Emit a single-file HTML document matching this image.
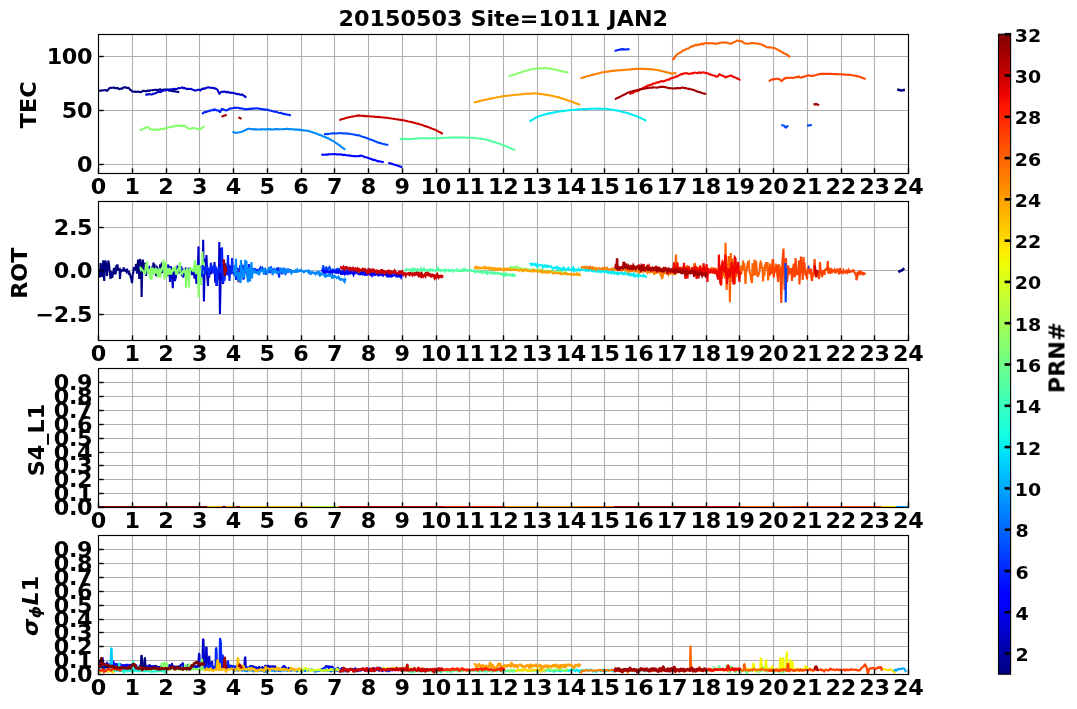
<!DOCTYPE html>
<html lang="en"><head><meta charset="utf-8"><title>20150503 Site=1011 JAN2</title>
<style>html,body{margin:0;padding:0;background:#fff}svg{display:block}</style></head>
<body>
<svg width="1077" height="709" viewBox="0 0 1077 709">
<rect width="1077" height="709" fill="#fff"/>
<defs>
<clipPath id="c0"><rect x="98.5" y="34.5" width="810.0" height="139.0"/></clipPath>
<clipPath id="c1"><rect x="98.5" y="201.5" width="810.0" height="139.0"/></clipPath>
<clipPath id="c2"><rect x="98.5" y="368.5" width="810.0" height="139.0"/></clipPath>
<clipPath id="c3"><rect x="98.5" y="535.5" width="810.0" height="139.0"/></clipPath>
<linearGradient id="jet" x1="0" y1="1" x2="0" y2="0">
<stop offset="0.0000" stop-color="#000080"/>
<stop offset="0.0156" stop-color="#000092"/>
<stop offset="0.0312" stop-color="#0000a4"/>
<stop offset="0.0469" stop-color="#0000b6"/>
<stop offset="0.0625" stop-color="#0000c8"/>
<stop offset="0.0781" stop-color="#0000da"/>
<stop offset="0.0938" stop-color="#0000ec"/>
<stop offset="0.1094" stop-color="#0000fe"/>
<stop offset="0.1250" stop-color="#0000ff"/>
<stop offset="0.1406" stop-color="#0010ff"/>
<stop offset="0.1562" stop-color="#0020ff"/>
<stop offset="0.1719" stop-color="#0030ff"/>
<stop offset="0.1875" stop-color="#0040ff"/>
<stop offset="0.2031" stop-color="#0050ff"/>
<stop offset="0.2188" stop-color="#0060ff"/>
<stop offset="0.2344" stop-color="#0070ff"/>
<stop offset="0.2500" stop-color="#0080ff"/>
<stop offset="0.2656" stop-color="#008fff"/>
<stop offset="0.2812" stop-color="#009fff"/>
<stop offset="0.2969" stop-color="#00afff"/>
<stop offset="0.3125" stop-color="#00bfff"/>
<stop offset="0.3281" stop-color="#00cfff"/>
<stop offset="0.3438" stop-color="#00dffc"/>
<stop offset="0.3594" stop-color="#08efef"/>
<stop offset="0.3750" stop-color="#15ffe2"/>
<stop offset="0.3906" stop-color="#21ffd5"/>
<stop offset="0.4062" stop-color="#2effc9"/>
<stop offset="0.4219" stop-color="#3bffbc"/>
<stop offset="0.4375" stop-color="#48ffaf"/>
<stop offset="0.4531" stop-color="#55ffa2"/>
<stop offset="0.4688" stop-color="#62ff95"/>
<stop offset="0.4844" stop-color="#6fff88"/>
<stop offset="0.5000" stop-color="#7bff7b"/>
<stop offset="0.5156" stop-color="#88ff6f"/>
<stop offset="0.5312" stop-color="#95ff62"/>
<stop offset="0.5469" stop-color="#a2ff55"/>
<stop offset="0.5625" stop-color="#afff48"/>
<stop offset="0.5781" stop-color="#bcff3b"/>
<stop offset="0.5938" stop-color="#c9ff2e"/>
<stop offset="0.6094" stop-color="#d5ff21"/>
<stop offset="0.6250" stop-color="#e2ff15"/>
<stop offset="0.6406" stop-color="#effe08"/>
<stop offset="0.6562" stop-color="#fcf000"/>
<stop offset="0.6719" stop-color="#ffe100"/>
<stop offset="0.6875" stop-color="#ffd200"/>
<stop offset="0.7031" stop-color="#ffc300"/>
<stop offset="0.7188" stop-color="#ffb500"/>
<stop offset="0.7344" stop-color="#ffa600"/>
<stop offset="0.7500" stop-color="#ff9700"/>
<stop offset="0.7656" stop-color="#ff8800"/>
<stop offset="0.7812" stop-color="#ff7a00"/>
<stop offset="0.7969" stop-color="#ff6b00"/>
<stop offset="0.8125" stop-color="#ff5c00"/>
<stop offset="0.8281" stop-color="#ff4d00"/>
<stop offset="0.8438" stop-color="#ff3f00"/>
<stop offset="0.8594" stop-color="#ff3000"/>
<stop offset="0.8750" stop-color="#ff2100"/>
<stop offset="0.8906" stop-color="#fe1200"/>
<stop offset="0.9062" stop-color="#ec0400"/>
<stop offset="0.9219" stop-color="#da0000"/>
<stop offset="0.9375" stop-color="#c80000"/>
<stop offset="0.9531" stop-color="#b60000"/>
<stop offset="0.9688" stop-color="#a40000"/>
<stop offset="0.9844" stop-color="#920000"/>
<stop offset="1.0000" stop-color="#800000"/>
</linearGradient>
</defs>
<g stroke="#b0b0b0" stroke-width="1.1" fill="none">
<line x1="132.5" y1="34.5" x2="132.5" y2="173.5"/>
<line x1="166.5" y1="34.5" x2="166.5" y2="173.5"/>
<line x1="199.5" y1="34.5" x2="199.5" y2="173.5"/>
<line x1="233.5" y1="34.5" x2="233.5" y2="173.5"/>
<line x1="267.5" y1="34.5" x2="267.5" y2="173.5"/>
<line x1="301.5" y1="34.5" x2="301.5" y2="173.5"/>
<line x1="334.5" y1="34.5" x2="334.5" y2="173.5"/>
<line x1="368.5" y1="34.5" x2="368.5" y2="173.5"/>
<line x1="402.5" y1="34.5" x2="402.5" y2="173.5"/>
<line x1="436.5" y1="34.5" x2="436.5" y2="173.5"/>
<line x1="469.5" y1="34.5" x2="469.5" y2="173.5"/>
<line x1="503.5" y1="34.5" x2="503.5" y2="173.5"/>
<line x1="537.5" y1="34.5" x2="537.5" y2="173.5"/>
<line x1="571.5" y1="34.5" x2="571.5" y2="173.5"/>
<line x1="604.5" y1="34.5" x2="604.5" y2="173.5"/>
<line x1="638.5" y1="34.5" x2="638.5" y2="173.5"/>
<line x1="672.5" y1="34.5" x2="672.5" y2="173.5"/>
<line x1="706.5" y1="34.5" x2="706.5" y2="173.5"/>
<line x1="739.5" y1="34.5" x2="739.5" y2="173.5"/>
<line x1="773.5" y1="34.5" x2="773.5" y2="173.5"/>
<line x1="807.5" y1="34.5" x2="807.5" y2="173.5"/>
<line x1="841.5" y1="34.5" x2="841.5" y2="173.5"/>
<line x1="874.5" y1="34.5" x2="874.5" y2="173.5"/>
<line x1="98.5" y1="56.5" x2="908.5" y2="56.5"/>
<line x1="98.5" y1="110.5" x2="908.5" y2="110.5"/>
<line x1="98.5" y1="164.5" x2="908.5" y2="164.5"/>
<line x1="132.5" y1="201.5" x2="132.5" y2="340.5"/>
<line x1="166.5" y1="201.5" x2="166.5" y2="340.5"/>
<line x1="199.5" y1="201.5" x2="199.5" y2="340.5"/>
<line x1="233.5" y1="201.5" x2="233.5" y2="340.5"/>
<line x1="267.5" y1="201.5" x2="267.5" y2="340.5"/>
<line x1="301.5" y1="201.5" x2="301.5" y2="340.5"/>
<line x1="334.5" y1="201.5" x2="334.5" y2="340.5"/>
<line x1="368.5" y1="201.5" x2="368.5" y2="340.5"/>
<line x1="402.5" y1="201.5" x2="402.5" y2="340.5"/>
<line x1="436.5" y1="201.5" x2="436.5" y2="340.5"/>
<line x1="469.5" y1="201.5" x2="469.5" y2="340.5"/>
<line x1="503.5" y1="201.5" x2="503.5" y2="340.5"/>
<line x1="537.5" y1="201.5" x2="537.5" y2="340.5"/>
<line x1="571.5" y1="201.5" x2="571.5" y2="340.5"/>
<line x1="604.5" y1="201.5" x2="604.5" y2="340.5"/>
<line x1="638.5" y1="201.5" x2="638.5" y2="340.5"/>
<line x1="672.5" y1="201.5" x2="672.5" y2="340.5"/>
<line x1="706.5" y1="201.5" x2="706.5" y2="340.5"/>
<line x1="739.5" y1="201.5" x2="739.5" y2="340.5"/>
<line x1="773.5" y1="201.5" x2="773.5" y2="340.5"/>
<line x1="807.5" y1="201.5" x2="807.5" y2="340.5"/>
<line x1="841.5" y1="201.5" x2="841.5" y2="340.5"/>
<line x1="874.5" y1="201.5" x2="874.5" y2="340.5"/>
<line x1="98.5" y1="227.5" x2="908.5" y2="227.5"/>
<line x1="98.5" y1="270.5" x2="908.5" y2="270.5"/>
<line x1="98.5" y1="314.5" x2="908.5" y2="314.5"/>
<line x1="132.5" y1="368.5" x2="132.5" y2="507.5"/>
<line x1="166.5" y1="368.5" x2="166.5" y2="507.5"/>
<line x1="199.5" y1="368.5" x2="199.5" y2="507.5"/>
<line x1="233.5" y1="368.5" x2="233.5" y2="507.5"/>
<line x1="267.5" y1="368.5" x2="267.5" y2="507.5"/>
<line x1="301.5" y1="368.5" x2="301.5" y2="507.5"/>
<line x1="334.5" y1="368.5" x2="334.5" y2="507.5"/>
<line x1="368.5" y1="368.5" x2="368.5" y2="507.5"/>
<line x1="402.5" y1="368.5" x2="402.5" y2="507.5"/>
<line x1="436.5" y1="368.5" x2="436.5" y2="507.5"/>
<line x1="469.5" y1="368.5" x2="469.5" y2="507.5"/>
<line x1="503.5" y1="368.5" x2="503.5" y2="507.5"/>
<line x1="537.5" y1="368.5" x2="537.5" y2="507.5"/>
<line x1="571.5" y1="368.5" x2="571.5" y2="507.5"/>
<line x1="604.5" y1="368.5" x2="604.5" y2="507.5"/>
<line x1="638.5" y1="368.5" x2="638.5" y2="507.5"/>
<line x1="672.5" y1="368.5" x2="672.5" y2="507.5"/>
<line x1="706.5" y1="368.5" x2="706.5" y2="507.5"/>
<line x1="739.5" y1="368.5" x2="739.5" y2="507.5"/>
<line x1="773.5" y1="368.5" x2="773.5" y2="507.5"/>
<line x1="807.5" y1="368.5" x2="807.5" y2="507.5"/>
<line x1="841.5" y1="368.5" x2="841.5" y2="507.5"/>
<line x1="874.5" y1="368.5" x2="874.5" y2="507.5"/>
<line x1="98.5" y1="493.5" x2="908.5" y2="493.5"/>
<line x1="98.5" y1="479.5" x2="908.5" y2="479.5"/>
<line x1="98.5" y1="465.5" x2="908.5" y2="465.5"/>
<line x1="98.5" y1="452.5" x2="908.5" y2="452.5"/>
<line x1="98.5" y1="438.5" x2="908.5" y2="438.5"/>
<line x1="98.5" y1="424.5" x2="908.5" y2="424.5"/>
<line x1="98.5" y1="410.5" x2="908.5" y2="410.5"/>
<line x1="98.5" y1="396.5" x2="908.5" y2="396.5"/>
<line x1="98.5" y1="382.5" x2="908.5" y2="382.5"/>
<line x1="132.5" y1="535.5" x2="132.5" y2="674.5"/>
<line x1="166.5" y1="535.5" x2="166.5" y2="674.5"/>
<line x1="199.5" y1="535.5" x2="199.5" y2="674.5"/>
<line x1="233.5" y1="535.5" x2="233.5" y2="674.5"/>
<line x1="267.5" y1="535.5" x2="267.5" y2="674.5"/>
<line x1="301.5" y1="535.5" x2="301.5" y2="674.5"/>
<line x1="334.5" y1="535.5" x2="334.5" y2="674.5"/>
<line x1="368.5" y1="535.5" x2="368.5" y2="674.5"/>
<line x1="402.5" y1="535.5" x2="402.5" y2="674.5"/>
<line x1="436.5" y1="535.5" x2="436.5" y2="674.5"/>
<line x1="469.5" y1="535.5" x2="469.5" y2="674.5"/>
<line x1="503.5" y1="535.5" x2="503.5" y2="674.5"/>
<line x1="537.5" y1="535.5" x2="537.5" y2="674.5"/>
<line x1="571.5" y1="535.5" x2="571.5" y2="674.5"/>
<line x1="604.5" y1="535.5" x2="604.5" y2="674.5"/>
<line x1="638.5" y1="535.5" x2="638.5" y2="674.5"/>
<line x1="672.5" y1="535.5" x2="672.5" y2="674.5"/>
<line x1="706.5" y1="535.5" x2="706.5" y2="674.5"/>
<line x1="739.5" y1="535.5" x2="739.5" y2="674.5"/>
<line x1="773.5" y1="535.5" x2="773.5" y2="674.5"/>
<line x1="807.5" y1="535.5" x2="807.5" y2="674.5"/>
<line x1="841.5" y1="535.5" x2="841.5" y2="674.5"/>
<line x1="874.5" y1="535.5" x2="874.5" y2="674.5"/>
<line x1="98.5" y1="660.5" x2="908.5" y2="660.5"/>
<line x1="98.5" y1="646.5" x2="908.5" y2="646.5"/>
<line x1="98.5" y1="632.5" x2="908.5" y2="632.5"/>
<line x1="98.5" y1="619.5" x2="908.5" y2="619.5"/>
<line x1="98.5" y1="605.5" x2="908.5" y2="605.5"/>
<line x1="98.5" y1="591.5" x2="908.5" y2="591.5"/>
<line x1="98.5" y1="577.5" x2="908.5" y2="577.5"/>
<line x1="98.5" y1="563.5" x2="908.5" y2="563.5"/>
<line x1="98.5" y1="549.5" x2="908.5" y2="549.5"/>
</g>
<g fill="none" stroke-linejoin="round" stroke-linecap="butt" clip-path="url(#c0)">
<polyline points="99.0,91.2 100.0,90.6 101.0,90.6 102.0,90.6 103.0,90.2 104.0,90.2 105.0,90.3 106.0,90.1 107.0,91.0 108.0,89.9 109.0,88.5 110.0,87.9 111.0,88.0 112.0,87.8 113.0,87.8 114.0,87.5 115.0,88.1 116.0,88.1 117.0,88.2 118.0,88.0 119.0,89.1 120.0,89.0 121.0,88.5 122.0,88.8 123.0,87.9 124.0,87.2 125.0,87.5 126.0,87.2 127.0,88.1 128.0,87.8 129.0,88.2 130.0,89.7 131.0,90.0 132.0,91.4 133.0,91.5 134.0,91.8 135.0,91.5 136.0,92.0 137.0,91.9 138.0,91.5 139.0,92.0 140.0,91.9 141.0,92.2 142.0,91.5 143.0,90.9 144.0,90.7 145.0,91.1 146.0,91.4 147.0,90.8 148.0,90.5 149.0,91.0 150.0,90.5 151.0,90.3 152.0,90.3 153.0,90.1 154.0,90.0 155.0,89.6 156.0,90.1 157.0,89.9 158.0,90.1 159.0,89.7 160.0,89.3 161.0,89.7 162.0,90.2 163.0,89.7 164.0,89.5 165.0,89.5 166.0,89.6 167.0,89.9 168.0,89.8 169.0,90.6 170.0,90.4 171.0,90.6 172.0,91.1 173.0,91.3 174.0,91.1 175.0,91.4 176.0,91.6 177.0,91.7 178.0,91.7 179.0,92.6" stroke="#000080" stroke-width="2.1" />
<polyline points="145.4,94.9 146.4,94.7 147.4,94.3 148.4,94.4 149.4,94.3 150.4,94.3 151.4,94.6 152.4,94.3 153.4,93.8 154.4,93.5 155.4,93.2 156.4,92.8 157.4,92.4 158.4,92.0 159.4,91.8 160.4,92.1 161.4,91.5 162.4,90.9 163.4,90.6 164.4,90.3 165.4,90.4 166.4,90.2 167.4,89.5 168.4,89.8 169.4,89.4 170.4,89.8 171.4,89.3 172.4,89.6 173.4,89.0 174.4,88.9 175.4,89.0 176.4,89.0 177.4,88.7 178.4,88.0 179.4,88.2 180.4,88.0 181.4,87.7 182.4,87.4 183.4,88.3 184.4,88.1 185.4,88.3 186.4,89.0 187.4,88.9 188.4,88.8 189.4,89.0 190.4,89.0 191.4,88.9 192.4,89.6 193.4,90.0 194.4,90.4 195.4,90.5 196.4,90.2 197.4,90.0 198.4,89.6 199.4,89.7 200.4,90.5 201.4,89.4 202.4,88.6 203.4,89.0 204.4,88.4 205.4,88.5 206.4,87.9 207.4,87.5 208.4,87.2 209.4,87.5 210.4,87.7 211.4,87.7 212.4,88.0 213.4,87.8 214.4,88.5 215.4,88.3 216.4,89.1 217.4,89.6 218.4,91.7 219.4,93.9 220.4,92.7 221.4,91.7 222.4,91.8 223.4,91.9 224.4,91.5 225.4,91.9 226.4,92.4 227.4,91.7 228.4,92.3 229.4,92.7 230.4,92.4 231.4,92.9 232.4,92.7 233.4,93.0 234.4,93.2 235.4,93.6 236.4,93.7 237.4,94.2 238.4,93.9 239.4,94.2 240.4,94.7 241.4,94.7 242.4,94.4 243.4,95.6 244.4,96.0 245.4,96.9 246.4,97.5" stroke="#0000ca" stroke-width="2.1" />
<polyline points="202.0,113.8 203.0,113.2 204.0,112.4 205.0,112.1 206.0,112.1 207.0,111.5 208.0,111.4 209.0,110.9 210.0,110.5 211.0,110.7 212.0,110.1 213.0,109.6 214.0,110.3 215.0,109.3 216.0,110.1 217.0,110.4 218.0,110.5 219.0,111.0 220.0,112.2 221.0,110.3 222.0,108.9 223.0,109.2 224.0,109.8 225.0,110.0 226.0,110.5 227.0,110.3 228.0,109.8 229.0,109.0 230.0,108.6 231.0,108.4 232.0,108.2 233.0,108.2 234.0,107.9 235.0,107.8 236.0,107.9 237.0,107.7 238.0,107.8 239.0,108.0 240.0,108.5 241.0,108.3 242.0,108.5 243.0,108.6 244.0,109.0 245.0,109.4 246.0,109.1 247.0,109.1 248.0,109.2 249.0,108.9 250.0,108.7 251.0,108.9 252.0,108.6 253.0,108.6 254.0,108.6 255.0,108.5 256.0,108.2 257.0,108.3 258.0,108.6 259.0,108.7 260.0,108.5 261.0,109.2 262.0,109.1 263.0,109.4 264.0,109.2 265.0,109.8 266.0,109.6 267.0,109.8 268.0,109.8 269.0,110.2 270.0,110.5 271.0,110.7 272.0,111.0 273.0,111.2 274.0,111.6 275.0,111.6 276.0,111.7 277.0,112.1 278.0,112.5 279.0,112.8 280.0,113.0 281.0,112.7 282.0,113.4 283.0,113.9 284.0,113.9 285.0,114.0 286.0,114.5 287.0,114.5 288.0,114.8 289.0,114.8 290.0,115.3 291.0,115.2" stroke="#0025ff" stroke-width="2.1" />
<polyline points="139.6,130.3 140.6,130.2 141.6,129.8 142.6,129.1 143.6,128.7 144.6,127.8 145.6,128.2 146.6,127.4 147.6,126.8 148.6,127.6 149.6,128.6 150.6,129.5 151.6,129.8 152.6,129.9 153.6,129.4 154.6,129.3 155.6,129.9 156.6,129.7 157.6,129.6 158.6,129.9 159.6,129.2 160.6,129.1 161.6,129.3 162.6,129.3 163.6,128.6 164.6,128.9 165.6,128.1 166.6,128.1 167.6,127.7 168.6,127.1 169.6,127.3 170.6,127.2 171.6,126.6 172.6,126.5 173.6,126.7 174.6,125.9 175.6,125.7 176.6,125.8 177.6,125.5 178.6,126.0 179.6,125.8 180.6,125.5 181.6,125.6 182.6,126.5 183.6,125.7 184.6,125.7 185.6,126.4 186.6,127.3 187.6,128.0 188.6,128.6 189.6,128.7 190.6,128.9 191.6,128.5 192.6,127.8 193.6,128.3 194.6,128.2 195.6,128.3 196.6,128.7 197.6,129.2 198.6,129.3 199.6,128.9 200.6,128.9 201.6,128.0 202.6,127.8 203.6,126.6 204.6,126.1" stroke="#89ff6e" stroke-width="2.1" />
<polyline points="221.5,116.8 226.7,114.8" stroke="#a50000" stroke-width="2.2" />
<polyline points="238.5,117.2 241.5,118.9" stroke="#a50000" stroke-width="2.2" />
<polyline points="232.5,131.7 233.7,132.4 234.9,132.6 236.1,132.8 237.3,132.8 238.5,132.5 239.7,132.2 240.9,131.9 242.1,131.6 243.3,131.3 244.5,130.4 245.7,130.1 246.9,129.3 248.1,128.8 249.3,128.7 250.5,129.1 251.7,129.3 252.9,129.1 254.1,129.4 255.3,129.4 256.5,129.3 257.7,129.5 258.9,129.5 260.1,129.3 261.3,129.4 262.5,129.3 263.7,129.3 264.9,129.4 266.1,129.5 267.3,129.3 268.5,129.1 269.7,129.4 270.9,129.2 272.1,129.4 273.3,129.5 274.5,129.3 275.7,129.1 276.9,129.1 278.1,129.4 279.3,129.2 280.5,129.3 281.7,129.3 282.9,129.2 284.1,129.1 285.3,129.0 286.5,128.8 287.7,128.9 288.9,129.1 290.1,129.1 291.3,129.3 292.5,129.3 293.7,129.4 294.9,129.6 296.1,129.5 297.3,129.6 298.5,129.5 299.7,129.9 300.9,129.9 302.1,130.1 303.3,130.4 304.5,130.5 305.7,130.5 306.9,130.8 308.1,130.7 309.3,131.2 310.5,131.6 311.7,131.8 312.9,132.5 314.1,132.7 315.3,133.3 316.5,133.5 317.7,134.1 318.9,134.7 320.1,134.9 321.3,135.3 322.5,136.0 323.7,136.6 324.9,137.0 326.1,137.4 327.3,138.2 328.5,138.4 329.7,139.2 330.9,139.8 332.1,140.6 333.3,141.1 334.5,141.8 335.7,142.8 336.9,143.5 338.1,144.5 339.3,145.2 340.5,146.1 341.7,146.9 342.9,148.0 344.1,148.8 345.3,149.7" stroke="#0088ff" stroke-width="2.1" />
<polyline points="323.9,134.3 325.4,134.1 326.9,134.1 328.4,133.9 329.9,133.8 331.4,133.5 332.9,133.4 334.4,133.4 335.9,133.5 337.4,133.2 338.9,133.2 340.4,133.1 341.9,133.3 343.4,133.4 344.9,133.5 346.4,133.3 347.9,133.6 349.4,133.7 350.9,134.0 352.4,134.2 353.9,134.5 355.4,134.9 356.9,135.3 358.4,135.1 359.9,135.8 361.4,136.4 362.9,136.8 364.4,137.3 365.9,137.7 367.4,138.2 368.9,139.0 370.4,139.6 371.9,140.1 373.4,140.6 374.9,141.3 376.4,141.8 377.9,142.5 379.4,142.9 380.9,143.2 382.4,143.7 383.9,144.0 385.4,144.5 386.9,144.8 388.4,144.8" stroke="#0046ff" stroke-width="2.1" />
<polyline points="321.4,154.9 322.6,154.6 323.8,154.8 325.0,154.7 326.2,154.5 327.4,154.6 328.6,154.4 329.8,154.3 331.0,154.2 332.2,154.2 333.4,154.1 334.6,154.1 335.8,154.1 337.0,154.4 338.2,154.5 339.4,154.4 340.6,154.3 341.8,154.8 343.0,154.9 344.2,154.8 345.4,154.9 346.6,155.3 347.8,155.6 349.0,155.3 350.2,155.8 351.4,155.9 352.6,156.0 353.8,156.3 355.0,156.1 356.2,156.2 357.4,156.3 358.6,156.1 359.8,155.9 361.0,155.6 362.2,156.0 363.4,156.3 364.6,157.2 365.8,157.3 367.0,157.6 368.2,158.0 369.4,158.4 370.6,158.9 371.8,159.1 373.0,159.9 374.2,159.8 375.4,160.2 376.6,160.7 377.8,161.2 379.0,161.4 380.2,161.4 381.4,161.7 382.6,162.0 383.8,162.3" stroke="#0004ff" stroke-width="2.1" />
<polyline points="388.3,162.7 395.6,165.1 402.2,167.2" stroke="#0004ff" stroke-width="2.1" />
<polyline points="339.3,120.2 340.8,119.6 342.3,119.1 343.8,118.7 345.3,118.1 346.8,117.8 348.3,117.4 349.8,117.0 351.3,116.8 352.8,116.5 354.3,116.2 355.8,116.0 357.3,115.6 358.8,115.4 360.3,115.7 361.8,115.8 363.3,115.9 364.8,116.1 366.3,116.1 367.8,116.3 369.3,116.3 370.8,116.5 372.3,116.5 373.8,116.6 375.3,116.9 376.8,117.0 378.3,116.9 379.8,117.1 381.3,117.3 382.8,117.5 384.3,117.5 385.8,117.7 387.3,117.8 388.8,118.2 390.3,118.2 391.8,118.5 393.3,118.7 394.8,119.0 396.3,119.2 397.8,119.4 399.3,119.7 400.8,119.9 402.3,120.2 403.8,120.3 405.3,120.7 406.8,121.1 408.3,121.5 409.8,121.7 411.3,122.0 412.8,122.4 414.3,122.7 415.8,123.3 417.3,123.6 418.8,124.1 420.3,124.5 421.8,124.8 423.3,125.4 424.8,125.9 426.3,126.4 427.8,126.9 429.3,127.6 430.8,128.1 432.3,128.8 433.8,129.3 435.3,129.9 436.8,130.6 438.3,131.4 439.8,132.3 441.3,133.0 442.8,133.8" stroke="#ca0000" stroke-width="2.1" />
<polyline points="399.7,138.9 401.2,138.9 402.7,138.9 404.2,139.0 405.7,138.9 407.2,139.1 408.7,139.1 410.2,139.0 411.7,139.0 413.2,138.8 414.7,138.8 416.2,138.6 417.7,138.5 419.2,138.3 420.7,138.3 422.2,138.2 423.7,138.2 425.2,138.2 426.7,138.2 428.2,138.2 429.7,138.2 431.2,138.2 432.7,138.1 434.2,138.2 435.7,138.2 437.2,138.1 438.7,138.1 440.2,138.0 441.7,138.0 443.2,137.9 444.7,137.8 446.2,137.8 447.7,137.7 449.2,137.6 450.7,137.5 452.2,137.5 453.7,137.4 455.2,137.5 456.7,137.6 458.2,137.5 459.7,137.5 461.2,137.4 462.7,137.5 464.2,137.5 465.7,137.6 467.2,137.7 468.7,137.7 470.2,137.7 471.7,137.7 473.2,137.8 474.7,138.0 476.2,138.1 477.7,138.3 479.2,138.6 480.7,138.7 482.2,138.9 483.7,139.0 485.2,139.5 486.7,139.7 488.2,140.2 489.7,140.7 491.2,141.2 492.7,141.6 494.2,142.0 495.7,142.5 497.2,143.1 498.7,143.6 500.2,144.1 501.7,144.6 503.2,145.2 504.7,145.8 506.2,146.4 507.7,147.0 509.2,147.6 510.7,148.2 512.2,148.9 513.7,149.4 515.2,150.1" stroke="#54ffa3" stroke-width="2.1" />
<polyline points="473.7,102.6 475.2,102.2 476.7,101.8 478.2,101.5 479.7,101.1 481.2,100.7 482.7,100.3 484.2,100.0 485.7,99.7 487.2,99.4 488.7,99.0 490.2,98.7 491.7,98.4 493.2,98.1 494.7,97.7 496.2,97.5 497.7,97.2 499.2,97.0 500.7,96.7 502.2,96.4 503.7,96.2 505.2,96.0 506.7,95.8 508.2,95.7 509.7,95.5 511.2,95.3 512.7,95.2 514.2,95.0 515.7,94.8 517.2,94.7 518.7,94.5 520.2,94.4 521.7,94.2 523.2,94.1 524.7,93.9 526.2,93.8 527.7,93.7 529.2,93.6 530.7,93.6 532.2,93.5 533.7,93.5 535.2,93.4 536.7,93.5 538.2,93.7 539.7,93.9 541.2,94.1 542.7,94.3 544.2,94.5 545.7,94.7 547.2,94.9 548.7,95.2 550.2,95.5 551.7,95.8 553.2,96.1 554.7,96.5 556.2,96.8 557.7,97.1 559.2,97.4 560.7,97.9 562.2,98.4 563.7,98.9 565.2,99.4 566.7,99.9 568.2,100.4 569.7,100.9 571.2,101.5 572.7,102.0 574.2,102.6 575.7,103.2 577.2,103.7 578.7,104.3 580.2,104.9" stroke="#ff9f00" stroke-width="2.1" />
<polyline points="508.6,76.2 510.1,75.8 511.6,75.3 513.1,74.9 514.6,74.4 516.1,74.0 517.6,73.5 519.1,73.0 520.6,72.5 522.1,72.1 523.6,71.6 525.1,71.1 526.6,70.6 528.1,70.2 529.6,69.8 531.1,69.4 532.6,68.9 534.1,68.8 535.6,68.7 537.1,68.6 538.6,68.5 540.1,68.4 541.6,68.3 543.1,68.2 544.6,68.1 546.1,68.0 547.6,68.3 549.1,68.5 550.6,68.8 552.1,69.1 553.6,69.3 555.1,69.6 556.6,70.0 558.1,70.3 559.6,70.7 561.1,71.1 562.6,71.4 564.1,71.7 565.6,72.0 567.1,72.2 568.6,72.5" stroke="#89ff6e" stroke-width="2.1" />
<polyline points="580.4,78.3 581.9,77.9 583.4,77.4 584.9,77.0 586.4,76.6 587.9,76.1 589.4,75.7 590.9,75.2 592.4,74.9 593.9,74.5 595.4,74.1 596.9,73.7 598.4,73.4 599.9,73.0 601.4,72.6 602.9,72.2 604.4,72.0 605.9,71.8 607.4,71.6 608.9,71.4 610.4,71.1 611.9,70.9 613.4,70.7 614.9,70.6 616.4,70.5 617.9,70.4 619.4,70.3 620.9,70.2 622.4,70.1 623.9,70.0 625.4,69.8 626.9,69.7 628.4,69.6 629.9,69.4 631.4,69.3 632.9,69.1 634.4,69.0 635.9,68.9 637.4,68.9 638.9,68.9 640.4,68.9 641.9,68.9 643.4,68.9 644.9,68.9 646.4,69.0 647.9,69.1 649.4,69.1 650.9,69.2 652.4,69.3 653.9,69.6 655.4,69.8 656.9,70.0 658.4,70.3 659.9,70.6 661.4,71.0 662.9,71.3 664.4,71.7 665.9,72.1 667.4,72.4 668.9,72.8 670.4,73.2 671.9,73.6 673.4,73.4 674.9,73.2 676.4,72.9" stroke="#ff8000" stroke-width="2.1" />
<polyline points="529.4,121.6 530.9,120.7 532.4,119.8 533.9,118.9 535.4,117.9 536.9,117.0 538.4,116.5 539.9,116.0 541.4,115.6 542.9,115.1 544.4,114.6 545.9,114.2 547.4,113.7 548.9,113.4 550.4,113.1 551.9,112.9 553.4,112.6 554.9,112.3 556.4,112.0 557.9,111.7 559.4,111.5 560.9,111.3 562.4,111.1 563.9,110.9 565.4,110.7 566.9,110.5 568.4,110.3 569.9,110.1 571.4,110.0 572.9,109.9 574.4,109.8 575.9,109.7 577.4,109.5 578.9,109.4 580.4,109.3 581.9,109.2 583.4,109.1 584.9,109.1 586.4,109.0 587.9,109.0 589.4,108.9 590.9,108.8 592.4,108.8 593.9,108.7 595.4,108.7 596.9,108.6 598.4,108.6 599.9,108.7 601.4,108.7 602.9,108.7 604.4,108.8 605.9,108.8 607.4,109.0 608.9,109.2 610.4,109.5 611.9,109.7 613.4,109.9 614.9,110.2 616.4,110.4 617.9,110.6 619.4,111.0 620.9,111.4 622.4,111.8 623.9,112.2 625.4,112.6 626.9,113.0 628.4,113.4 629.9,113.8 631.4,114.4 632.9,114.9 634.4,115.5 635.9,116.0 637.4,116.6 638.9,117.2 640.4,117.9 641.9,118.6 643.4,119.4 644.9,120.1 646.4,120.8" stroke="#04eaf3" stroke-width="2.1" />
<polyline points="614.6,50.9 618.0,50.0 622.2,49.1 626.0,49.5 629.5,49.1" stroke="#0025ff" stroke-width="2.1" />
<polyline points="629.5,94.3 630.5,93.6 631.5,93.1 632.5,93.2 633.5,92.6 634.5,91.9 635.5,90.9 636.5,91.2 637.5,91.0 638.5,90.7 639.5,89.7 640.5,89.2 641.5,88.8 642.5,88.6 643.5,87.6 644.5,87.4 645.5,86.7 646.5,86.5 647.5,85.6 648.5,85.7 649.5,85.1 650.5,84.8 651.5,84.6 652.5,84.4 653.5,83.3 654.5,83.6 655.5,83.2 656.5,82.6 657.5,82.6 658.5,82.0 659.5,82.1 660.5,81.4 661.5,81.1 662.5,81.4 663.5,81.5 664.5,80.9 665.5,80.7 666.5,80.1 667.5,79.6 668.5,79.5 669.5,79.6 670.5,78.4 671.5,78.3 672.5,77.6 673.5,77.7 674.5,77.5 675.5,76.6 676.5,76.4 677.5,76.4 678.5,75.7 679.5,75.0 680.5,74.6 681.5,74.0 682.5,74.2 683.5,73.4 684.5,73.5 685.5,73.2 686.5,73.1 687.5,73.4 688.5,74.0 689.5,73.8 690.5,73.7 691.5,73.1 692.5,73.6 693.5,73.0 694.5,72.6 695.5,72.8 696.5,73.0 697.5,73.3 698.5,72.6 699.5,72.3 700.5,73.1 701.5,72.6 702.5,72.5 703.5,72.4 704.5,72.5 705.5,73.2 706.5,72.9 707.5,73.2 708.5,73.6 709.5,74.4 710.5,74.3 711.5,75.0 712.5,75.2 713.5,75.5 714.5,75.5 715.5,76.2 716.5,76.7 717.5,76.5 718.5,75.3 719.5,74.2 720.5,74.9 721.5,75.3 722.5,75.8 723.5,76.3 724.5,76.4 725.5,77.5 726.5,77.0 727.5,76.5 728.5,76.2 729.5,76.0 730.5,75.5 731.5,75.6 732.5,76.6 733.5,76.7 734.5,77.2 735.5,77.5 736.5,78.3 737.5,78.5 738.5,79.0 739.5,79.7 740.5,80.0" stroke="#f00600" stroke-width="2.1" />
<polyline points="614.9,99.5 616.1,98.7 617.3,98.0 618.5,97.5 619.7,96.8 620.9,96.4 622.1,95.7 623.3,95.0 624.5,94.6 625.7,93.9 626.9,93.2 628.1,92.5 629.3,92.2 630.5,91.8 631.7,91.5 632.9,91.1 634.1,90.7 635.3,90.5 636.5,90.3 637.7,89.9 638.9,89.7 640.1,89.4 641.3,89.2 642.5,89.0 643.7,88.6 644.9,88.6 646.1,88.3 647.3,88.1 648.5,87.9 649.7,87.8 650.9,87.6 652.1,87.8 653.3,87.3 654.5,87.5 655.7,87.5 656.9,87.6 658.1,87.4 659.3,87.1 660.5,86.9 661.7,86.9 662.9,86.9 664.1,86.9 665.3,87.1 666.5,87.4 667.7,87.8 668.9,88.2 670.1,88.1 671.3,88.3 672.5,88.5 673.7,88.4 674.9,88.2 676.1,88.4 677.3,88.0 678.5,88.1 679.7,88.2 680.9,88.1 682.1,87.5 683.3,87.7 684.5,88.1 685.7,88.0 686.9,88.4 688.1,88.9 689.3,88.8 690.5,89.3 691.7,89.5 692.9,89.6 694.1,90.3 695.3,90.6 696.5,91.2 697.7,91.8 698.9,91.9 700.1,92.2 701.3,92.7 702.5,93.1 703.7,93.6 704.9,93.6 706.1,94.1" stroke="#a50000" stroke-width="2.1" />
<polyline points="672.2,59.9 673.2,59.3 674.2,58.0 675.2,56.6 676.2,55.4 677.2,54.3 678.2,53.6 679.2,53.1 680.2,52.4 681.2,52.2 682.2,51.3 683.2,50.4 684.2,49.8 685.2,49.8 686.2,49.1 687.2,48.7 688.2,48.4 689.2,48.1 690.2,47.0 691.2,46.7 692.2,46.0 693.2,46.2 694.2,45.5 695.2,45.1 696.2,44.9 697.2,45.1 698.2,44.7 699.2,44.4 700.2,44.6 701.2,43.9 702.2,43.6 703.2,44.4 704.2,43.4 705.2,43.2 706.2,43.0 707.2,43.1 708.2,43.4 709.2,43.4 710.2,43.4 711.2,43.2 712.2,43.0 713.2,43.4 714.2,43.8 715.2,43.7 716.2,43.4 717.2,43.6 718.2,43.2 719.2,43.1 720.2,42.6 721.2,42.7 722.2,42.7 723.2,42.4 724.2,42.5 725.2,42.6 726.2,42.7 727.2,42.8 728.2,43.1 729.2,43.5 730.2,43.6 731.2,43.4 732.2,43.1 733.2,42.5 734.2,42.1 735.2,41.6 736.2,41.1 737.2,40.5 738.2,40.8 739.2,41.0 740.2,40.9 741.2,41.3 742.2,41.8 743.2,42.4 744.2,43.1 745.2,43.4 746.2,43.8 747.2,43.7 748.2,43.7 749.2,43.5 750.2,43.4 751.2,43.2 752.2,42.7 753.2,43.1 754.2,43.6 755.2,43.2 756.2,43.3 757.2,43.8 758.2,43.7 759.2,43.7 760.2,44.3 761.2,44.4 762.2,44.9 763.2,45.1 764.2,45.8 765.2,46.3 766.2,46.9 767.2,47.3 768.2,47.4 769.2,47.3 770.2,47.6 771.2,47.2 772.2,47.8 773.2,48.0 774.2,48.0 775.2,48.4 776.2,49.0 777.2,49.2 778.2,50.1 779.2,50.6 780.2,50.8 781.2,51.6 782.2,52.3 783.2,52.8 784.2,53.4 785.2,53.7 786.2,54.2 787.2,54.7 788.2,55.6 789.2,56.6 790.2,56.9" stroke="#ff6200" stroke-width="2.1" />
<polyline points="768.8,81.3 769.8,80.9 770.8,79.8 771.8,79.7 772.8,79.2 773.8,79.1 774.8,79.2 775.8,78.7 776.8,78.8 777.8,78.9 778.8,79.0 779.8,79.6 780.8,80.3 781.8,81.1 782.8,79.8 783.8,79.3 784.8,78.2 785.8,77.9 786.8,78.1 787.8,77.7 788.8,77.7 789.8,78.0 790.8,77.7 791.8,77.8 792.8,78.0 793.8,77.8 794.8,77.2 795.8,77.2 796.8,77.1 797.8,77.1 798.8,76.3 799.8,77.4 800.8,77.6 801.8,77.3 802.8,76.9 803.8,76.9 804.8,76.3 805.8,76.1 806.8,75.8 807.8,75.3 808.8,75.5 809.8,75.6 810.8,75.7 811.8,75.9 812.8,76.0 814.7,75.2 816.2,75.0 817.7,74.6 819.2,74.2 820.7,73.9 822.2,73.9 823.7,73.9 825.2,73.9 826.7,73.8 828.2,73.9 829.7,73.9 831.2,73.9 832.7,74.0 834.2,74.1 835.7,74.1 837.2,74.1 838.7,74.2 840.2,74.2 841.7,74.4 843.2,74.4 844.7,74.6 846.2,74.7 847.7,74.8 849.2,74.9 850.7,75.0 852.2,75.2 853.7,75.5 855.2,75.8 856.7,76.1 858.2,76.4 859.7,76.8 861.2,77.4 862.7,78.0 864.2,78.6 865.7,79.1" stroke="#ff4300" stroke-width="2.1" />
<polyline points="781.3,125.0 784.2,125.7 785.7,127.6 788.3,125.7" stroke="#0046ff" stroke-width="2.2" />
<polyline points="807.1,125.7 811.8,125.0" stroke="#0046ff" stroke-width="2.2" />
<polyline points="813.5,104.4 816.5,104.1 819.1,105.2" stroke="#a50000" stroke-width="2.2" />
<polyline points="897.2,89.5 901.3,90.5 904.9,89.8" stroke="#000080" stroke-width="2.4" />
</g>
<g fill="none" stroke-linejoin="miter" stroke-miterlimit="3" clip-path="url(#c1)">
<polyline points="99.0,276.3 99.5,270.0 100.1,277.4 100.5,263.0 101.1,267.1 101.6,270.9 102.3,277.0 102.7,270.8 103.2,260.4 103.8,273.7 104.2,281.0 104.8,266.4 105.3,260.5 105.9,262.6 106.4,265.2 107.0,276.0 107.4,268.0 108.0,270.5 108.3,260.5 109.0,264.2 109.6,269.9 110.1,275.0 110.5,279.0 111.1,271.3 111.7,273.4 112.2,277.9 112.7,274.9 113.3,273.8 113.8,268.9 114.3,268.7 114.8,271.8 115.4,274.2 115.9,272.0 116.4,265.1 117.0,268.9 117.5,264.3 118.0,270.6 118.5,269.4 119.1,269.4 119.6,269.1 120.0,279.0 120.6,268.9 121.2,271.2 121.7,270.4 122.2,270.7 122.8,270.2 123.3,269.8 123.8,267.5 124.3,270.7 124.9,270.7 125.4,269.2 125.9,270.8 126.5,271.8 127.0,268.7 127.5,271.5 128.0,271.8 128.6,271.8 129.1,274.7 129.6,273.6 130.2,275.2 130.7,277.3 131.2,278.3 132.0,283.0 132.3,280.5 132.8,273.3 133.3,272.8 133.8,267.1 134.4,269.3 134.9,269.7 135.4,269.7 136.0,264.0 136.5,265.2 137.0,273.6 137.5,265.7 138.2,259.5 138.6,263.1 139.3,279.0 139.7,269.1 140.0,259.0 140.7,263.6 141.2,265.5 141.6,297.0 142.3,266.8 142.8,259.5 143.4,265.4 143.9,267.3 144.4,271.8 144.9,262.7 145.5,265.6 146.0,276.0 146.5,268.7 147.0,265.6 147.6,272.3 148.1,271.0 148.6,270.0 149.2,268.7 149.7,271.2 150.2,271.2 150.7,271.7 151.3,268.6 151.8,272.6 152.3,266.4 152.9,274.3 153.4,262.5 153.9,269.0 154.4,263.7 155.0,273.0 155.5,266.4 156.0,276.0 156.6,266.2 157.1,276.6 157.6,272.0 158.1,270.9 158.7,272.0 159.2,277.0 159.7,273.3 160.2,264.3 160.8,274.1 161.3,271.4 161.8,262.6 162.4,272.9 162.9,267.2 163.4,271.2 163.9,271.4 164.5,267.0 165.0,274.4 165.5,267.8 166.1,271.2 166.6,269.2 167.1,270.2 167.6,276.1 168.2,271.0 168.7,267.6 169.2,270.4 169.8,268.5 170.3,270.8 170.8,271.2 171.3,270.9 171.9,270.9 172.4,269.2 172.9,272.0 173.4,273.7 174.0,269.0 174.5,270.5 175.0,270.9 175.6,277.7 176.1,273.7 176.6,268.7 177.1,270.9 177.7,266.6 178.2,268.0 178.7,270.7 179.3,272.4 179.8,273.3" stroke="#000080" stroke-width="2.1" />
<polyline points="145.0,272.7 145.6,273.6 146.3,270.7 146.9,269.4 147.5,268.7 148.1,272.8 148.8,268.7 149.4,267.7 150.0,270.2 150.6,270.7 151.3,272.4 151.9,272.7 152.5,267.8 153.2,269.1 153.8,270.0 154.4,268.2 155.0,270.5 155.7,271.6 156.3,270.9 156.9,267.4 157.5,268.2 158.2,273.4 158.8,268.6 159.4,272.3 160.0,273.4 160.7,270.0 161.3,268.6 161.9,271.6 162.6,268.8 163.2,269.9 163.8,270.9 164.4,267.6 165.1,270.2 165.7,270.0 166.3,268.0 166.9,270.3 167.6,269.3 168.2,264.5 168.8,270.0 169.5,270.1 170.0,282.0 170.7,266.1 171.3,272.4 172.0,272.2 172.8,288.2 173.2,271.4 173.8,267.8 174.5,271.0 175.0,281.0 175.7,277.2 176.4,269.5 177.0,272.2 177.6,267.1 178.2,268.0 178.9,269.4 179.5,272.3 180.1,272.0 180.7,271.4 181.4,266.3 182.0,276.1 182.6,268.5 183.2,277.4 183.9,275.2 184.5,274.7 185.1,273.1 185.8,267.6 186.4,277.6 187.0,271.2 187.6,273.1 188.3,268.6 188.9,270.5 189.5,267.8 190.1,270.1 190.8,270.7 191.4,271.4 192.0,275.1 192.7,272.3 193.3,272.4 193.9,271.0 194.5,278.6 195.2,268.3 195.8,275.8 196.5,284.0 197.0,266.8 197.7,274.3 198.5,246.4 198.9,283.1 199.5,282.0 200.2,283.0 200.8,266.0 201.4,270.1 202.1,278.4 202.7,275.7 203.2,239.8 203.9,301.5 204.6,267.0 205.2,258.9 205.8,263.9 206.5,255.0 207.1,274.2 208.0,286.0 208.3,271.2 209.0,277.9 209.6,271.4 210.2,269.4 210.8,273.4 211.5,273.0 212.1,271.1 212.7,268.4 213.3,268.9 214.0,271.1 214.5,262.0 215.2,282.5 215.9,278.6 216.5,286.0 217.1,279.6 217.7,277.7 218.4,277.0 219.0,272.4 219.3,242.0 219.9,313.9 220.9,267.8 221.5,248.0 222.1,266.9 223.0,284.0 223.4,272.6 224.0,275.3 224.6,269.7 225.3,263.2 225.9,272.1 226.5,274.8 227.1,270.8 227.8,270.2 228.4,272.9 229.0,276.1 229.6,270.5 230.3,265.7 230.9,266.9 231.5,270.2 232.2,264.9 232.8,273.1 233.4,268.4 234.0,272.2 234.7,271.8 235.3,269.0 235.9,275.1 236.5,269.2 237.2,268.9 237.8,272.2 238.4,275.1 239.1,270.7 239.7,268.2 240.3,272.4 240.9,272.2 241.6,275.8 242.2,270.2 242.8,271.2 243.4,269.4 244.1,267.2 244.7,270.9 245.3,272.6 245.9,266.1 246.6,269.2" stroke="#0000ca" stroke-width="2.1" />
<polyline points="139.6,267.8 140.2,267.6 140.9,269.7 141.5,268.9 142.1,269.6 142.7,270.7 143.4,271.3 144.0,272.7 144.6,272.7 145.2,273.2 145.9,263.7 146.5,268.3 147.0,261.5 147.8,272.8 148.4,268.6 149.0,274.5 149.6,271.2 150.0,279.0 150.9,267.3 151.5,280.0 152.1,272.1 152.8,267.5 153.4,274.1 154.0,273.1 154.6,268.7 155.3,273.7 155.9,268.6 156.5,268.8 157.2,270.2 157.8,277.4 158.4,274.6 159.0,270.5 159.7,268.4 160.3,277.7 160.9,269.9 161.5,271.4 162.2,267.3 162.8,268.4 163.3,259.6 164.1,266.2 164.5,279.4 165.3,269.8 166.0,262.0 166.6,277.3 167.2,268.2 167.8,272.1 168.4,274.7 169.1,272.0 169.7,267.8 170.3,273.4 171.0,274.0 171.6,273.5 172.2,269.3 172.8,271.5 173.5,268.0 174.1,271.1 174.7,267.4 175.3,267.7 176.0,274.6 176.6,270.2 177.2,275.2 177.8,270.3 178.5,268.7 179.1,270.2 180.0,262.0 180.4,271.9 181.0,273.4 181.6,273.2 182.2,273.9 182.9,271.5 183.5,270.0 184.1,272.4 184.7,270.4 185.4,271.7 186.0,288.2 186.6,270.3 187.3,268.4 187.8,272.0 188.5,277.7 189.0,287.5 189.8,269.8 190.4,267.5 191.0,270.2 191.6,268.3 192.3,271.1 192.9,268.3 193.5,272.0 194.1,268.2 195.0,260.0 195.4,265.9 196.0,274.2 196.7,265.6 197.3,266.0 197.9,267.1 198.5,297.0 199.2,265.0 199.6,268.0 200.4,272.4 201.0,285.0 201.7,269.7 202.5,251.5 202.9,272.6 203.8,262.0 204.2,271.5 204.8,270.7" stroke="#89ff6e" stroke-width="2.1" />
<polyline points="202.0,276.8 202.6,266.2 203.3,266.4 203.9,268.2 204.5,267.3 205.1,274.4 205.8,267.4 206.4,270.8 207.0,265.4 207.6,269.2 208.3,271.2 208.9,276.2 209.5,267.9 210.2,271.9 210.8,262.7 211.4,266.0 212.0,267.4 212.7,268.6 213.3,272.1 213.9,272.8 214.5,264.5 215.2,272.4 215.8,266.4 216.4,277.2 216.9,286.0 217.7,271.0 218.3,268.9 218.9,270.3 219.6,270.5 220.2,268.0 220.8,273.2 221.4,271.4 222.0,247.2 222.7,270.2 223.3,283.0 223.9,264.8 224.6,280.8 225.2,267.9 225.8,268.9 226.5,273.9 227.1,274.9 228.0,255.0 228.3,264.6 229.0,265.5 229.5,281.0 230.2,267.7 230.8,269.9 231.5,274.1 232.0,258.0 232.7,268.3 233.4,272.4 234.0,273.5 234.6,275.4 235.2,269.9 236.0,280.0 236.5,273.1 237.1,275.7 237.7,268.7 238.4,277.2 239.0,276.4 239.6,269.6 240.2,265.1 240.9,268.4 241.5,267.9 242.1,272.3 242.8,264.8 243.4,278.7 244.0,278.4 244.6,268.0 245.3,264.2 245.9,269.1 246.5,271.9 247.1,275.0 247.8,272.8 248.4,269.8 249.0,264.0 249.7,272.2 250.3,273.2 250.9,269.6 251.5,271.3 252.2,271.0 252.8,270.0 253.4,268.0 254.0,271.2 254.7,268.1 255.3,272.9 255.9,269.1 256.5,271.4 257.2,269.4 257.8,271.2 258.4,270.2 259.1,271.4 259.7,269.3 260.3,268.0 260.9,270.1 261.6,270.0 262.2,268.2 262.8,269.5 263.4,267.9 264.1,270.8 264.7,270.0 265.3,270.6 266.0,274.7 266.6,271.0 267.2,271.2 267.8,271.6 268.5,270.4 269.1,269.7 269.7,271.9 270.3,272.2 271.0,266.4 271.6,270.3 272.2,270.1 272.9,269.7 273.5,272.5 274.1,269.8 274.7,271.9 275.4,269.8 276.0,269.3 276.6,271.7 277.2,269.5 277.9,270.3 278.5,267.2 279.0,277.5 279.7,272.6 280.4,271.4 281.0,268.9 281.6,268.9 282.3,274.3 282.9,269.7 283.5,269.3 284.1,271.3 284.8,269.5 285.4,269.4 286.0,273.0 286.6,272.0 287.3,270.3 287.9,272.5 288.5,270.4 289.2,270.3 289.8,270.6 290.4,270.2 291.0,271.3" stroke="#0025ff" stroke-width="2.1" />
<polyline points="223.3,262.0 223.8,259.6 224.4,268.0 224.8,275.8 225.6,266.0 226.3,272.0" stroke="#a50000" stroke-width="2.4" />
<polyline points="238.4,282.3 239.5,276.0 240.6,270.2 241.2,272.0" stroke="#a50000" stroke-width="2.4" />
<polyline points="233.5,272.5 234.1,271.2 234.7,265.2 235.3,276.9 236.0,258.9 236.5,273.4 237.1,273.9 237.7,273.5 238.5,281.0 238.8,278.8 239.4,272.2 240.0,276.2 240.6,283.1 241.0,260.0 241.8,269.5 242.4,277.2 243.0,274.2 243.6,270.1 244.0,278.0 244.8,266.7 245.4,259.7 246.0,271.5 246.5,261.0 247.2,276.2 248.0,282.4 248.3,273.2 248.9,267.3 249.5,276.0 250.0,281.5 250.7,273.9 251.5,262.0 251.9,278.3 252.5,273.4 253.1,268.9 253.7,271.3 254.3,270.6 254.9,273.3 255.5,271.7 256.1,272.3 256.7,272.9 257.3,272.1 257.9,271.9 258.4,273.2 259.0,271.7 259.6,273.2 260.2,271.5 260.8,270.8 261.4,269.3 262.0,270.9 262.6,270.7 263.2,270.1 263.8,274.6 264.4,268.0 265.0,271.0 265.6,269.6 266.2,271.1 266.8,274.0 267.4,272.1 268.0,272.5 268.5,270.6 269.1,267.1 269.7,268.9 270.3,268.9 270.9,267.5 271.5,271.4 272.1,271.2 272.7,275.1 273.3,271.6 273.9,270.5 274.5,269.5 275.1,271.1 275.7,269.7 276.3,272.0 276.9,273.8 277.5,272.1 278.0,272.3 278.6,272.5 279.2,271.7 279.8,271.9 280.4,271.4 281.0,269.0 281.6,269.3 282.2,271.0 282.8,273.2 283.4,270.5 284.0,267.8 284.6,269.4 285.2,274.9 285.8,269.6 286.4,271.9 287.0,271.6 287.6,269.5 288.1,268.4 288.7,272.2 289.3,270.4 289.9,270.6 290.5,272.1 291.1,271.3 291.7,272.8 292.3,271.2 292.9,271.7 293.5,271.2 294.1,271.7 294.7,271.8 295.3,270.8 295.9,272.7 296.5,270.6 297.1,269.6 297.7,271.3 298.2,271.7 298.8,271.1 299.4,270.3 300.0,270.9 300.6,271.1 301.2,270.1 301.8,270.9 302.4,270.9 303.0,271.2 303.6,272.3 304.2,272.1 304.8,271.4 305.4,271.3 306.0,270.6 306.6,270.9 307.2,271.2 307.7,271.7 308.3,271.0 308.9,272.4 309.5,271.4 310.1,272.5 310.7,274.6 311.3,272.7 311.9,272.1 312.5,272.1 313.1,273.2 313.7,273.2 314.3,272.9 314.9,272.9 315.5,274.1 316.1,272.7 316.7,272.9 317.3,273.0 317.8,271.3 318.4,273.4 319.0,272.6 319.6,274.7 320.2,273.5 320.8,274.8 321.4,273.9 322.0,273.5 322.6,274.4 323.2,274.5 323.8,273.9 324.4,275.4 325.0,276.8 325.6,276.8 326.2,274.6 326.8,276.0 327.4,276.0 327.9,275.2 328.5,274.5 329.1,275.4 329.7,274.0 330.3,274.7 330.9,275.7 331.5,276.1 332.1,278.4 332.7,276.3 333.3,277.2 333.9,276.3 334.5,276.7 335.1,276.3 335.7,277.0 336.3,277.1 336.9,278.0 337.4,277.6 338.0,278.0 338.6,276.9 339.2,278.3 339.8,279.3 340.4,278.9 341.0,279.8 341.6,279.5 342.2,279.2 342.8,279.7 343.4,279.6 344.0,281.3 344.6,282.0 345.2,279.5 345.8,280.5" stroke="#0088ff" stroke-width="2.1" />
<polyline points="322.4,270.5 323.2,265.5 323.6,268.2 324.2,273.0 324.8,270.3 325.4,273.2 326.0,266.5 326.6,271.0 327.2,271.4 327.7,269.5 328.3,268.2 328.9,268.4 329.5,267.2 330.1,268.5 330.7,269.9 331.3,270.5 331.9,271.0 332.5,271.5 333.1,268.7 333.7,271.5 334.3,271.0 334.9,270.4 335.5,272.7 336.1,272.6 336.7,271.0 337.2,268.1 337.8,270.5 338.4,269.5 339.0,269.3 339.6,272.9 340.2,271.7 340.8,272.0 341.4,271.8 342.0,271.5 342.6,274.0 343.2,272.7 343.8,272.0 344.4,270.6 345.0,271.9 345.6,270.8 346.2,271.6 346.8,271.9 347.3,270.8 347.9,269.8 348.5,269.9 349.1,271.8 349.7,272.0 350.3,272.8 350.9,270.3 351.5,272.2 352.1,271.5 352.7,270.4 353.3,272.5 353.9,271.7 354.5,272.2 355.1,271.0 355.7,269.7 356.3,272.1 356.9,270.3 357.4,270.5 358.0,272.1 358.6,270.2 359.2,271.3 359.8,271.9 360.4,272.1 361.0,273.8 361.6,273.4 362.2,270.3 362.8,273.6 363.4,272.8 364.0,271.6 364.6,272.8 365.2,270.3 365.8,271.9 366.4,272.1 366.9,272.5 367.5,272.4 368.1,270.6 368.7,271.4 369.3,270.4 369.9,273.6 370.5,271.9 371.1,271.1 371.7,273.0 372.3,272.1 372.9,272.4 373.5,272.5 374.1,273.3 374.7,272.4 375.3,273.5 375.9,272.2 376.5,272.9 377.0,272.1 377.6,270.8 378.2,275.2 378.8,274.9 379.4,272.7 380.0,272.6 380.6,273.7 381.2,271.9 381.8,271.9 382.4,273.0 383.0,272.6 383.6,273.4 384.2,271.7 384.8,273.4 385.4,273.5 386.0,272.6 386.6,274.5 387.1,274.0 387.7,274.8 388.3,275.9 388.9,274.7" stroke="#0046ff" stroke-width="2.1" />
<polyline points="321.4,271.4 322.0,270.9 322.6,271.2 323.2,271.8 323.8,270.7 324.4,272.9 325.0,270.8 325.6,272.3 326.2,271.2 326.7,270.8 327.3,272.1 327.9,271.9 328.5,271.7 329.1,271.8 329.7,271.4 330.3,272.3 330.9,271.6 331.5,272.0 332.1,272.9 332.7,271.0 333.3,271.6 333.9,271.6 334.5,271.5 335.1,271.1 335.7,272.0 336.2,272.3 336.8,272.2 337.4,270.1 338.0,272.8 338.6,272.9 339.2,272.4 339.8,270.9 340.4,271.8 341.0,274.0 341.6,273.8 342.2,272.9 342.8,271.9 343.4,274.5 344.0,272.8 344.6,273.9 345.2,272.3 345.8,273.1 346.3,272.4 346.9,273.4 347.5,272.3 348.1,273.6 348.7,272.3 349.3,272.2 349.9,273.4 350.5,273.2 351.1,271.4 351.7,273.0 352.3,273.2 352.9,273.3 353.5,274.7 354.1,272.7 354.7,273.2 355.3,271.9 355.9,272.2 356.4,272.4 357.0,273.2 357.6,273.2 358.2,273.9 358.8,274.0 359.4,274.2 360.0,273.4 360.6,273.9 361.2,273.0 361.8,273.9 362.4,274.0 363.0,273.3 363.6,271.5 364.2,273.2 364.8,275.7 365.4,273.7 365.9,273.3 366.5,273.9 367.1,274.7 367.7,274.2 368.3,273.8 368.9,272.0 369.5,273.8 370.1,273.1 370.7,274.4 371.3,275.3 371.9,275.8 372.5,273.7 373.1,272.7 373.7,273.2 374.3,275.0 374.9,274.7 375.5,274.9 376.0,274.6 376.6,273.5 377.2,272.3 377.8,275.3 378.4,273.2 379.0,276.0 379.6,272.9 380.2,273.7 380.8,273.9 381.4,274.9 382.0,275.2 382.6,274.3 383.2,275.2 383.8,273.8 384.4,274.4 385.0,273.9 385.6,274.5 386.1,274.4 386.7,275.2 387.3,277.2 387.9,274.0 388.5,274.9 389.1,275.6 389.7,275.2 390.3,277.3 390.9,274.4 391.5,275.8 392.1,274.6 392.7,275.9 393.3,275.4 393.9,275.5 394.5,274.9 395.1,274.0 395.6,274.6 396.2,276.0 396.8,275.3 397.4,276.1 398.0,274.5 398.6,276.1 399.2,276.4 399.8,274.0 400.4,275.9 401.0,277.2 401.6,275.2 402.2,276.6" stroke="#0004ff" stroke-width="2.1" />
<polyline points="340.0,267.7 340.6,267.4 341.2,267.8 341.8,269.3 342.4,266.5 343.0,268.0 343.6,266.9 344.2,267.8 344.8,269.3 345.3,268.7 345.9,268.5 346.5,266.3 347.1,268.2 347.7,268.3 348.3,268.4 348.9,268.9 349.5,269.6 350.1,268.0 350.7,268.3 351.3,269.5 351.9,268.9 352.5,269.4 353.1,268.3 353.7,269.5 354.3,267.8 354.8,271.0 355.4,267.7 356.0,269.3 356.6,269.6 357.2,270.5 357.8,269.0 358.4,269.8 359.0,271.1 359.6,269.4 360.2,269.8 360.8,270.1 361.4,270.5 362.0,270.4 362.6,269.2 363.2,269.9 363.8,271.1 364.4,268.3 364.9,269.4 365.5,269.8 366.1,270.6 366.7,272.4 367.3,271.9 367.9,272.6 368.5,270.1 369.1,270.9 369.7,273.1 370.3,270.0 370.9,270.3 371.5,269.1 372.1,272.5 372.7,270.1 373.3,268.7 373.9,271.1 374.5,270.6 375.0,270.8 375.6,271.6 376.2,271.1 376.8,273.8 377.4,271.7 378.0,270.1 378.6,272.2 379.2,271.5 379.8,271.5 380.4,272.1 381.0,272.6 381.6,269.2 382.2,271.9 382.8,270.9 383.4,271.6 384.0,271.4 384.5,273.3 385.1,272.6 385.7,272.5 386.3,272.0 386.9,271.3 387.5,271.4 388.1,271.1 388.7,274.1 389.3,271.7 389.9,272.5 390.5,271.7 391.1,272.9 391.7,271.8 392.3,272.0 392.9,272.5 393.5,272.8 394.1,272.0 394.6,270.7 395.2,271.4 395.8,272.8 396.4,273.5 397.0,273.6 397.6,273.6 398.2,273.2 398.8,272.4 399.4,273.5 400.0,273.0 400.6,270.7 401.2,272.4 401.8,271.8 402.4,274.6 403.0,273.2 403.6,274.5 404.2,273.6 404.7,273.3 405.3,273.5 405.9,275.3 406.5,273.9 407.1,274.0 407.7,273.6 408.3,273.3 408.9,274.2 409.5,272.5 410.1,274.3 410.7,273.5 411.3,275.0 411.9,272.8 412.5,274.5 413.1,273.3 413.7,273.8 414.2,274.6 414.8,273.3 415.4,273.1 416.0,274.5 416.6,274.3 417.2,272.0 417.8,273.3 418.4,275.1 419.0,273.9 419.6,275.3 420.2,276.0 420.8,273.6 421.4,272.9 422.0,276.0 422.6,275.3 423.2,276.4 423.8,275.5 424.3,275.6 424.9,274.6 425.5,275.8 426.1,273.6 426.7,272.7 427.3,274.6 427.9,274.9 428.5,273.8 429.1,274.8 429.7,274.3 430.3,275.6 430.9,277.0 431.5,274.0 432.1,275.7 432.7,274.9 433.3,275.1 433.9,276.2 434.4,277.5 435.0,275.9 435.6,275.5 436.2,277.5 436.8,276.4 437.4,274.8 438.0,276.2 438.6,277.4 439.2,276.3 439.8,276.6 440.4,276.8 441.0,275.0 441.6,277.9 442.2,276.3 442.8,275.1" stroke="#ca0000" stroke-width="2.4" />
<polyline points="529.7,264.4 530.3,263.9 530.9,264.0 531.5,264.9 532.1,263.8 532.7,264.5 533.3,264.5 533.9,264.8 534.5,264.1 535.0,263.9 535.6,264.8 536.2,265.7 536.8,264.8 537.4,266.4 538.0,264.8 538.6,265.5 539.2,265.5 539.8,265.1 540.4,265.2 541.0,265.3 541.6,265.4 542.2,265.2 542.8,267.3 543.4,266.1 544.0,266.4 544.6,265.5 545.1,266.5 545.7,266.0 546.3,265.8 546.9,267.0 547.5,266.8 548.1,265.9 548.7,266.6 549.3,266.5 549.9,266.4 550.5,266.2 551.1,266.6 551.7,267.2 552.3,268.1 552.9,268.8 553.5,268.2 554.1,267.6 554.6,267.5 555.2,267.6 555.8,268.2 556.4,267.4 557.0,266.9 557.6,269.0 558.2,268.7 558.8,268.2 559.4,269.8 560.0,268.3 560.6,268.7 561.2,269.7 561.8,268.1 562.4,270.1 563.0,269.7 563.6,267.9 564.2,269.1 564.7,268.8 565.3,270.0 565.9,269.3 566.5,269.8 567.1,269.9 567.7,269.7 568.3,268.2 568.9,269.2 569.5,269.5 570.1,269.7 570.7,269.5 571.3,270.0 571.9,268.7 572.5,269.4 573.1,268.1 573.7,270.3 574.3,269.4 574.8,270.7 575.4,269.9 576.0,269.7 576.6,270.4 577.2,270.6 577.8,269.9 578.4,268.7 579.0,269.7 579.6,270.4 580.2,269.8 580.8,269.6 581.4,269.1 582.0,270.0 582.6,269.8 583.2,269.7 583.8,269.9 584.3,269.5 584.9,269.9 585.5,270.5 586.1,268.6 586.7,270.3 587.3,270.2 587.9,270.7 588.5,270.9 589.1,269.3 589.7,269.9 590.3,269.9 590.9,270.3 591.5,270.9 592.1,270.0 592.7,271.1 593.3,271.4 593.9,270.3 594.4,270.4 595.0,270.8 595.6,271.5 596.2,270.2 596.8,271.2 597.4,271.0 598.0,270.8 598.6,271.7 599.2,270.7 599.8,272.5 600.4,270.8 601.0,271.9 601.6,271.2 602.2,271.1 602.8,271.4 603.4,270.7 604.0,271.8 604.5,272.2 605.1,271.8 605.7,271.7 606.3,271.7 606.9,270.8 607.5,272.1 608.1,273.1 608.7,272.4 609.3,272.0 609.9,272.1 610.5,272.3 611.1,273.1 611.7,271.2 612.3,271.8 612.9,270.9 613.5,272.9 614.0,272.3 614.6,273.2 615.2,272.7 615.8,272.8 616.4,273.6 617.0,273.9 617.6,272.7 618.2,273.9 618.8,273.3 619.4,273.5 620.0,273.1 620.6,272.5 621.2,272.9 621.8,272.5 622.4,273.7 623.0,274.3 623.6,273.7 624.1,273.9 624.7,272.7 625.3,273.6 625.9,274.1 626.5,273.6 627.1,273.4 627.7,274.5 628.3,274.6 628.9,272.9 629.5,274.8 630.1,274.0 630.7,274.9 631.3,274.2 631.9,275.2 632.5,275.1 633.1,274.2 633.7,275.5 634.2,274.0 634.8,274.8 635.4,276.4 636.0,276.1 636.6,275.3 637.2,275.7 637.8,274.9 638.4,276.4 639.0,275.1 639.6,275.9 640.2,276.1 640.8,275.7 641.4,275.6 642.0,275.8 642.6,276.3 643.2,276.3 643.7,275.3 644.3,276.3 644.9,276.1 645.5,276.4 646.1,276.9 646.7,276.3" stroke="#04eaf3" stroke-width="2.1" />
<polyline points="404.4,270.0 405.0,270.5 405.6,269.9 406.2,269.2 406.8,270.1 407.4,269.8 408.0,269.6 408.6,269.7 409.2,270.2 409.7,269.6 410.3,270.3 410.9,270.3 411.5,270.9 412.1,269.0 412.7,269.4 413.3,270.5 413.9,269.1 414.5,270.1 415.1,270.5 415.7,269.1 416.3,269.3 416.9,270.3 417.5,269.6 418.1,270.5 418.7,270.0 419.2,270.4 419.8,270.1 420.4,270.4 421.0,268.7 421.6,270.3 422.2,269.8 422.8,270.5 423.4,269.9 424.0,268.7 424.6,270.6 425.2,270.5 425.8,270.3 426.4,270.7 427.0,270.3 427.6,269.8 428.2,270.1 428.8,270.5 429.3,270.3 429.9,271.0 430.5,269.3 431.1,269.6 431.7,270.0 432.3,270.5 432.9,269.9 433.5,270.1 434.1,270.6 434.7,270.4 435.3,270.1 435.9,270.7 436.5,269.9 437.1,268.9 437.7,270.8 438.3,268.9 438.9,270.4 439.4,270.1 440.0,270.1 440.6,271.0 441.2,270.5 441.8,270.2 442.4,269.9 443.0,270.3 443.6,270.0 444.2,270.5 444.8,271.4 445.4,269.8 446.0,270.7 446.6,270.4 447.2,270.5 447.8,270.3 448.4,269.7 448.9,270.4 449.5,271.3 450.1,271.0 450.7,270.1 451.3,270.2 451.9,270.3 452.5,269.9 453.1,271.3 453.7,270.4 454.3,270.5 454.9,270.6 455.5,270.3 456.1,270.3 456.7,269.5 457.3,271.0 457.9,271.0 458.5,271.0 459.0,270.6 459.6,271.0 460.2,270.8 460.8,270.0 461.4,270.9 462.0,270.9 462.6,270.2 463.2,269.6 463.8,271.0 464.4,270.5 465.0,269.2 465.6,270.4 466.2,270.1 466.8,270.4 467.4,271.1 468.0,270.9 468.6,270.6 469.1,269.9 469.7,270.2 470.3,269.7 470.9,270.0 471.5,271.0 472.1,270.6 472.7,270.6 473.3,271.0 473.9,270.4 474.5,270.6 475.1,272.3 475.7,271.3 476.3,271.1 476.9,271.4 477.5,271.8 478.1,271.1 478.6,271.3 479.2,272.0 479.8,271.5 480.4,271.9 481.0,271.5 481.6,271.6 482.2,272.8 482.8,271.4 483.4,271.9 484.0,271.5 484.6,272.1 485.2,272.6 485.8,273.1 486.4,272.3 487.0,271.5 487.6,273.4 488.2,272.5 488.7,272.7 489.3,272.3 489.9,272.6 490.5,272.9 491.1,272.2 491.7,273.4 492.3,272.5 492.9,272.6 493.5,272.4 494.1,273.8 494.7,273.4 495.3,272.8 495.9,273.1 496.5,273.7 497.1,273.6 497.7,273.0 498.3,273.6 498.8,273.3 499.4,273.9 500.0,273.9 500.6,274.2 501.2,273.4 501.8,273.8 502.4,274.1 503.0,275.1 503.6,273.7 504.2,275.3 504.8,274.2 505.4,275.4 506.0,275.4 506.6,273.9 507.2,275.0 507.8,274.6 508.3,274.8 508.9,274.8 509.5,275.1 510.1,274.2 510.7,275.0 511.3,275.1 511.9,275.8 512.5,274.8 513.1,274.4 513.7,275.6 514.3,275.1 514.9,275.6 515.5,276.4" stroke="#54ffa3" stroke-width="2.1" />
<polyline points="509.3,266.8 509.9,267.4 510.5,267.8 511.1,267.1 511.7,267.7 512.3,267.3 512.9,268.0 513.5,267.9 514.1,267.5 514.6,267.3 515.2,268.0 515.8,267.3 516.4,268.1 517.0,268.3 517.6,266.9 518.2,268.2 518.8,268.5 519.4,268.6 520.0,268.0 520.6,268.6 521.2,268.7 521.8,268.8 522.4,268.6 523.0,269.1 523.6,269.2 524.1,270.1 524.7,269.1 525.3,269.1 525.9,269.0 526.5,269.7 527.1,269.0 527.7,269.3 528.3,270.2 528.9,269.6 529.5,269.5 530.1,269.6 530.7,269.7 531.3,269.8 531.9,270.2 532.5,270.1 533.1,269.3 533.7,269.5 534.2,270.8 534.8,271.2 535.4,270.1 536.0,269.9 536.6,270.8 537.2,270.6 537.8,270.5 538.4,269.4 539.0,270.1 539.6,269.9 540.2,270.4 540.8,270.9 541.4,270.4 542.0,270.1 542.6,270.7 543.2,270.5 543.8,270.6 544.3,271.2 544.9,271.6 545.5,271.4 546.1,271.5 546.7,270.9 547.3,271.6 547.9,271.4 548.5,271.4 549.1,271.0 549.7,271.7 550.3,271.3 550.9,272.2 551.5,271.6 552.1,271.2 552.7,271.7 553.3,271.7 553.8,271.8 554.4,272.1 555.0,272.2 555.6,272.2 556.2,272.5 556.8,272.3 557.4,271.8 558.0,272.8 558.6,272.6 559.2,272.5 559.8,271.4 560.4,272.4 561.0,272.2 561.6,272.8 562.2,272.4 562.8,273.5 563.4,273.1 563.9,273.3 564.5,272.9 565.1,272.1 565.7,274.1 566.3,273.9 566.9,273.3 567.5,273.7 568.1,274.2" stroke="#89ff6e" stroke-width="2.1" />
<polyline points="474.1,268.1 474.7,267.8 475.3,267.3 475.9,269.0 476.5,267.2 477.1,268.0 477.7,267.8 478.3,268.5 478.9,267.5 479.4,268.0 480.0,267.8 480.6,268.0 481.2,268.6 481.8,268.4 482.4,268.0 483.0,267.5 483.6,268.1 484.2,268.0 484.8,267.0 485.4,268.5 486.0,268.5 486.6,268.2 487.2,267.7 487.8,268.2 488.4,267.8 488.9,268.3 489.5,269.0 490.1,267.8 490.7,268.6 491.3,268.4 491.9,268.2 492.5,269.3 493.1,268.4 493.7,269.3 494.3,268.6 494.9,268.3 495.5,269.6 496.1,268.5 496.7,268.6 497.3,269.8 497.9,269.0 498.5,269.4 499.0,268.5 499.6,268.8 500.2,269.6 500.8,268.7 501.4,268.9 502.0,269.0 502.6,269.4 503.2,269.0 503.8,270.4 504.4,269.0 505.0,269.7 505.6,269.1 506.2,269.7 506.8,269.1 507.4,268.6 508.0,269.7 508.6,269.9 509.1,269.4 509.7,268.8 510.3,269.8 510.9,269.3 511.5,269.4 512.1,270.0 512.7,269.6 513.3,269.9 513.9,269.5 514.5,269.6 515.1,270.1 515.7,269.6 516.3,270.0 516.9,269.9 517.5,270.2 518.1,269.9 518.6,270.0 519.2,270.7 519.8,270.2 520.4,270.1 521.0,269.4 521.6,269.9 522.2,271.2 522.8,270.8 523.4,270.1 524.0,270.7 524.6,270.1 525.2,270.1 525.8,269.6 526.4,270.3 527.0,270.2 527.6,270.9 528.2,270.8 528.7,271.2 529.3,270.9 529.9,270.9 530.5,271.0 531.1,271.3 531.7,270.6 532.3,271.4 532.9,271.1 533.5,270.2 534.1,271.1 534.7,270.3 535.3,270.7 535.9,270.2 536.5,270.8 537.1,271.3 537.7,271.1 538.3,271.9 538.8,271.4 539.4,271.4 540.0,271.5 540.6,271.7 541.2,270.7 541.8,272.3 542.4,272.7 543.0,271.4 543.6,271.8 544.2,272.2 544.8,271.5 545.4,271.2 546.0,272.5 546.6,272.0 547.2,272.1 547.8,272.1 548.3,272.8 548.9,271.6 549.5,272.2 550.1,272.1 550.7,271.8 551.3,271.7 551.9,271.7 552.5,272.8 553.1,273.6 553.7,273.0 554.3,272.8 554.9,272.9 555.5,272.9 556.1,273.2 556.7,273.2 557.3,273.3 557.9,272.9 558.4,273.0 559.0,273.0 559.6,273.0 560.2,273.9 560.8,273.1 561.4,274.3 562.0,274.3 562.6,273.8 563.2,273.8 563.8,273.9 564.4,274.0 565.0,273.0 565.6,273.4 566.2,273.2 566.8,273.9 567.4,274.4 568.0,274.0 568.5,274.5 569.1,274.4 569.7,274.0 570.3,273.9 570.9,274.0 571.5,275.2 572.1,274.5 572.7,274.2 573.3,274.7 573.9,273.9 574.5,274.7 575.1,274.5 575.7,274.8 576.3,274.8 576.9,273.5 577.5,274.5 578.0,275.0 578.6,274.8 579.2,274.0 579.8,275.0 580.4,275.2 581.0,275.4" stroke="#ff9f00" stroke-width="2.1" />
<polyline points="580.8,267.1 581.4,267.1 582.0,267.3 582.6,267.2 583.2,267.6 583.8,267.2 584.4,267.5 585.0,266.8 585.6,266.8 586.1,267.9 586.7,268.1 587.3,267.2 587.9,268.0 588.5,267.9 589.1,267.3 589.7,268.3 590.3,267.0 590.9,267.8 591.5,268.2 592.1,267.5 592.7,268.7 593.3,267.8 593.9,268.6 594.5,268.0 595.1,268.4 595.7,268.1 596.2,269.5 596.8,268.4 597.4,268.7 598.0,268.6 598.6,268.5 599.2,268.3 599.8,268.8 600.4,268.9 601.0,268.9 601.6,269.0 602.2,268.5 602.8,269.2 603.4,268.2 604.0,268.7 604.6,267.8 605.2,268.4 605.7,268.7 606.3,268.2 606.9,267.8 607.5,269.3 608.1,269.1 608.7,269.4 609.3,269.5 609.9,269.3 610.5,269.4 611.1,269.2 611.7,269.7 612.3,268.5 612.9,269.1 613.5,269.7 614.1,269.7 614.7,269.4 615.3,269.2 615.8,269.8 616.4,269.4 617.0,269.0 617.6,270.0 618.2,269.2 618.8,269.8 619.4,268.9 620.0,268.4 620.6,269.9 621.2,270.5 621.8,268.8 622.4,269.4 623.0,270.1 623.6,270.0 624.2,270.0 624.8,270.0 625.4,269.6 625.9,270.6 626.5,270.6 627.1,270.3 627.7,269.2 628.3,271.5 628.9,270.3 629.5,270.6 630.1,271.2 630.7,271.0 631.3,270.4 631.9,271.0 632.5,270.8 633.1,270.1 633.7,270.7 634.3,269.9 634.9,270.0 635.4,270.8 636.0,271.4 636.6,270.4 637.2,271.4 637.8,271.1 638.4,271.8 639.0,270.9 639.6,272.3 640.2,271.5 640.8,271.0 641.4,271.3 642.0,270.4 642.6,271.6 643.2,271.2 643.8,271.6 644.4,271.2 645.0,270.2 645.5,270.3 646.1,271.2 646.7,271.0 647.3,272.4 647.9,271.1 648.5,271.9 649.1,271.6 649.7,272.4 650.3,271.9 650.9,271.9 651.5,271.4 652.1,272.1 652.7,272.2 653.3,271.9 653.9,272.3 654.2,274.8 655.1,272.0 655.6,272.3 656.2,272.1 656.8,272.8 657.4,272.6 658.0,272.0 658.6,271.9 659.2,272.4 659.8,272.1 660.4,272.3 660.9,276.5 661.6,272.9 661.9,279.2 662.9,276.0 663.4,273.0 664.0,271.5 664.6,272.8 665.1,272.7 665.7,273.2 666.3,273.1 666.9,273.2 667.5,273.5 668.3,274.6 668.7,272.1 669.3,273.6 669.9,273.8 670.5,272.8 671.1,273.7 671.7,273.6 672.3,272.7 672.9,272.8 673.5,273.5 674.1,273.4 674.7,274.3 675.2,273.8 675.8,273.9 676.4,273.3" stroke="#ff8000" stroke-width="2.1" />
<polyline points="672.2,269.2 672.8,268.7 673.5,269.2 674.1,269.6 674.5,262.0 675.3,269.2 675.9,254.5 676.6,268.4 677.3,262.0 677.8,267.8 678.5,271.1 679.1,270.5 679.7,271.5 680.4,268.1 681.0,268.7 681.6,273.8 682.2,271.1 682.9,266.3 683.5,270.5 684.1,269.7 684.7,268.4 685.4,267.9 686.0,267.5 686.6,267.0 687.2,266.1 687.9,266.9 688.5,268.4 689.1,267.5 689.8,270.5 690.4,273.1 691.0,268.9 691.6,268.5 692.3,270.4 692.9,269.0 693.5,273.1 694.1,264.2 694.8,263.9 695.4,267.1 696.0,270.2 696.7,270.8 697.3,268.4 697.9,269.3 698.5,268.7 699.2,270.2 699.8,273.2 700.4,265.0 701.0,273.6 701.7,271.4 702.3,268.8 702.9,270.3 703.5,269.3 704.2,270.3 704.8,270.3 705.4,270.9 706.1,267.5 706.7,270.6 707.3,268.2 707.9,268.9 708.6,271.0 709.2,268.6 709.8,270.1 710.4,270.1 711.1,269.7 711.7,267.2 712.3,270.5 713.0,270.2 713.6,273.8 714.2,267.6 714.8,271.6 715.5,268.8 716.1,269.0 716.7,274.1 717.3,269.2 718.0,272.7 718.6,270.2 719.2,265.1 719.9,268.5 720.5,267.5 721.1,268.5 721.7,278.9 722.4,274.3 723.0,261.1 723.5,262.0 724.2,271.6 724.9,278.6 725.5,242.7 726.1,265.7 726.6,290.0 727.4,269.1 728.0,268.1 728.6,256.0 729.3,270.3 729.9,302.2 730.8,253.0 731.1,271.3 732.0,282.0 732.4,258.4 733.0,270.1 733.6,271.7 734.5,262.0 734.9,283.9 735.5,270.8 736.2,276.8 736.8,269.1 737.4,273.4 738.0,271.1 738.7,268.8 739.3,272.6 739.9,272.9 740.5,265.6 741.2,274.6 741.8,268.9 742.4,270.5 743.1,260.5 743.7,270.0 744.3,263.2 744.9,273.2 745.5,284.0 746.2,268.5 746.8,269.5 747.4,265.4 748.0,262.0 748.7,261.4 749.3,269.4 749.9,273.2 750.6,274.8 751.2,280.2 752.0,283.0 752.5,263.4 753.1,271.9 753.7,275.8 754.5,259.5 755.0,275.1 755.6,269.8 756.2,260.8 756.8,270.5 757.5,277.0 758.1,272.9 758.7,274.1 759.4,271.7 760.0,264.3 760.6,261.9 761.2,262.7 761.9,269.0 762.5,266.7 763.0,281.5 763.7,273.1 764.4,275.6 765.0,264.3 765.6,266.6 766.0,262.0 766.9,269.7 767.5,262.0 768.1,280.5 768.8,272.9 769.4,273.0 770.0,263.5 770.6,271.5 771.3,266.2 771.9,272.3 772.6,259.5 773.1,270.6 773.8,271.9 774.4,268.6 775.0,271.0 775.7,263.6 776.3,272.5 776.9,269.5 777.5,277.5 778.2,271.1 778.8,264.1 779.4,274.8 780.0,268.5 780.7,267.5 781.3,270.5 781.9,274.1 782.6,276.0 783.2,269.5 783.8,271.2 784.4,271.3 785.1,268.8 785.7,267.9 786.3,270.3 786.9,270.5 787.6,273.6 788.2,265.3 788.8,272.0 789.4,271.7 790.1,274.5" stroke="#ff6200" stroke-width="2.1" />
<polyline points="768.8,269.4 769.4,267.2 770.1,275.4 770.7,270.9 771.3,269.1 771.9,273.3 772.6,272.0 773.0,259.0 773.8,277.7 774.4,270.2 775.1,267.7 775.7,270.9 776.3,272.2 777.0,265.1 777.6,267.6 778.0,282.0 778.8,268.6 779.5,269.1 780.1,272.3 780.7,280.1 781.3,302.9 782.0,274.8 782.4,262.0 783.5,248.6 783.8,262.9 784.6,290.0 785.1,280.1 786.0,258.0 786.4,276.3 787.0,282.0 787.6,277.3 788.2,266.1 788.9,273.1 789.5,270.6 790.1,273.1 790.7,268.2 791.4,272.2 792.0,281.0 792.6,268.9 793.3,266.8 793.9,263.6 794.5,277.2 795.1,275.1 795.5,258.0 796.4,271.2 797.0,275.0 797.6,271.7 798.3,273.6 798.9,260.6 799.5,284.5 800.1,269.0 801.0,256.5 801.4,273.4 802.0,263.0 802.7,280.0 803.5,257.0 803.9,265.0 804.5,262.5 805.2,273.4 806.0,276.0 806.4,271.3 807.0,279.4 807.7,268.6 808.3,267.5 808.9,269.6 809.6,272.1 810.2,270.9 810.8,268.6 811.4,277.4 812.0,281.0 812.7,274.5 813.3,275.1 813.9,269.3 814.6,259.0 815.2,274.5 815.8,273.2 816.5,272.6 817.1,273.3 817.7,271.4 818.3,274.4 819.0,279.0 819.6,273.3 820.0,262.0 820.8,272.0 821.5,272.5 822.1,277.1 822.7,271.9 823.3,270.1 824.0,273.9 824.6,274.0 825.2,269.1 825.9,270.9 826.5,267.7 827.1,270.9 827.8,261.0 828.4,273.8 829.0,269.7 829.6,267.8 830.2,273.4 830.9,271.0 831.5,269.9 832.1,271.8 832.8,270.5 833.4,271.1 834.0,271.7 834.6,269.9 835.3,271.3 835.9,272.2 836.5,270.5 837.1,268.9 837.8,271.1 838.4,271.5 839.0,274.3 839.7,269.0 840.3,268.9 840.9,272.1 841.5,271.5 842.2,271.6 842.8,272.6 843.4,270.5 844.0,271.9 844.7,271.6 845.3,272.8 845.9,272.4 846.5,271.1 847.2,272.6 847.8,271.3 848.4,270.2 849.1,273.1 849.7,270.8 850.3,271.1 850.9,271.6 851.6,271.5 852.2,270.8 852.8,271.3 853.4,270.4 854.1,271.4 854.7,272.6 855.3,273.9 856.0,272.8 856.5,280.2 857.5,276.0 857.8,271.7 858.5,273.5 859.1,272.7 859.7,270.8 860.3,273.8 861.0,273.1 861.6,272.3 862.2,273.0 862.8,275.1 863.5,273.1 864.1,273.3 864.7,273.8 865.4,272.9" stroke="#ff4300" stroke-width="2.1" />
<polyline points="784.9,265.0 785.4,263.3 785.7,302.2 786.2,268.0" stroke="#0046ff" stroke-width="2.2" />
<polyline points="807.8,267.0 809.6,267.3" stroke="#0046ff" stroke-width="2.2" />
<polyline points="629.5,267.6 630.1,268.4 630.8,265.0 631.4,267.4 632.0,268.6 632.6,266.9 633.3,266.4 633.9,269.4 634.5,267.3 635.1,267.3 635.8,266.7 636.4,267.1 637.0,267.2 637.7,267.5 638.3,265.6 638.9,265.4 639.5,266.9 640.2,267.4 640.8,267.1 641.4,269.0 642.0,267.9 642.7,269.1 643.3,268.4 643.9,264.0 644.5,269.6 645.2,270.4 645.8,268.5 646.4,268.3 647.1,266.7 647.7,268.8 648.3,267.0 648.9,265.9 649.6,268.9 650.2,269.9 650.8,268.3 651.4,268.5 652.1,267.8 652.7,271.3 653.3,269.5 654.0,268.4 654.6,268.1 655.2,269.3 655.8,270.8 656.5,267.5 657.1,267.9 657.7,269.8 658.3,269.1 659.0,267.1 659.6,269.2 660.2,269.0 660.8,268.8 661.5,269.7 662.1,269.9 662.7,272.1 663.4,270.5 664.0,270.8 664.6,268.8 665.2,269.5 665.9,268.5 666.5,268.4 667.1,270.9 667.7,274.2 668.4,270.7 669.0,270.2 669.6,270.5 670.3,272.1 670.9,269.5 671.5,269.5 672.1,270.7 672.8,272.8 673.4,269.8 674.0,262.7 674.6,271.6 675.3,270.1 675.9,267.7 676.5,267.6 677.2,262.8 677.8,267.8 678.4,269.2 679.0,271.0 679.7,269.6 680.3,267.3 680.9,268.7 681.5,269.9 682.2,271.2 682.8,270.5 683.4,271.9 684.0,262.9 684.7,270.3 685.5,279.0 685.9,267.5 686.6,270.3 687.2,268.6 687.5,278.5 688.4,266.7 689.1,272.5 689.7,271.3 690.3,272.6 690.9,271.7 691.6,271.1 692.2,267.3 692.8,268.9 693.5,269.3 694.1,277.0 694.7,267.8 695.3,266.8 696.0,267.5 696.5,279.0 697.2,268.5 697.8,271.8 698.5,278.5 699.1,272.6 699.7,266.3 700.4,269.0 701.0,271.5 701.6,269.5 702.2,267.9 702.9,273.6 703.5,263.2 704.1,268.0 704.7,272.9 705.4,274.3 706.0,270.1 706.6,264.0 707.5,282.0 707.9,268.4 708.5,270.0 709.1,272.4 709.8,271.7 710.4,273.4 711.0,269.4 711.6,271.5 712.3,271.6 712.9,273.0 713.5,270.3 714.1,269.6 714.8,272.1 715.4,274.0 716.0,269.6 716.7,273.6 717.3,276.0 717.9,278.3 718.5,279.5 718.9,254.5 719.8,277.0 720.3,283.0 721.2,285.3 721.7,266.0 722.5,262.0 722.9,262.7 723.5,269.7 724.2,271.4 724.8,270.4 725.3,254.5 726.1,276.3 726.7,267.8 727.0,284.0 727.9,273.3 728.6,276.0 729.2,268.3 729.8,277.6 730.4,274.4 731.1,266.7 731.5,262.0 732.3,266.5 733.0,277.7 733.6,284.6 734.2,280.9 734.8,257.3 735.5,258.1 736.0,266.0 736.7,273.3 737.3,268.8 738.2,262.0 738.6,272.6 739.5,282.0 739.9,271.6 740.5,273.5" stroke="#f00600" stroke-width="2.1" />
<polyline points="814.7,265.5 815.5,272.0 816.3,277.2 817.0,270.0 817.6,273.0" stroke="#ca0000" stroke-width="2.4" />
<polyline points="614.9,268.4 615.4,267.1 616.2,264.0 616.5,269.0 617.1,258.2 617.5,270.2 618.2,266.0 618.6,268.0 619.3,270.5 619.7,267.9 620.2,266.5 620.7,268.9 621.2,267.3 621.8,267.0 622.3,267.0 622.8,267.8 623.3,266.3 623.7,261.8 624.4,266.1 624.9,268.5 625.2,267.5 626.0,264.9 626.5,265.5 627.0,267.4 627.6,267.1 628.1,269.6 628.6,266.2 629.2,267.1 629.7,267.3 630.2,267.7 630.7,269.5 631.3,267.4 631.8,265.6 632.3,269.4 632.9,268.1 633.4,265.9 633.9,266.9 634.4,267.3 635.0,267.9 635.5,268.7 636.0,267.5 636.5,267.2 637.1,266.7 637.6,267.7 638.1,268.1 638.7,268.6 639.2,265.5 639.7,267.0 640.2,268.7 640.8,270.2 641.3,269.3 641.8,265.5 642.4,266.0 642.9,269.0 643.4,268.4 643.9,268.5 644.5,270.8 645.0,267.2 645.5,269.9 646.1,268.7 646.6,267.9 647.1,266.1 647.6,267.3 648.2,270.5 648.7,268.8 649.2,269.7 649.7,269.5 650.3,268.7 650.8,269.9 651.3,269.3 651.9,268.5 652.4,268.2 652.9,268.2 653.4,269.4 654.0,268.9 654.5,270.5 655.0,268.8 655.6,267.1 656.1,267.1 656.6,270.2 657.1,272.3 657.7,269.3 658.2,266.8 658.7,270.6 659.3,268.7 659.8,270.4 660.3,270.1 660.8,270.5 661.4,269.9 661.9,269.5 662.4,272.4 662.9,269.6 663.5,271.3 664.0,269.3 664.5,270.2 665.1,269.2 665.6,271.3 666.1,269.4 666.6,269.3 667.2,271.4 667.7,270.8 668.2,270.3 668.8,269.3 669.3,270.5 669.8,271.0 670.3,271.4 670.9,269.0 671.4,271.9 671.9,268.5 672.5,270.9 673.0,269.8 673.5,271.8 674.0,270.5 674.6,273.8 675.1,271.5 675.6,271.9 676.1,268.5 676.7,269.6 677.2,272.5 677.7,270.5 678.3,272.7 678.8,270.6 679.3,272.2 679.8,270.6 680.4,272.1 680.9,272.5 681.4,272.8 682.0,270.9 682.5,270.3 683.0,272.5 683.5,272.2 684.1,272.8 684.6,270.6 685.1,273.0 685.7,271.9 686.2,269.6 686.7,271.7 687.2,273.4 687.8,272.5 688.3,272.6 688.8,272.6 689.3,272.0 689.9,274.0 690.4,272.6 690.9,271.0 691.5,271.0 692.0,271.5 692.5,272.4 693.0,273.7 693.6,269.8 694.1,274.8 694.6,274.4 695.2,272.5 695.7,274.6 696.2,272.4 696.7,273.1 697.3,272.7 697.8,275.3 698.3,274.8 698.9,274.8 699.4,272.2 699.9,273.7 700.4,272.3 701.0,273.9 701.5,274.4 702.0,275.4 702.5,273.7 703.1,274.2 703.6,273.8 704.1,272.7 704.7,276.0 705.2,274.6 705.7,275.9 706.2,275.2 706.8,272.7" stroke="#a50000" stroke-width="2.5" />
<polyline points="898.3,272.1 899.5,271.3 901.0,270.8 902.5,270.0 904.2,268.1" stroke="#000080" stroke-width="2.6" />
</g>
<g fill="none" stroke-linejoin="round" clip-path="url(#c3)">
<polyline points="99.0,666.9 99.5,666.7 99.9,666.7 100.4,666.4 100.8,667.3 101.3,667.2 101.7,667.3 102.2,667.0 102.6,667.1 103.1,667.1 103.5,668.0 104.0,668.7 104.4,668.1 104.9,666.8 105.3,666.8 105.8,666.9 106.2,667.4 106.7,667.1 107.1,667.4 107.6,666.6 108.0,667.0 108.5,667.3 108.9,668.2 109.4,668.6 109.8,667.8 110.3,667.4 110.7,668.4 111.2,668.5 111.6,668.8 112.1,668.3 112.5,668.7 113.0,668.1 113.4,667.4 113.9,667.4 114.3,667.0 114.8,667.3 115.2,666.6 115.7,666.7 116.1,666.6 116.6,666.8 117.0,667.9 117.5,667.9 117.9,668.9 118.4,667.7 118.8,667.0 119.3,666.6 119.7,667.8 120.2,667.0 120.6,665.7 121.1,666.1 121.5,666.7 122.0,666.5 122.4,666.3 122.9,667.0 123.3,667.0 123.8,666.2 124.2,665.3 124.7,665.4 125.1,666.1 125.6,666.7 126.0,666.6 126.5,666.6 126.9,666.3 127.4,666.3 127.8,666.2 128.3,666.7 128.7,666.6 129.2,667.0 129.6,667.2 130.1,666.9 130.5,666.6 131.0,667.3 131.4,667.8 131.9,667.2 132.3,666.6 132.8,666.4 133.2,665.4 133.7,666.2 134.1,666.2 134.6,666.1 135.0,666.1 135.5,666.8 135.9,667.5 136.4,668.0 136.8,668.2 137.3,669.1 137.7,668.6 138.2,668.7 138.6,668.4 139.1,667.5 139.5,666.8 140.0,665.7 140.4,666.2 140.9,666.2 141.3,655.8 141.8,656.0 142.2,667.3 142.7,666.9 143.1,666.8 143.6,667.2 144.0,666.9 144.5,659.7 144.9,658.1 145.4,664.3 145.8,666.5 146.3,667.3 146.7,667.6 147.2,667.0 147.6,667.2 148.1,667.3 148.5,668.2 149.0,667.6 149.4,666.4 149.9,665.4 150.3,665.7 150.8,665.9 151.2,666.1 151.7,666.5 152.1,667.0 152.6,667.1 153.0,667.1 153.5,667.0 153.9,667.2 154.4,667.0 154.8,666.7 155.3,665.9 155.7,665.8 156.2,666.3 156.6,666.8 157.1,667.4 157.5,666.9 158.0,667.4 158.4,667.1 158.9,667.6 159.3,667.2 159.8,667.8 160.2,667.3 160.7,667.3 161.1,667.2 161.6,668.2 162.0,668.2 162.5,667.2 162.9,666.5 163.4,667.2 163.8,668.3 164.3,668.0 164.7,666.9 165.2,666.1 165.6,666.4 166.1,666.8 166.5,666.9 167.0,666.5 167.4,665.7 167.9,665.7 168.3,666.0 168.8,666.5 169.2,665.7 169.7,665.2 170.1,665.4 170.6,666.6 171.0,667.5 171.5,667.6 171.9,667.8 172.4,667.5 172.8,667.3 173.3,666.8 173.7,666.6 174.2,666.5 174.6,666.6 175.1,666.9 175.5,666.9 176.0,667.5 176.4,667.3 176.9,666.5 177.3,666.7 177.8,667.5 178.2,667.4 178.7,666.7 179.1,666.4 179.6,666.3 180.0,666.9" stroke="#000080" stroke-width="2.1" />
<polyline points="145.0,669.1 145.4,670.8 145.9,668.0 146.3,667.6 146.8,667.3 147.2,666.7 147.7,666.4 148.1,666.6 148.6,665.6 149.0,665.5 149.5,665.4 149.9,666.4 150.4,666.3 150.8,666.7 151.3,666.8 151.7,666.8 152.2,666.5 152.6,666.2 153.1,666.9 153.5,667.0 154.0,666.4 154.4,666.0 154.9,666.4 155.3,667.1 155.8,667.8 156.2,667.6 156.7,666.9 157.1,666.8 157.6,668.2 158.0,669.5 158.5,668.6 158.9,667.4 159.4,667.0 159.8,667.2 160.3,666.8 160.7,666.5 161.2,665.8 161.6,666.0 162.1,666.2 162.5,666.4 163.0,666.1 163.4,666.3 163.9,666.7 164.3,666.7 164.8,666.6 165.2,666.8 165.7,667.1 166.1,668.7 166.6,668.2 167.0,668.3 167.5,667.2 167.9,667.5 168.4,667.5 168.8,666.9 169.3,665.5 169.7,666.1 170.2,667.0 170.6,668.3 171.1,667.2 171.5,665.7 172.0,663.7 172.4,665.8 172.9,666.8 173.3,666.4 173.8,667.0 174.2,667.0 174.7,667.1 175.1,667.0 175.6,667.1 176.0,666.7 176.5,667.2 176.9,667.5 177.4,668.1 177.8,667.3 178.3,667.5 178.7,667.5 179.2,668.2 179.6,668.8 180.1,667.9 180.5,665.8 181.0,664.8 181.4,664.6 181.9,664.2 182.3,664.1 182.8,663.2 183.2,666.1 183.7,666.9 184.1,668.3 184.6,668.2 185.0,667.3 185.5,666.5 185.9,667.4 186.4,667.6 186.8,667.0 187.3,665.3 187.7,665.5 188.2,666.3 188.6,667.9 189.1,668.6 189.5,669.5 190.0,669.1 190.4,668.5 190.9,667.3 191.3,666.8 191.8,666.5 192.2,667.5 192.7,667.2 193.1,667.1 193.6,666.3 194.0,667.4 194.5,667.8 194.9,667.4 195.4,666.3 195.8,665.8 196.3,666.6 196.7,667.7 197.2,668.3 197.6,668.4 198.1,666.6 198.5,662.1 199.0,653.8 199.4,654.3 199.9,667.9 200.3,668.4 200.8,667.4 201.2,668.1 201.7,667.8 202.1,667.8 202.6,659.3 203.0,639.3 203.5,639.6 203.9,654.5 204.4,667.3 204.8,667.8 205.3,667.3 205.7,667.3 206.2,647.3 206.6,647.6 207.1,664.6 207.5,669.4 208.0,668.3 208.4,667.8 208.9,658.2 209.3,656.6 209.8,667.0 210.2,667.0 210.7,666.0 211.1,666.2 211.6,664.6 212.0,661.7 212.5,666.4 212.9,666.7 213.4,667.0 213.8,667.2 214.3,667.6 214.7,667.7 215.2,666.9 215.6,665.6 216.1,666.1 216.5,666.9 217.0,667.3 217.4,667.6 217.9,667.3 218.3,667.0 218.8,666.8 219.2,664.9 219.7,664.9 220.1,664.9 220.6,666.6 221.0,667.3 221.5,667.1 221.9,666.2 222.4,666.8 222.8,666.7 223.3,666.7 223.7,666.8 224.2,667.0 224.6,666.8 225.1,666.6 225.5,667.1 226.0,667.5 226.4,667.9 226.9,667.9 227.3,667.2 227.8,666.4 228.2,666.6 228.7,667.1 229.1,667.6 229.6,667.0 230.0,666.3 230.5,665.6 230.9,666.3 231.4,666.5 231.8,665.9 232.3,666.4 232.7,666.6 233.2,666.4 233.6,666.4 234.1,666.5 234.5,667.6 235.0,667.5 235.4,667.3 235.9,666.8 236.3,666.1 236.8,667.1 237.2,667.3 237.7,667.7 238.1,667.3 238.6,667.1 239.0,667.3 239.5,667.2 239.9,666.2 240.4,666.0 240.8,667.2 241.3,668.1 241.7,668.2 242.2,668.3 242.6,667.7 243.1,667.1 243.5,667.0 244.0,666.8 244.4,666.0 244.9,658.0 245.3,657.4 245.8,667.6 246.2,667.3 246.7,666.6" stroke="#0000ca" stroke-width="2.1" />
<polyline points="99.0,665.6 99.5,665.2 99.9,661.1 100.4,663.1 100.8,667.0 101.3,665.7 101.7,664.5 102.2,660.7 102.6,658.0 103.1,661.5 103.5,664.0 104.0,663.8 104.4,664.4 104.9,665.9 105.3,665.4 105.8,665.3 106.2,664.4 106.7,663.4 107.1,662.7 107.6,664.3 108.0,665.4 108.5,665.6 108.9,664.8 109.4,664.9 109.8,664.0 110.3,664.2 110.7,664.5 111.2,665.4 111.6,664.7 112.1,665.0 112.5,664.9 113.0,665.0 113.4,661.6 113.9,663.3 114.3,664.8 114.8,664.8 115.2,664.9 115.7,664.3 116.1,663.9 116.6,664.5 117.0,664.2 117.5,664.2 117.9,665.2 118.4,666.8 118.8,665.8 119.3,664.8 119.7,664.0 120.2,664.7 120.6,664.3 121.1,665.2 121.5,665.3 122.0,665.8 122.4,665.5 122.9,665.0 123.3,665.0 123.8,665.8 124.2,666.2 124.7,665.6 125.1,665.2 125.6,666.3 126.0,665.4 126.5,665.3 126.9,664.6 127.4,665.1 127.8,665.7 128.3,666.3 128.7,666.0 129.2,664.9 129.6,665.0 130.1,665.0 130.5,665.0 131.0,664.8 131.4,665.0 131.9,665.6 132.3,664.9 132.8,664.6 133.2,663.7 133.7,664.5 134.1,664.7 134.6,664.9 135.0,666.0 135.5,668.6 135.9,666.7 136.4,665.2 136.8,664.5" stroke="#0004ff" stroke-width="2.1" />
<polyline points="247.0,668.6 247.4,669.8 247.9,669.9 248.3,668.9 248.8,668.3 249.2,668.7 249.7,668.8 250.1,668.1 250.6,666.8 251.0,666.2 251.5,666.7 251.9,666.3 252.4,666.3 252.8,666.7 253.3,666.4 253.7,666.7 254.2,668.4 254.6,669.3 255.1,668.2 255.5,667.3 256.0,667.1 256.4,667.7 256.9,668.5 257.3,669.3 257.8,669.1 258.2,668.3 258.7,667.1 259.1,666.8 259.6,667.1 260.0,667.9 260.5,668.2 260.9,668.4 261.4,668.4 261.8,667.8 262.3,667.0 262.7,668.2 263.2,668.5 263.6,669.6 264.1,669.0 264.5,667.8 265.0,666.3 265.4,665.7 265.9,666.1 266.3,666.1 266.8,666.0 267.2,666.2 267.7,666.1 268.1,665.7 268.6,666.1 269.0,668.2 269.5,667.8 269.9,668.3 270.4,666.3 270.8,666.6 271.3,666.5 271.7,666.4 272.2,666.6 272.6,666.2 273.1,666.4 273.5,666.3 274.0,669.9 274.4,668.1 274.9,667.0 275.3,666.4 275.8,667.4 276.2,667.9 276.7,668.1 277.1,668.6 277.6,668.6 278.0,668.6 278.5,668.5 278.9,669.0 279.4,668.8 279.8,669.0 280.3,670.2 280.7,669.8 281.2,669.4 281.6,669.1 282.1,668.3 282.5,667.2 283.0,666.5 283.4,666.3 283.9,667.0 284.3,666.0 284.8,667.3 285.2,667.1 285.7,667.6 286.1,667.9 286.6,668.9 287.0,669.5 287.5,670.2 287.9,669.7 288.4,668.4 288.8,667.9 289.3,669.0 289.7,669.8 290.2,669.6 290.6,669.5 291.1,669.5 291.5,668.3 292.0,668.4" stroke="#0000ca" stroke-width="2.1" />
<polyline points="321.4,669.8 321.8,669.5 322.3,669.2 322.7,668.7 323.2,668.5 323.6,668.3 324.1,669.1 324.5,669.9 325.0,669.9 325.4,666.6 325.9,666.3 326.3,666.1 326.8,666.6 327.2,666.6 327.7,666.3 328.1,666.3 328.6,666.7 329.0,669.7 329.5,666.7 329.9,666.5 330.4,666.8 330.8,667.3 331.3,667.1 331.7,666.6 332.2,666.7 332.6,666.8 333.1,669.1 333.5,669.7 334.0,669.4 334.4,669.4 334.9,668.8 335.3,668.9 335.8,669.7 336.2,670.5 336.7,670.0 337.1,668.8 337.6,667.7 338.0,668.6 338.5,668.8 338.9,669.3 339.4,670.1 339.8,670.1 340.3,669.8 340.7,669.5 341.2,669.0 341.6,668.2 342.1,668.0 342.5,668.8 343.0,669.7 343.4,670.2 343.9,669.9 344.3,669.7 344.8,669.0 345.2,669.6 345.7,670.7 346.1,671.3 346.6,669.6 347.0,669.3 347.5,670.2 347.9,670.4 348.4,670.8 348.8,670.2 349.3,669.5 349.7,668.7 350.2,668.7 350.6,668.7 351.1,668.8 351.5,669.1 352.0,669.8 352.4,670.0 352.9,669.7 353.3,669.2 353.8,669.2 354.2,669.5 354.7,668.8 355.1,668.2 355.6,668.4 356.0,668.9 356.5,669.4 356.9,669.3 357.4,669.9 357.8,670.8 358.3,670.1 358.7,669.6 359.2,670.0 359.6,670.5 360.1,670.6 360.5,670.0 361.0,670.2 361.4,670.0 361.9,670.0 362.3,669.7 362.8,669.0 363.2,668.6 363.7,668.8 364.1,670.1 364.6,670.5 365.0,670.8 365.5,670.4 365.9,670.3 366.4,669.3 366.8,668.8 367.3,669.1 367.7,670.7 368.2,670.5 368.6,669.0 369.1,668.7 369.5,668.8 370.0,670.2 370.4,670.4 370.9,670.5 371.3,670.1 371.8,670.2 372.2,669.5 372.7,669.1 373.1,668.2 373.6,668.8 374.0,668.2 374.5,668.9 374.9,669.8 375.4,670.2 375.8,670.2 376.3,670.0 376.7,669.9 377.2,669.9 377.6,669.7 378.1,668.9 378.5,668.1 379.0,667.6 379.4,668.3 379.9,668.5 380.3,668.2 380.8,668.8 381.2,669.7 381.7,670.2 382.1,671.0 382.6,671.2 383.0,670.0 383.5,669.3 383.9,669.2 384.4,669.3 384.8,669.1 385.3,669.6 385.7,670.1 386.2,670.0 386.6,669.0 387.1,668.6 387.5,668.9 388.0,669.0 388.4,669.4 388.9,669.9 389.3,671.3 389.8,670.2 390.2,670.0 390.7,669.9 391.1,668.7 391.6,668.6 392.0,669.4 392.5,670.4 392.9,670.2 393.4,669.6 393.8,669.7 394.3,669.7 394.7,670.0 395.2,669.8 395.6,669.6 396.1,668.6 396.5,668.4 397.0,668.9 397.4,670.1 397.9,669.9 398.3,670.0 398.8,669.4 399.2,668.5 399.7,668.8 400.1,669.9 400.6,669.6 401.0,668.7 401.5,669.6 401.9,670.6" stroke="#0000f0" stroke-width="2.1" />
<polyline points="202.0,667.9 202.4,667.6 202.9,667.1 203.3,666.3 203.8,666.9 204.2,666.5 204.7,666.7 205.1,667.0 205.6,668.3 206.0,668.3 206.5,667.5 206.9,666.0 207.4,664.6 207.8,666.3 208.3,666.6 208.7,667.2 209.2,667.7 209.6,667.7 210.1,666.4 210.5,665.0 211.0,664.5 211.4,664.8 211.9,665.9 212.3,667.0 212.8,667.9 213.2,668.7 213.7,669.7 214.1,669.8 214.6,669.5 215.0,669.0 215.5,668.0 215.9,648.4 216.4,648.2 216.8,659.1 217.3,667.8 217.7,667.5 218.2,667.3 218.6,667.6 219.1,667.6 219.5,667.9 220.0,638.7 220.4,639.2 220.9,642.9 221.3,666.5 221.8,666.1 222.2,664.2 222.7,655.3 223.1,657.7 223.6,667.9 224.0,668.2 224.5,667.4 224.9,665.9 225.4,666.1 225.8,667.0 226.3,667.4 226.7,666.4 227.2,666.4 227.6,661.7 228.1,661.4 228.5,665.0 229.0,667.1 229.4,666.9 229.9,667.0 230.3,666.7 230.8,666.0 231.2,666.1 231.7,666.2 232.1,667.6 232.6,668.2 233.0,668.1 233.5,666.9 233.9,666.3 234.4,667.3 234.8,667.9 235.3,667.6 235.7,666.9 236.2,666.9 236.6,666.5 237.1,667.0 237.5,667.2 238.0,666.8 238.4,667.0 238.9,667.9 239.3,667.2 239.8,665.8 240.2,665.9 240.7,667.2 241.1,667.9 241.6,667.7 242.0,667.0 242.5,667.2 242.9,667.2 243.4,666.9 243.8,666.2 244.3,667.2 244.7,668.2 245.2,668.7 245.6,668.3 246.1,667.2 246.5,666.9 247.0,667.4 247.4,668.4 247.9,667.7 248.3,667.2 248.8,667.8 249.2,667.8 249.7,666.9 250.1,666.0 250.6,666.4 251.0,667.0 251.5,668.2 251.9,668.3 252.4,668.6 252.8,668.8 253.3,669.7 253.7,669.9 254.2,669.9 254.6,669.7 255.1,669.3 255.5,669.3 256.0,669.8 256.4,670.0 256.9,669.7 257.3,669.9 257.8,670.4 258.2,670.5 258.7,670.0 259.1,669.7 259.6,669.5 260.0,669.1 260.5,669.6 260.9,669.6 261.4,669.9 261.8,669.4 262.3,669.3 262.7,668.7 263.2,668.6 263.6,668.9 264.1,668.9 264.5,668.9 265.0,669.0 265.4,669.3 265.9,669.1 266.3,668.4 266.8,668.6 267.2,669.3 267.7,669.3 268.1,669.2 268.6,669.5 269.0,669.4 269.5,669.3 269.9,668.8 270.4,669.3 270.8,669.1 271.3,669.6 271.7,669.7 272.2,669.7 272.6,669.8 273.1,670.0 273.5,669.6 274.0,669.7 274.4,669.4 274.9,669.4 275.3,669.3 275.8,669.6 276.2,669.7 276.7,670.0 277.1,670.1 277.6,669.7 278.0,669.8 278.5,670.9 278.9,670.8 279.4,670.4 279.8,669.9 280.3,669.6 280.7,668.9 281.2,669.0 281.6,668.9 282.1,668.8 282.5,668.3 283.0,668.6 283.4,669.3 283.9,669.6 284.3,669.8 284.8,669.7 285.2,669.6 285.7,669.2 286.1,669.4 286.6,669.5 287.0,669.6 287.5,669.6 287.9,669.3 288.4,669.6 288.8,670.2 289.3,670.7 289.7,670.3 290.2,670.0 290.6,669.9 291.1,670.5 291.5,670.5" stroke="#0025ff" stroke-width="2.1" />
<polyline points="323.9,670.2 324.3,669.8 324.8,669.1 325.2,669.3 325.7,669.7 326.1,670.2 326.6,670.0 327.0,669.9 327.5,670.3 327.9,670.5 328.4,670.4 328.8,670.5 329.3,670.1 329.7,670.1 330.2,671.1 330.6,671.5 331.1,671.2 331.5,670.9 332.0,670.3 332.4,670.3 332.9,670.4 333.3,670.2 333.8,670.3 334.2,670.2 334.7,670.0 335.1,670.0 335.6,670.4 336.0,670.3 336.5,670.4 336.9,670.3 337.4,670.6 337.8,670.8 338.3,670.7 338.7,670.3 339.2,670.2 339.6,670.4 340.1,669.8 340.5,669.1 341.0,669.1 341.4,669.9 341.9,670.0 342.3,670.4 342.8,670.7 343.2,671.4 343.7,670.4 344.1,669.8 344.6,669.2 345.0,669.5 345.5,670.3 345.9,670.3 346.4,670.1 346.8,669.9 347.3,670.0 347.7,670.2 348.2,670.5 348.6,670.8 349.1,670.8 349.5,670.2 350.0,669.8 350.4,669.8 350.9,669.9 351.3,669.4 351.8,669.0 352.2,669.0 352.7,669.6 353.1,670.2 353.6,670.6 354.0,670.4 354.5,670.3 354.9,669.3 355.4,669.4 355.8,669.9 356.3,671.0 356.7,671.4 357.2,670.5 357.6,670.4 358.1,670.0 358.5,669.7 359.0,669.5 359.4,669.6 359.9,670.1 360.3,670.2 360.8,670.4 361.2,670.2 361.7,670.0 362.1,669.8 362.6,669.8 363.0,669.9 363.5,670.0 363.9,669.5 364.4,669.5 364.8,669.9 365.3,670.5 365.7,670.4 366.2,670.2 366.6,670.4 367.1,670.6 367.5,670.5 368.0,670.1 368.4,670.2 368.9,669.9 369.3,669.2 369.8,668.8 370.2,668.7 370.7,669.8 371.1,669.7 371.6,669.8 372.0,670.2 372.5,670.5 372.9,670.0 373.4,669.6 373.8,669.7 374.3,669.8 374.7,670.2 375.2,669.8 375.6,670.0 376.1,669.3 376.5,669.0 377.0,669.8 377.4,669.8 377.9,669.6 378.3,670.0 378.8,670.8 379.2,670.3 379.7,670.1 380.1,670.2 380.6,670.1 381.0,668.6 381.5,669.1 381.9,669.6 382.4,670.2 382.8,670.4 383.3,670.1 383.7,669.8 384.2,669.4 384.6,669.3 385.1,669.5 385.5,669.2 386.0,669.4 386.4,669.9 386.9,670.4 387.3,671.2 387.8,671.3 388.2,670.9 388.7,670.5 389.1,670.2" stroke="#0046ff" stroke-width="2.1" />
<polyline points="233.5,670.4 233.9,670.6 234.4,670.9 234.8,670.7 235.3,670.1 235.7,670.0 236.2,670.3 236.6,670.4 237.1,670.1 237.5,670.1 238.0,670.5 238.4,670.5 238.9,670.5 239.3,669.8 239.8,669.9 240.2,669.2 240.7,669.2 241.1,668.9 241.6,670.4 242.0,670.7 242.5,670.5 242.9,670.5 243.4,670.1 243.8,669.9 244.3,670.0 244.7,670.9 245.2,670.7 245.6,670.4 246.1,670.5 246.5,671.1 247.0,671.3 247.4,671.0 247.9,670.7 248.3,670.1 248.8,669.7 249.2,669.8 249.7,670.1 250.1,670.4 250.6,670.7 251.0,670.3 251.5,670.2 251.9,669.9 252.4,670.5 252.8,670.0 253.3,671.3 253.7,671.1 254.2,671.3 254.6,670.7 255.1,670.4 255.5,670.2 256.0,669.8 256.4,670.3 256.9,670.8 257.3,671.1 257.8,670.8 258.2,670.7 258.7,670.9 259.1,670.5 259.6,669.8 260.0,669.5 260.5,669.6 260.9,670.2 261.4,671.0 261.8,670.8 262.3,670.3 262.7,670.2 263.2,670.9 263.6,671.5 264.1,671.6 264.5,671.3 265.0,672.0 265.4,671.3 265.9,670.9 266.3,671.4 266.8,671.8 267.2,670.5 267.7,670.0 268.1,670.3 268.6,671.0 269.0,670.6 269.5,670.0 269.9,669.5 270.4,669.5 270.8,669.4 271.3,669.6 271.7,670.7 272.2,670.8 272.6,670.5 273.1,670.3 273.5,670.5 274.0,670.8 274.4,670.9 274.9,671.3 275.3,671.2 275.8,670.9 276.2,670.5 276.7,669.7 277.1,668.4 277.6,669.6 278.0,669.7 278.5,669.4 278.9,668.9 279.4,668.9 279.8,669.2 280.3,670.3 280.7,671.2 281.2,670.9 281.6,669.9 282.1,669.4 282.5,669.8 283.0,670.4 283.4,670.5 283.9,670.6 284.3,670.4 284.8,669.8 285.2,669.6 285.7,670.0 286.1,670.5 286.6,670.6 287.0,670.4 287.5,670.9 287.9,670.7 288.4,670.5 288.8,670.1 289.3,670.5 289.7,670.6 290.2,670.4 290.6,670.2 291.1,670.1 291.5,670.5 292.0,670.1 292.4,669.7 292.9,669.5 293.3,670.4 293.8,670.5 294.2,669.8 294.7,669.5 295.1,669.6 295.6,670.3 296.0,671.1 296.5,671.3 296.9,671.5 297.4,670.6 297.8,670.5 298.3,670.6 298.7,670.7 299.2,670.4 299.6,670.2 300.1,670.6 300.5,671.3 301.0,671.3 301.4,671.3 301.9,671.7 302.3,671.5 302.8,670.6 303.2,669.5 303.7,669.5 304.1,670.0 304.6,670.7 305.0,670.9 305.5,671.0 305.9,670.9 306.4,670.6 306.8,670.1 307.3,670.1 307.7,670.3 308.2,670.7 308.6,670.3 309.1,669.8 309.5,669.6 310.0,669.5 310.4,669.5 310.9,670.1 311.3,670.1 311.8,669.6 312.2,669.5 312.7,670.1 313.1,670.4 313.6,670.6 314.0,670.8 314.5,671.1 314.9,671.7 315.4,671.6 315.8,671.2 316.3,671.1 316.7,671.1 317.2,671.3 317.6,671.1 318.1,670.6 318.5,670.8 319.0,670.5 319.4,670.9 319.9,670.7 320.3,670.5 320.8,669.4 321.2,669.9 321.7,670.0 322.1,670.2 322.6,670.4 323.0,670.6 323.5,670.9 323.9,670.7 324.4,670.4 324.8,669.4 325.3,669.0 325.7,668.8 326.2,670.5 326.6,671.2 327.1,670.7 327.5,670.1 328.0,670.1 328.4,670.7 328.9,670.5 329.3,670.2 329.8,670.5 330.2,670.8 330.7,670.7 331.1,670.5 331.6,671.0 332.0,671.0 332.5,670.8 332.9,670.0 333.4,669.1 333.8,668.6 334.3,669.3 334.7,670.2 335.2,670.5 335.6,670.4 336.1,670.1 336.5,669.9 337.0,669.5 337.4,669.6 337.9,669.2 338.3,669.4 338.8,669.9 339.2,670.3 339.7,669.9 340.1,670.5 340.6,671.6 341.0,671.6 341.5,671.0 341.9,670.6 342.4,670.6 342.8,669.8 343.3,669.5 343.7,670.0 344.2,670.8 344.6,671.2 345.1,670.7 345.5,670.4 346.0,670.2" stroke="#0088ff" stroke-width="2.1" />
<polyline points="99.0,669.2 99.5,668.3 99.9,669.2 100.4,669.4 100.8,669.3 101.3,669.7 101.7,669.9 102.2,669.8 102.6,670.0 103.1,670.5 103.5,670.7 104.0,670.3 104.4,670.2 104.9,669.9 105.3,669.7 105.8,670.0 106.2,670.6 106.7,671.6 107.1,670.6 107.6,670.3 108.0,670.3 108.5,670.3 108.9,670.2 109.4,670.1 109.8,670.0 110.3,670.3 110.7,658.7 111.2,648.6 111.6,648.4 112.1,669.1 112.5,669.7 113.0,669.4 113.4,669.2 113.9,669.5 114.3,669.6 114.8,669.9 115.2,669.5 115.7,669.4 116.1,669.9 116.6,670.5 117.0,670.2 117.5,669.9 117.9,670.1 118.4,669.8 118.8,670.1 119.3,670.1 119.7,670.8 120.2,670.4 120.6,670.0 121.1,669.5 121.5,670.1 122.0,670.9 122.4,670.5 122.9,670.3 123.3,670.2 123.8,670.4 124.2,670.4 124.7,670.5 125.1,670.2 125.6,670.0 126.0,669.6 126.5,669.6 126.9,669.6 127.4,669.4 127.8,669.6 128.3,670.1 128.7,670.5 129.2,670.9 129.6,670.4 130.1,670.0 130.5,669.7 131.0,670.2" stroke="#00caff" stroke-width="2.2" />
<polyline points="529.4,670.8 529.9,670.6 530.3,670.2 530.8,669.8 531.2,670.7 531.7,670.9 532.1,670.6 532.6,670.5 533.0,670.5 533.5,670.3 533.9,669.9 534.4,669.8 534.8,670.5 535.3,670.9 535.7,670.6 536.2,670.3 536.6,670.8 537.1,671.6 537.5,671.4 538.0,671.6 538.4,670.4 538.9,670.2 539.3,669.3 539.8,670.1 540.2,670.5 540.7,670.8 541.1,670.6 541.6,670.4 542.0,670.1 542.5,670.1 542.9,669.8 543.4,670.0 543.8,670.3 544.3,671.2 544.7,671.2 545.2,671.0 545.6,670.7 546.1,670.8 546.5,670.2 547.0,670.0 547.4,670.1 547.9,670.2 548.3,670.4 548.8,670.6 549.2,670.5 549.7,670.7 550.1,670.5 550.6,671.1 551.0,670.7 551.5,670.8 551.9,670.8 552.4,671.0 552.8,671.2 553.3,671.2 553.7,671.5 554.2,671.6 554.6,670.9 555.1,670.2 555.5,670.3 556.0,670.9 556.4,670.5 556.9,670.2 557.3,669.9 557.8,670.8 558.2,670.8 558.7,670.9 559.1,670.6 559.6,671.0 560.0,671.4 560.5,671.4 560.9,670.6 561.4,670.4 561.8,670.6 562.3,670.8 562.7,670.7 563.2,670.5 563.6,670.1 564.1,670.1 564.5,670.4 565.0,670.9 565.4,670.7 565.9,670.8 566.3,670.2 566.8,670.6 567.2,670.3 567.7,670.5 568.1,670.9 568.6,671.2 569.0,671.0 569.5,670.1 569.9,669.9 570.4,669.6 570.8,670.2 571.3,670.1 571.7,670.0 572.2,669.3 572.6,669.6 573.1,670.0 573.5,670.3 574.0,670.1 574.4,670.4 574.9,670.9 575.3,671.3 575.8,670.7 576.2,669.9 576.7,669.6 577.1,670.2 577.6,670.6 578.0,670.2 578.5,670.5 578.9,671.5 579.4,672.2 579.8,671.3 580.3,670.9 580.7,670.4 581.2,670.1 581.6,670.3 582.1,670.4 582.5,670.3 583.0,669.9 583.4,670.3 583.9,670.4 584.3,670.7 584.8,670.6 585.2,670.4 585.7,670.2 586.1,669.9 586.6,669.5 587.0,669.5 587.5,670.2 587.9,671.2 588.4,671.1 588.8,671.0 589.3,670.6 589.7,670.4 590.2,669.7 590.6,669.6 591.1,669.9 591.5,669.8 592.0,670.1 592.4,670.7 592.9,671.6 593.3,671.5 593.8,671.2 594.2,671.2 594.7,671.0 595.1,671.4 595.6,671.7 596.0,671.9 596.5,671.5 596.9,671.0 597.4,670.5 597.8,670.5 598.3,670.7 598.7,670.7 599.2,670.4 599.6,670.3 600.1,670.6 600.5,670.8 601.0,671.5 601.4,671.1 601.9,670.8 602.3,670.0 602.8,669.7 603.2,670.5 603.7,670.8 604.1,671.1 604.6,671.2 605.0,671.3 605.5,671.0 605.9,670.4 606.4,670.7 606.8,670.9 607.3,671.0 607.7,670.7 608.2,670.2 608.6,669.8 609.1,670.1 609.5,670.2 610.0,670.2 610.4,670.1 610.9,670.1 611.3,669.5 611.8,670.7 612.2,670.8 612.7,671.1 613.1,671.1 613.6,671.0 614.0,670.4 614.5,670.0 614.9,670.1 615.4,670.2 615.8,670.0 616.3,669.2 616.7,668.9 617.2,668.6 617.6,670.1 618.1,670.4 618.5,670.2 619.0,670.2 619.4,670.6 619.9,670.8 620.3,670.5 620.8,669.5 621.2,669.9 621.7,670.5 622.1,671.1 622.6,671.4 623.0,670.6 623.5,670.3 623.9,669.9 624.4,670.3 624.8,670.5 625.3,670.9 625.7,671.1 626.2,670.9 626.6,671.0 627.1,670.9 627.5,670.7 628.0,670.3 628.4,670.5 628.9,670.6 629.3,670.7 629.8,670.7 630.2,670.6 630.7,669.7 631.1,669.5 631.6,670.1 632.0,670.7 632.5,670.8 632.9,670.4 633.4,670.7 633.8,671.1 634.3,671.5 634.7,671.2 635.2,670.5 635.6,670.6 636.1,670.6 636.5,670.9 637.0,671.2 637.4,671.6 637.9,671.3 638.3,670.9 638.8,670.7 639.2,670.4 639.7,670.5 640.1,670.7 640.6,670.6 641.0,669.9 641.5,670.1 641.9,670.0 642.4,670.2 642.8,670.2 643.3,670.4 643.7,670.3 644.2,670.2 644.6,670.6 645.1,671.1 645.5,671.4 646.0,671.2 646.4,670.5 646.9,670.1 647.3,670.1" stroke="#04eaf3" stroke-width="2.1" />
<polyline points="99.0,671.1 99.5,671.0 99.9,671.2 100.4,671.2 100.8,671.4 101.3,671.0 101.7,670.9 102.2,670.6 102.6,670.7 103.1,670.5 103.5,670.6 104.0,670.4 104.4,670.4 104.9,669.9 105.3,670.3 105.8,670.0 106.2,670.0 106.7,670.2 107.1,671.0 107.6,671.0 108.0,670.8 108.5,670.3 108.9,670.6 109.4,670.8 109.8,670.5 110.3,670.8 110.7,670.6 111.2,670.8 111.6,670.9 112.1,671.5 112.5,671.5 113.0,671.4 113.4,671.1 113.9,670.9 114.3,671.0 114.8,670.9 115.2,670.9 115.7,670.6 116.1,670.7 116.6,670.2 117.0,670.2 117.5,669.6 117.9,670.5 118.4,670.9 118.8,666.1 119.3,663.4 119.7,668.7 120.2,671.0 120.6,670.6 121.1,670.4 121.5,670.4 122.0,670.6 122.4,671.0 122.9,670.9 123.3,671.0 123.8,672.6 124.2,671.9 124.7,671.3 125.1,671.0 125.6,671.0 126.0,671.3 126.5,670.9 126.9,671.4 127.4,671.4 127.8,670.9 128.3,670.4 128.7,670.2 129.2,670.8 129.6,671.4 130.1,671.0 130.5,670.2 131.0,669.8 131.4,670.6 131.9,671.5 132.3,671.7 132.8,661.9 133.2,661.5 133.7,671.1 134.1,670.7 134.6,670.7 135.0,671.2 135.5,671.3 135.9,671.1 136.4,670.9 136.8,671.0 137.3,670.7 137.7,670.9 138.2,671.1 138.6,671.5 139.1,671.1 139.5,670.6 140.0,670.6 140.4,670.9 140.9,671.2 141.3,670.6 141.8,670.2 142.2,668.6 142.7,670.0 143.1,671.0 143.6,671.4 144.0,671.1 144.5,670.8 144.9,671.1 145.4,671.5 145.8,671.3 146.3,671.3 146.7,671.0 147.2,671.1 147.6,670.7 148.1,670.5 148.5,670.5 149.0,671.2 149.4,671.6 149.9,671.7 150.3,671.2 150.8,671.4 151.2,671.6 151.7,671.5 152.1,671.3 152.6,671.4 153.0,671.8 153.5,671.6 153.9,671.1 154.4,670.9 154.8,670.9 155.3,671.4 155.7,671.4 156.2,671.7 156.6,671.4 157.1,671.2 157.5,671.0 158.0,670.8 158.4,670.5 158.9,670.6 159.3,671.0 159.8,671.5 160.2,671.1 160.7,671.0 161.1,670.5 161.6,670.4 162.0,670.8 162.5,671.3 162.9,671.2 163.4,670.8 163.8,671.3 164.3,671.9 164.7,672.3 165.2,671.0 165.6,670.8" stroke="#1fffd8" stroke-width="2.1" />
<polyline points="399.7,671.2 400.1,670.9 400.6,670.7 401.0,670.6 401.5,670.5 401.9,670.8 402.4,671.1 402.8,671.1 403.3,670.5 403.7,670.8 404.2,670.7 404.6,670.6 405.1,670.4 405.5,670.5 406.0,670.3 406.4,669.9 406.9,670.2 407.3,670.7 407.8,671.0 408.2,671.2 408.7,671.4 409.1,671.6 409.6,671.5 410.0,671.6 410.5,671.3 410.9,671.5 411.4,671.5 411.8,671.8 412.3,672.2 412.7,672.2 413.2,671.9 413.6,671.5 414.1,671.6 414.5,671.7 415.0,671.6 415.4,671.4 415.9,671.0 416.3,670.5 416.8,670.5 417.2,670.2 417.7,670.5 418.1,670.8 418.6,671.4 419.0,671.7 419.5,671.0 419.9,670.7 420.4,670.7 420.8,670.9 421.3,671.2 421.7,671.6 422.2,671.4 422.6,671.0 423.1,670.5 423.5,670.7 424.0,670.9 424.4,671.6 424.9,671.0 425.3,670.9 425.8,670.7 426.2,671.2 426.7,670.8 427.1,670.9 427.6,670.9 428.0,671.1 428.5,671.2 428.9,671.0 429.4,670.8 429.8,670.5 430.3,670.3 430.7,669.8 431.2,670.5 431.6,671.2 432.1,671.2 432.5,671.5 433.0,670.6 433.4,670.6 433.9,670.6 434.3,671.5 434.8,671.8 435.2,671.9 435.7,671.9 436.1,671.5 436.6,671.2 437.0,671.0 437.5,671.3 437.9,671.6 438.4,671.2 438.8,670.9 439.3,670.6 439.7,671.0 440.2,671.3 440.6,672.0 441.1,672.1 441.5,672.0 442.0,671.4 442.4,670.9 442.9,670.2 443.3,670.0 443.8,669.9 444.2,669.4 444.7,670.6 445.1,670.7 445.6,670.4 446.0,670.1 446.5,670.8 446.9,671.4 447.4,671.8 447.8,671.4 448.3,671.0 448.7,670.9 449.2,671.4 449.6,671.6 450.1,671.6 450.5,671.7 451.0,671.7 451.4,672.0 451.9,671.1 452.3,670.6 452.8,670.4 453.2,670.6 453.7,671.1 454.1,670.8 454.6,670.0 455.0,670.3 455.5,670.5 455.9,670.6 456.4,670.6 456.8,670.6 457.3,670.6 457.7,671.1 458.2,671.5 458.6,671.3 459.1,670.9 459.5,670.8 460.0,670.9 460.4,671.1 460.9,671.2 461.3,670.9 461.8,670.8 462.2,670.6 462.7,670.9 463.1,670.8 463.6,670.3 464.0,670.2 464.5,670.3 464.9,670.3 465.4,670.0 465.8,670.3 466.3,670.8 466.7,670.4 467.2,670.5 467.6,670.3 468.1,670.6 468.5,670.8 469.0,671.1 469.4,671.4 469.9,671.1 470.3,670.9 470.8,670.8 471.2,670.9 471.7,670.7 472.1,670.2 472.6,670.0 473.0,670.6 473.5,671.0 473.9,671.2 474.4,670.9 474.8,670.9 475.3,670.9 475.7,671.0 476.2,671.0 476.6,671.1 477.1,671.2 477.5,671.2 478.0,670.8 478.4,671.1 478.9,671.6 479.3,671.6 479.8,671.3 480.2,670.8 480.7,670.7 481.1,670.5 481.6,670.8 482.0,671.5 482.5,671.5 482.9,670.9 483.4,669.9 483.8,669.8 484.3,670.2 484.7,671.0 485.2,671.7 485.6,671.9 486.1,671.6 486.5,671.5 487.0,671.5 487.4,671.2 487.9,670.4 488.3,670.1 488.8,670.7 489.2,670.8 489.7,670.4 490.1,670.1 490.6,670.6 491.0,671.1 491.5,671.7 491.9,671.9 492.4,671.5 492.8,671.0 493.3,670.9 493.7,671.0 494.2,671.1 494.6,671.0 495.1,670.9 495.5,670.3 496.0,670.3 496.4,670.7 496.9,671.4 497.3,671.3 497.8,670.9 498.2,670.6 498.7,670.6 499.1,670.8 499.6,670.6 500.0,670.7 500.5,670.9 500.9,670.9 501.4,671.0 501.8,671.5 502.3,671.7 502.7,671.7 503.2,671.4 503.6,671.2 504.1,670.6 504.5,670.9 505.0,671.1 505.4,671.1 505.9,670.9 506.3,671.1 506.8,671.2 507.2,670.6 507.7,670.3 508.1,670.2 508.6,670.8 509.0,671.2 509.5,671.3 509.9,671.0 510.4,671.2 510.8,671.2 511.3,671.2 511.7,670.5 512.2,670.4 512.6,671.1 513.1,671.7 513.5,671.4 514.0,671.4 514.4,671.3 514.9,671.0 515.3,670.5 515.8,670.6" stroke="#54ffa3" stroke-width="2.1" />
<polyline points="139.6,668.5 140.0,667.5 140.5,667.8 140.9,669.0 141.4,669.6 141.8,669.5 142.3,668.8 142.7,668.4 143.2,668.3 143.6,668.9 144.1,669.1 144.5,669.0 145.0,668.5 145.4,668.3 145.9,668.4 146.3,668.9 146.8,669.4 147.2,669.3 147.7,669.2 148.1,668.9 148.6,668.8 149.0,668.7 149.5,668.8 149.9,669.8 150.4,670.0 150.8,670.1 151.3,669.4 151.7,669.5 152.2,668.7 152.6,668.2 153.1,668.6 153.5,669.1 154.0,669.4 154.4,669.0 154.9,668.9 155.3,668.7 155.8,668.6 156.2,668.2 156.7,668.2 157.1,668.6 157.6,668.4 158.0,668.5 158.5,669.2 158.9,669.4 159.4,669.1 159.8,669.3 160.3,669.4 160.7,669.1 161.2,669.3 161.6,663.4 162.1,663.2 162.5,666.8 163.0,669.2 163.4,669.2 163.9,667.7 164.3,663.0 164.8,662.7 165.2,668.8 165.7,669.5 166.1,669.8 166.6,665.8 167.0,663.2 167.5,667.0 167.9,668.4 168.4,669.2 168.8,669.6 169.3,669.5 169.7,668.8 170.2,669.4 170.6,669.4 171.1,668.6 171.5,667.9 172.0,667.3 172.4,669.1 172.9,668.8 173.3,668.5 173.8,668.1 174.2,668.3 174.7,668.6 175.1,668.9 175.6,668.9 176.0,668.9 176.5,668.8 176.9,668.5 177.4,668.8 177.8,669.7 178.3,669.8 178.7,669.4 179.2,668.6 179.6,668.8 180.1,668.9 180.5,669.3 181.0,668.9 181.4,668.9 181.9,669.0 182.3,670.0 182.8,669.2 183.2,669.4 183.7,669.5 184.1,669.1 184.6,668.6 185.0,666.0 185.5,664.8 185.9,666.5 186.4,670.2 186.8,669.5 187.3,669.4 187.7,669.2 188.2,668.8 188.6,665.4 189.1,664.1 189.5,668.3 190.0,669.1 190.4,669.8 190.9,669.7 191.3,669.7 191.8,668.5 192.2,668.6 192.7,668.8 193.1,669.6 193.6,669.2 194.0,668.8 194.5,668.6 194.9,669.4 195.4,669.1 195.8,669.0 196.3,669.4 196.7,669.8 197.2,669.7 197.6,669.1 198.1,668.7 198.5,668.5 199.0,668.4 199.4,669.1 199.9,670.1 200.3,670.1 200.8,669.0 201.2,668.5 201.7,659.7 202.1,659.5 202.6,669.5 203.0,669.7 203.5,670.0 203.9,670.1 204.4,669.9 204.8,669.8" stroke="#89ff6e" stroke-width="2.1" />
<polyline points="508.6,670.1 509.1,670.4 509.5,671.6 509.9,670.7 510.4,670.6 510.8,669.9 511.3,669.8 511.7,669.9 512.2,670.2 512.6,670.1 513.1,670.2 513.5,670.2 514.0,670.4 514.4,670.7 514.9,671.0 515.3,670.6 515.8,670.4 516.2,670.3 516.7,670.3 517.1,670.1 517.6,669.8 518.0,669.6 518.5,669.9 518.9,670.5 519.4,670.7 519.8,670.1 520.3,669.2 520.7,669.6 521.2,670.1 521.6,670.6 522.1,670.7 522.5,670.7 523.0,670.2 523.4,669.5 523.9,669.6 524.3,670.0 524.8,670.2 525.2,670.1 525.7,669.7 526.1,669.5 526.6,670.0 527.0,670.8 527.5,671.1 527.9,670.6 528.4,670.3 528.8,670.6 529.3,670.6 529.7,670.5 530.2,670.0 530.6,669.8 531.1,669.8 531.5,670.1 532.0,670.3 532.4,670.7 532.9,670.6 533.3,670.3 533.8,670.0 534.2,670.4 534.7,670.8 535.1,671.1 535.6,670.9 536.0,670.6 536.5,670.4 536.9,670.2 537.4,670.1 537.8,670.4 538.3,670.9 538.7,671.1 539.2,671.0 539.6,670.4 540.1,670.4 540.5,670.6 541.0,670.6 541.4,670.3 541.9,669.7 542.3,669.6 542.8,669.6 543.2,670.1 543.7,670.2 544.1,670.4 544.6,670.4 545.0,670.4 545.5,669.9 545.9,669.8 546.4,669.9 546.8,669.4 547.3,669.1 547.7,668.9 548.2,669.5 548.6,669.5 549.1,669.2 549.5,669.0 550.0,669.0 550.4,669.6 550.9,670.1 551.3,670.5 551.8,670.7 552.2,670.5 552.7,670.1 553.1,670.2 553.6,670.1 554.0,670.0 554.5,669.6 554.9,669.3 555.4,669.8 555.8,670.1 556.3,669.9 556.7,669.6 557.2,670.2 557.6,670.6 558.1,670.0 558.5,669.3 559.0,669.0 559.4,669.5 559.9,669.7 560.3,669.7 560.8,669.9 561.2,669.3 561.7,669.7 562.1,670.1 562.6,669.9 563.0,669.6 563.5,669.8 563.9,671.0 564.4,670.9 564.8,670.1 565.3,669.8 565.7,670.0 566.2,670.2 566.6,670.2 567.1,670.0 567.5,669.3 568.0,669.4 568.4,669.8" stroke="#89ff6e" stroke-width="2.1" />
<polyline points="706.0,669.0 706.5,670.9 706.9,671.9 707.4,671.0 707.8,670.0 708.3,670.0 708.7,669.9 709.2,669.8 709.6,669.7 710.1,670.7 710.5,670.6 711.0,670.1 711.4,670.0 711.9,670.1 712.3,670.4 712.8,670.0 713.2,669.9 713.7,667.1 714.1,667.1 714.6,667.7 715.0,669.9 715.5,669.6 715.9,670.1 716.4,670.2 716.8,669.8 717.3,669.9 717.7,670.3 718.2,670.2 718.6,666.2 719.1,666.5 719.5,666.3 720.0,669.2 720.4,669.9 720.9,670.0 721.3,670.3 721.8,670.2 722.2,669.8 722.7,669.6 723.1,669.7 723.6,669.6 724.0,670.1 724.5,670.4 724.9,670.1 725.4,669.7 725.8,669.9 726.3,669.5 726.7,665.5 727.2,665.9 727.6,667.8 728.1,671.2 728.5,670.6 729.0,670.6 729.4,671.5 729.9,672.4 730.3,669.4 730.8,666.6 731.2,666.4 731.7,668.1 732.1,670.0 732.6,669.7 733.0,669.9 733.5,670.0 733.9,669.9 734.4,669.4 734.8,670.0 735.3,671.8 735.7,672.1 736.2,671.5 736.6,670.6 737.1,670.1 737.5,669.7 738.0,669.8 738.4,669.9 738.9,670.0 739.3,670.8 739.8,670.8 740.2,671.5 740.7,671.9 741.1,671.9 741.6,670.7 742.0,670.5 742.5,671.0 742.9,671.0 743.4,670.8 743.8,670.2 744.3,670.0 744.7,669.8 745.2,670.4 745.6,671.1 746.1,672.3 746.5,672.2 747.0,673.2 747.4,671.3 747.9,670.9 748.3,670.8 748.8,670.8 749.2,671.1 749.7,670.1 750.1,669.4 750.6,669.8 751.0,671.0 751.5,671.0 751.9,670.4 752.4,669.9 752.8,670.4 753.3,669.9 753.7,669.8 754.2,668.5 754.6,669.7 755.1,670.5 755.5,671.0 756.0,671.5 756.4,670.8 756.9,670.3 757.3,669.8 757.8,671.3 758.2,671.4 758.7,671.9 759.1,670.9 759.6,671.2 760.0,671.2 760.5,671.3 760.9,670.8 761.4,670.7 761.8,670.2 762.3,670.4 762.7,670.6 763.2,669.6 763.6,668.6 764.1,666.8 764.5,669.0 765.0,669.1 765.4,669.0 765.9,669.9 766.3,671.0 766.8,671.7 767.2,670.9 767.7,670.2 768.1,669.5 768.6,670.6 769.0,671.2 769.5,671.1 769.9,671.0 770.4,670.8 770.8,670.7 771.3,670.5 771.7,670.2 772.2,669.6 772.6,669.5 773.1,670.8 773.5,671.9 774.0,672.0 774.4,671.5 774.9,671.2 775.3,671.4 775.8,670.9 776.2,670.4 776.7,669.2 777.1,668.8 777.6,669.4 778.0,670.5 778.5,671.4 778.9,670.7 779.4,671.1 779.8,672.2 780.3,671.6 780.7,670.2 781.2,669.3 781.6,669.5 782.1,671.0 782.5,672.0 783.0,672.4 783.4,671.6 783.9,671.0 784.3,670.7 784.8,671.2 785.2,671.1 785.7,671.0 786.1,671.1 786.6,670.9 787.0,670.1 787.5,669.5 787.9,669.3 788.4,670.6 788.8,670.9 789.3,670.2 789.7,670.3 790.2,670.6 790.6,670.4 791.1,669.4 791.5,669.0 792.0,669.7 792.4,670.4 792.9,670.3 793.3,669.8 793.8,670.3 794.2,670.9 794.7,670.8 795.1,670.7 795.6,670.5 796.0,670.5 796.5,670.4 796.9,670.4 797.4,669.7 797.8,669.8 798.3,670.4 798.7,670.4 799.2,669.9 799.6,669.9" stroke="#6eff89" stroke-width="2.1" />
<polyline points="298.0,669.5 298.4,669.7 298.9,670.3 299.3,670.9 299.8,670.1 300.2,669.3 300.7,669.2 301.1,669.9 301.6,670.7 302.0,670.9 302.5,670.6 302.9,670.2 303.4,668.4 303.8,668.9 304.3,668.2 304.7,668.5 305.2,668.8 305.6,668.1 306.1,668.3 306.5,668.3 307.0,670.5 307.4,669.6 307.9,669.1 308.3,669.2 308.8,669.4 309.2,669.4 309.7,669.8 310.1,670.5 310.6,671.0 311.0,670.8 311.5,669.9 311.9,670.0 312.4,670.5 312.8,670.0 313.3,669.7 313.7,669.6 314.2,669.9 314.6,670.4 315.1,670.5 315.5,670.2 316.0,669.8 316.4,669.9 316.9,670.1 317.3,669.8 317.8,669.4 318.2,669.6 318.7,670.2 319.1,669.9 319.6,669.4 320.0,669.6 320.5,670.1 320.9,670.4 321.4,670.8 321.8,670.9 322.3,670.8 322.7,670.6 323.2,670.1 323.6,670.0 324.1,670.4 324.5,670.6 325.0,670.7 325.4,670.4 325.9,670.5 326.3,670.7 326.8,669.9 327.2,669.6 327.7,669.7 328.1,670.5 328.6,670.5 329.0,670.5 329.5,670.2 329.9,670.1 330.4,669.1 330.8,669.0 331.3,669.5 331.7,669.8 332.2,669.4 332.6,669.7 333.1,670.2 333.5,670.3 334.0,670.6 334.4,670.4 334.9,670.5 335.3,670.4 335.8,670.0 336.2,669.8 336.7,669.3 337.1,668.6 337.6,669.3 338.0,670.0 338.5,670.1 338.9,670.4 339.4,670.0 339.8,669.9" stroke="#d8ff1f" stroke-width="2.1" />
<polyline points="382.0,669.4 382.4,668.8 382.9,668.1 383.3,668.0 383.8,668.4 384.2,668.4 384.7,668.5 385.1,668.8 385.6,669.0 386.0,668.9 386.5,668.2 386.9,668.0 387.4,668.3 387.8,669.5 388.3,669.2 388.7,669.2 389.2,669.3 389.6,669.1 390.1,668.8 390.5,668.9 391.0,669.1 391.4,669.0 391.9,668.0 392.3,668.2 392.8,668.6 393.2,668.6 393.7,667.8 394.1,668.0 394.6,668.2 395.0,668.3 395.5,668.4 395.9,669.1 396.4,668.9 396.8,668.8 397.3,668.9 397.7,669.4 398.2,669.2 398.6,668.7 399.1,668.6 399.5,668.3 400.0,668.3 400.4,668.6 400.9,668.8 401.3,668.5 401.8,668.4 402.2,668.9 402.7,669.2 403.1,668.7 403.6,668.4 404.0,668.5 404.5,668.8 404.9,668.7 405.4,668.1 405.8,667.8 406.3,668.5 406.7,668.9 407.2,669.0 407.6,668.8 408.1,668.7 408.5,668.5 409.0,668.4 409.4,668.3 409.9,668.4 410.3,668.3 410.8,668.3 411.2,668.8 411.7,669.3 412.1,669.5 412.6,669.0 413.0,669.4 413.5,669.5 413.9,669.6" stroke="#f3fa04" stroke-width="2.1" />
<polyline points="745.0,668.5 745.5,668.6 745.9,669.0 746.4,668.6 746.8,668.6 747.3,668.9 747.7,669.1 748.2,669.4 748.6,669.5 749.1,669.5 749.5,668.8 750.0,668.7 750.4,669.4 750.9,669.5 751.3,669.4 751.8,669.1 752.2,669.8 752.7,669.2 753.1,664.3 753.6,663.6 754.0,666.0 754.5,669.5 754.9,671.0 755.4,670.0 755.8,670.0 756.3,669.9 756.7,669.8 757.2,670.0 757.6,670.7 758.1,669.9 758.5,669.3 759.0,669.0 759.4,669.4 759.9,669.5 760.3,669.7 760.8,658.4 761.2,658.5 761.7,668.9 762.1,669.1 762.6,669.5 763.0,669.6 763.5,669.8 763.9,669.4 764.4,668.9 764.8,668.9 765.3,668.9 765.7,660.5 766.2,660.3 766.6,668.8 767.1,667.5 767.5,669.2 768.0,669.8 768.4,669.7 768.9,668.6 769.3,668.6 769.8,668.8 770.2,669.4 770.7,668.8 771.1,669.0 771.6,668.9 772.0,666.4 772.5,667.0 772.9,669.4 773.4,669.7 773.8,669.0 774.3,669.1 774.7,669.9 775.2,670.3 775.6,670.9 776.1,669.2 776.5,668.8 777.0,668.9 777.4,669.4 777.9,669.6 778.3,669.9 778.8,670.0 779.2,669.5 779.7,669.7 780.1,658.2 780.6,658.5 781.0,669.2 781.5,669.5 781.9,670.0 782.4,670.4 782.8,658.2 783.3,658.2 783.7,669.7 784.2,669.3 784.6,669.8 785.1,670.1 785.5,670.2 786.0,669.7 786.4,656.1 786.9,652.1 787.3,661.4 787.8,669.4 788.2,669.5 788.7,668.6 789.1,668.1 789.6,668.5 790.0,663.2 790.5,660.1 790.9,666.1 791.4,669.0 791.8,668.5 792.3,662.1 792.7,662.3 793.2,669.5 793.6,668.9 794.1,669.0 794.5,668.7 795.0,669.0 795.4,669.3 795.9,669.7 796.3,669.7 796.8,669.9 797.2,670.8 797.7,670.9 798.1,670.1 798.6,668.9 799.0,668.5 799.5,669.4 799.9,670.5 800.4,670.1 800.8,669.8 801.3,670.4 801.7,670.3 802.2,669.9 802.6,669.1 803.1,669.1 803.5,669.4 804.0,669.7 804.4,669.7 804.9,669.7 805.3,666.4 805.8,666.6 806.2,666.5 806.7,668.2 807.1,669.4 807.6,670.6 808.0,670.2 808.5,669.7 808.9,669.0 809.4,668.5 809.8,668.6 810.3,668.9 810.7,669.3 811.2,669.9 811.6,669.7" stroke="#f3fa04" stroke-width="2.1" />
<polyline points="99.0,671.9 99.5,672.3 99.9,672.0 100.4,671.4 100.8,671.5 101.3,671.1 101.7,670.6 102.2,670.5 102.6,670.7 103.1,670.2 103.5,670.7 104.0,671.2 104.4,671.3 104.9,671.3 105.3,671.2 105.8,671.2 106.2,671.2 106.7,671.4 107.1,671.6 107.6,671.7 108.0,671.5 108.5,671.4 108.9,671.0 109.4,669.8 109.8,669.5 110.3,670.5 110.7,671.2 111.2,671.6 111.6,671.4 112.1,671.1 112.5,671.7 113.0,672.4 113.4,672.1 113.9,671.9 114.3,671.9" stroke="#ffdc00" stroke-width="2.1" />
<polyline points="99.0,669.5 99.5,669.8 99.9,670.2 100.4,670.7 100.8,670.4 101.3,670.6 101.7,670.5 102.2,669.6 102.6,669.1 103.1,669.8 103.5,670.6 104.0,672.4 104.4,670.3 104.9,670.2 105.3,670.8 105.8,671.0 106.2,670.7 106.7,669.9 107.1,670.0 107.6,669.3 108.0,669.4 108.5,669.4 108.9,669.2 109.4,669.3 109.8,669.4 110.3,669.5 110.7,669.9 111.2,670.6 111.6,670.4 112.1,669.5 112.5,669.2 113.0,668.8 113.4,668.9 113.9,668.8 114.3,669.1 114.8,668.2 115.2,668.7 115.7,668.9 116.1,669.8 116.6,669.7 117.0,669.8 117.5,669.7 117.9,669.4 118.4,668.5 118.8,668.6 119.3,669.6 119.7,670.6 120.2,670.5 120.6,670.5 121.1,669.6 121.5,669.4 122.0,669.7" stroke="#ff2500" stroke-width="2.1" />
<polyline points="516.0,669.9 516.5,670.5 516.9,670.9 517.4,670.4 517.8,669.7 518.3,669.6 518.7,670.0 519.2,669.9 519.6,670.0 520.1,670.3 520.5,670.3 521.0,669.8 521.4,669.8 521.9,670.3 522.3,670.6 522.8,670.2 523.2,669.0 523.7,669.3 524.1,669.9 524.6,670.5 525.0,670.2 525.5,670.0 525.9,670.0 526.4,670.1 526.8,669.6 527.3,669.9 527.7,670.8 528.2,670.8 528.6,670.9 529.1,671.0 529.5,670.6 530.0,669.9 530.4,670.1 530.9,670.4 531.3,670.3 531.8,670.3 532.2,670.6 532.7,670.7 533.1,670.5 533.6,670.1 534.0,669.7 534.5,669.6 534.9,670.0 535.4,670.2 535.8,670.0 536.3,669.7 536.7,669.5 537.2,669.8 537.6,669.7 538.1,669.4 538.5,670.1 539.0,670.4 539.4,670.0 539.9,670.1 540.3,670.9 540.8,671.9 541.2,671.2 541.7,670.1 542.1,670.0 542.6,669.6 543.0,669.6 543.5,670.1 543.9,670.5 544.4,670.7 544.8,670.3" stroke="#ffdc00" stroke-width="2.1" />
<polyline points="882.6,668.9 883.1,668.6 883.5,668.9 884.0,668.8 884.4,669.3 884.9,669.3 885.3,669.3 885.8,669.5 886.2,669.6 886.7,669.7 887.1,670.0 887.6,670.1 888.0,669.9 888.5,669.9 888.9,670.3 889.4,670.0 889.8,669.6 890.3,669.3 890.7,669.7 891.2,669.9 891.6,670.2 892.1,670.1 892.5,670.7 893.0,670.9 893.4,671.2 893.9,671.3 894.3,672.3 894.8,672.8 895.2,673.2" stroke="#ffdc00" stroke-width="2.1" />
<polyline points="893.7,669.9 894.2,670.1 894.6,669.9 895.1,669.9 895.5,670.2 896.0,670.8 896.4,670.7 896.9,670.0 897.3,669.5 897.8,669.2 898.2,669.6 898.7,669.4 899.1,668.9 899.6,668.7 900.0,669.2 900.5,669.0 900.9,669.1 901.4,668.9 901.8,668.9 902.3,668.4 902.7,668.4 903.2,668.4 903.6,668.5 904.1,668.5 904.5,668.8 905.0,670.0 905.4,670.8 905.9,671.4 906.3,672.0" stroke="#00a9ff" stroke-width="2.1" />
<polyline points="204.0,669.9 204.4,669.8 204.9,669.7 205.3,670.2 205.8,669.9 206.2,669.3 206.7,668.5 207.1,668.6 207.6,668.9 208.0,669.4 208.5,670.1 208.9,670.3 209.4,669.9 209.8,669.0 210.3,668.8 210.7,668.6 211.2,670.3 211.6,670.4 212.1,670.6 212.5,670.2 213.0,670.6 213.4,670.7 213.9,670.4 214.3,670.0 214.8,669.7 215.2,669.8 215.7,669.6 216.1,669.9 216.6,669.6 217.0,664.0 217.5,660.5 217.9,660.6 218.4,669.7 218.8,669.8 219.3,664.0 219.7,663.9 220.2,670.2 220.6,669.6 221.1,669.1 221.5,669.4 222.0,669.5 222.4,669.6 222.9,669.5 223.3,669.1 223.8,669.1 224.2,667.7 224.7,669.1 225.1,670.0 225.6,671.0 226.0,671.7 226.5,670.5 226.9,670.5 227.4,670.0 227.8,669.4 228.3,669.1 228.7,669.6 229.2,669.5 229.6,669.4 230.1,669.2 230.5,669.1 231.0,668.7 231.4,669.0 231.9,669.2 232.3,669.3 232.8,669.1 233.2,668.8 233.7,669.4 234.1,670.3 234.6,670.1 235.0,670.2 235.5,669.6 235.9,669.8 236.4,668.9 236.8,669.3 237.3,669.2 237.7,658.6 238.2,658.3 238.6,669.7 239.1,670.2 239.5,670.4 240.0,669.7 240.4,669.2 240.9,669.0 241.3,669.3 241.8,669.6 242.2,668.5 242.7,666.0 243.1,665.7 243.6,666.5 244.0,668.8 244.5,669.2 244.9,669.7 245.4,669.2 245.8,669.2 246.3,669.3 246.7,669.4 247.2,669.1 247.6,669.0 248.1,669.3 248.5,668.2 249.0,669.0 249.4,669.4 249.9,670.0 250.3,669.2 250.8,668.4 251.2,667.9 251.7,669.3 252.1,669.3 252.6,668.6 253.0,669.1 253.5,669.6 253.9,669.4 254.4,669.0 254.8,669.9 255.3,670.9 255.7,670.6 256.2,670.0 256.6,670.3 257.1,671.0 257.5,670.7 258.0,670.3 258.4,670.0 258.9,670.3 259.3,670.1 259.8,669.8 260.2,669.4 260.7,669.4 261.1,669.2 261.6,669.5 262.0,670.3 262.5,670.4 262.9,670.0 263.4,669.7 263.8,670.3 264.3,671.0 264.7,669.6 265.2,668.6 265.6,666.9 266.1,668.7 266.5,669.2 267.0,669.8 267.4,669.5 267.9,668.7 268.3,668.5 268.8,668.9 269.2,670.2 269.7,670.3 270.1,669.9 270.6,669.0 271.0,668.8 271.5,669.0 271.9,668.9 272.4,668.8 272.8,668.9 273.3,669.0 273.7,669.1 274.2,669.0 274.6,668.9 275.1,669.3 275.5,669.9 276.0,669.6 276.4,668.9 276.9,667.4 277.3,668.2 277.8,668.2 278.2,669.8 278.7,669.2 279.1,668.5 279.6,668.9 280.0,669.9 280.5,669.7 280.9,669.1 281.4,669.4 281.8,669.9 282.3,669.9 282.7,669.6 283.2,668.7 283.6,669.4 284.1,669.7 284.5,669.8 285.0,669.2 285.4,669.2 285.9,669.5 286.3,669.5 286.8,669.3 287.2,669.6 287.7,669.9 288.1,670.4 288.6,670.9 289.0,670.7 289.5,670.0 289.9,669.7 290.4,669.1 290.8,667.7 291.3,668.4 291.7,669.3 292.2,669.6 292.6,669.7 293.1,669.1 293.5,668.7 294.0,668.7 294.4,669.7 294.9,670.6 295.3,670.1 295.8,669.9 296.2,669.8 296.7,669.5 297.1,669.3 297.6,669.5 298.0,669.8 298.5,669.4 298.9,668.8 299.4,668.1 299.8,668.7 300.3,669.4" stroke="#ffbd00" stroke-width="2.3" />
<polyline points="474.2,663.3 474.6,664.1 475.1,664.2 475.5,664.8 476.0,666.7 476.4,667.5 476.9,667.6 477.3,666.5 477.8,666.3 478.2,665.5 478.7,664.2 479.1,664.2 479.6,664.5 480.0,665.3 480.5,666.0 480.9,666.3 481.4,666.8 481.8,665.9 482.3,665.1 482.7,664.9 483.2,666.5 483.6,667.3 484.1,667.3 484.5,666.3 485.0,666.1 485.4,666.1 485.9,665.6 486.3,665.6 486.8,666.4 487.2,667.2 487.7,667.7 488.1,666.4 488.6,666.9 489.0,666.1 489.5,666.6 489.9,662.7 490.4,664.0 490.8,664.6 491.3,666.6 491.7,665.9 492.2,664.6 492.6,664.7 493.1,665.9 493.5,667.2 494.0,666.9 494.4,667.0 494.9,668.3 495.3,669.6 495.8,667.6 496.2,667.6 496.7,667.1 497.1,666.8 497.6,665.8 498.0,664.4 498.5,664.0 498.9,663.7 499.4,665.2 499.8,664.9 500.3,663.8 500.7,665.6 501.2,665.8 501.6,665.8 502.1,667.8 502.5,667.0 503.0,666.1 503.4,666.0 503.9,666.6 504.3,666.6 504.8,665.4 505.2,665.4 505.7,665.3 506.1,666.1 506.6,666.6 507.0,666.2 507.5,665.5 507.9,665.2 508.4,665.9 508.8,665.7 509.3,665.3 509.7,664.7 510.2,665.5 510.6,666.6 511.1,665.7 511.5,663.0 512.0,664.2 512.4,665.6 512.9,664.7 513.3,664.7 513.8,665.9 514.2,667.1 514.7,666.1 515.1,665.3 515.6,665.0 516.0,665.2 516.5,665.6 516.9,667.1 517.4,667.2 517.8,666.6 518.3,665.2 518.7,665.5 519.2,665.2 519.6,664.7 520.1,664.6 520.5,665.1 521.0,665.5 521.4,664.7 521.9,665.9 522.3,666.4 522.8,666.6 523.2,666.1 523.7,666.1 524.1,666.9 524.6,667.3 525.0,667.1 525.5,666.6 525.9,666.1 526.4,665.6 526.8,665.0 527.3,666.0 527.7,665.8 528.2,665.3 528.6,665.3 529.1,667.3 529.5,667.8 530.0,666.5 530.4,664.6 530.9,664.6 531.3,665.9 531.8,667.1 532.2,666.4 532.7,665.9 533.1,665.2 533.6,665.4 534.0,665.4 534.5,665.7 534.9,666.0 535.4,665.3 535.8,664.4 536.3,665.2 536.7,666.2 537.2,666.8 537.6,667.0 538.1,666.4 538.5,666.0 539.0,666.0 539.4,665.9 539.9,664.7 540.3,664.9 540.8,666.5 541.2,669.3 541.7,667.3 542.1,666.3 542.6,665.9 543.0,666.4 543.5,666.8 543.9,667.4 544.4,667.0 544.8,666.5 545.3,665.4 545.7,665.8 546.2,666.8 546.6,666.7 547.1,665.5 547.5,665.4 548.0,666.0 548.4,667.4 548.9,666.6 549.3,666.0 549.8,665.8 550.2,666.3 550.7,666.2 551.1,666.6 551.6,667.0 552.0,666.1 552.5,665.2 552.9,665.2 553.4,664.9 553.8,665.9 554.3,666.3 554.7,665.9 555.2,664.6 555.6,664.6 556.1,665.8 556.5,666.9 557.0,667.1 557.4,665.9 557.9,665.7 558.3,665.1 558.8,666.9 559.2,667.0 559.7,668.3 560.1,665.7 560.6,665.3 561.0,665.9 561.5,666.8 561.9,665.5 562.4,664.9 562.8,665.1 563.3,665.6 563.7,666.8 564.2,665.5 564.6,664.9 565.1,665.6 565.5,667.3 566.0,666.5 566.4,665.7 566.9,664.8 567.3,665.4 567.8,664.7 568.2,664.4 568.7,664.6 569.1,665.3 569.6,665.8 570.0,665.3 570.5,665.1 570.9,664.9 571.4,665.0 571.8,664.9 572.3,665.9 572.7,666.4 573.2,667.8 573.6,667.8 574.1,668.0 574.5,667.2 575.0,666.4 575.4,664.8 575.9,664.8 576.3,664.9 576.8,665.6 577.2,665.4 577.7,666.3 578.1,665.5 578.6,665.0 579.0,664.2 579.5,665.6 579.9,665.2 580.4,665.1 580.8,665.6" stroke="#ff9f00" stroke-width="2.3" />
<polyline points="580.4,673.6 580.9,673.0 581.3,671.8 581.8,671.2 582.2,670.7 582.7,670.6 583.1,670.6 583.6,671.1 584.0,671.3 584.5,671.0 584.9,670.3 585.4,670.2 585.8,670.0 586.3,670.4 586.7,670.4 587.2,670.5 587.6,670.4 588.1,670.5 588.5,670.5 589.0,670.4 589.4,670.4 589.9,670.4 590.3,670.4 590.8,670.4 591.2,670.2 591.7,670.5 592.1,670.6 592.6,670.9 593.0,670.9 593.5,670.7 593.9,670.4 594.4,670.2 594.8,670.3 595.3,670.3 595.7,670.7 596.2,670.7 596.6,670.8 597.1,670.4 597.5,670.4 598.0,670.3 598.4,670.5 598.9,670.1 599.3,669.9 599.8,669.7 600.2,670.0 600.7,670.2 601.1,670.3 601.6,670.4 602.0,670.6 602.5,670.6 602.9,670.8 603.4,670.9 603.8,671.0 604.3,670.5 604.7,670.2 605.2,670.1 605.6,670.4 606.1,670.3 606.5,669.8 607.0,670.0 607.4,670.4 607.9,670.5 608.3,670.5 608.8,670.7 609.2,670.5 609.7,670.3 610.1,670.1 610.6,670.2 611.0,670.3 611.5,670.2 611.9,669.9 612.4,669.9 612.8,670.0 613.3,670.1 613.7,670.2 614.2,670.3 614.6,670.6 615.1,670.8 615.5,670.3 616.0,670.0 616.4,669.4 616.9,670.1 617.3,670.3 617.8,670.2 618.2,670.3 618.7,670.4 619.1,670.3 619.6,670.2 620.0,670.0 620.5,670.5 620.9,670.5 621.4,670.5 621.8,670.4 622.3,670.3 622.7,670.0 623.2,669.7 623.6,670.1 624.1,670.6 624.5,670.5 625.0,670.0 625.4,670.2 625.9,670.8 626.3,670.7 626.8,670.3 627.2,670.0 627.7,672.9 628.1,671.3 628.6,670.2 629.0,670.6 629.5,670.3 629.9,670.1 630.4,670.2 630.8,670.3 631.3,670.2 631.7,670.1 632.2,670.3 632.6,670.7 633.1,670.9 633.5,670.6 634.0,670.4 634.4,670.4 634.9,670.3 635.3,670.4 635.8,670.3 636.2,670.4 636.7,670.0 637.1,670.0 637.6,670.1 638.0,670.3 638.5,670.1 638.9,669.5 639.4,669.4 639.8,669.6 640.3,669.9 640.7,669.9 641.2,669.9 641.6,669.9 642.1,670.1 642.5,670.2 643.0,670.2 643.4,669.9 643.9,669.9 644.3,670.1 644.8,670.1 645.2,670.2 645.7,670.2 646.1,670.0 646.6,670.0 647.0,669.9 647.5,670.3 647.9,670.3 648.4,670.4 648.8,670.4 649.3,670.4 649.7,670.5 650.2,670.3 650.6,670.5 651.1,670.5 651.5,671.3 652.0,670.9 652.4,670.7 652.9,670.4 653.3,670.1 653.8,669.8 654.2,669.7 654.7,670.2 655.1,670.3 655.6,669.8 656.0,670.1 656.5,670.2 656.9,670.3 657.4,670.4 657.8,671.0 658.3,670.4 658.7,670.1 659.2,670.0 659.6,670.2 660.1,670.4 660.5,670.1 661.0,669.8 661.4,669.9 661.9,670.6 662.3,670.8 662.8,670.4 663.2,669.3 663.7,669.8 664.1,670.4 664.6,670.9 665.0,670.7 665.5,670.4 665.9,670.0 666.4,669.8 666.8,669.7 667.3,669.9 667.7,669.7 668.2,669.9 668.6,670.3 669.1,670.3 669.5,670.4 670.0,670.8 670.4,671.0 670.9,670.6 671.3,670.0 671.8,670.1 672.2,670.2 672.7,670.8 673.1,670.5 673.6,670.4 674.0,670.2 674.5,669.8 674.9,669.8 675.4,670.0 675.8,670.2" stroke="#ff8000" stroke-width="2.1" />
<polyline points="672.0,670.4 672.5,670.7 672.9,670.4 673.4,669.9 673.8,669.8 674.3,669.6 674.7,669.8 675.2,670.2 675.6,672.2 676.1,670.0 676.5,670.2 677.0,670.2 677.4,669.9 677.9,669.4 678.3,669.4 678.8,669.7 679.2,669.7 679.7,669.7 680.1,669.7 680.6,670.1 681.0,669.5 681.5,669.7 681.9,670.0 682.4,669.7 682.8,669.8 683.3,670.3 683.7,671.7 684.2,670.5 684.6,670.1 685.1,669.9 685.5,669.9 686.0,670.1 686.4,670.4 686.9,670.1 687.3,669.9 687.8,669.7 688.2,670.3 688.7,670.1 689.1,670.1 689.6,669.8 690.0,670.0 690.5,646.6 690.9,662.0 691.4,669.1 691.8,669.4 692.3,669.6 692.7,670.2 693.2,670.1 693.6,670.2 694.1,670.1 694.5,670.5 695.0,671.1 695.4,671.5 695.9,670.3 696.3,669.1 696.8,669.4 697.2,670.1 697.7,670.6 698.1,670.6 698.6,670.6 699.0,670.8 699.5,667.2 699.9,667.9 700.4,670.7 700.8,670.3 701.3,669.9 701.7,669.5 702.2,669.9 702.6,670.2 703.1,670.6 703.5,670.6 704.0,670.7 704.4,670.1 704.9,669.7 705.3,670.2 705.8,670.7 706.2,671.3 706.7,670.2 707.1,669.9 707.6,670.1 708.0,669.8 708.5,669.2 708.9,668.4 709.4,669.8 709.8,670.4 710.3,670.5 710.7,670.8 711.2,671.1 711.6,670.7 712.1,670.3 712.5,670.1 713.0,670.1 713.4,670.2 713.9,670.4 714.3,670.6 714.8,669.9 715.2,669.5 715.7,669.2 716.1,668.8 716.6,669.9 717.0,670.0 717.5,670.1 717.9,669.9 718.4,669.3 718.8,669.2 719.3,669.6 719.7,669.8 720.2,669.4 720.6,669.8 721.1,669.4 721.5,669.2 722.0,669.1 722.4,669.7 722.9,670.0 723.3,670.3 723.8,670.3 724.2,670.2 724.7,670.3 725.1,669.7 725.6,669.3 726.0,668.7 726.5,669.7 726.9,670.3 727.4,670.8 727.8,670.7 728.3,670.0 728.7,669.6 729.2,669.9 729.6,669.8 730.1,670.4 730.5,670.3 731.0,669.9 731.4,669.1 731.9,669.5 732.3,669.8 732.8,669.8 733.2,669.9 733.7,670.4 734.1,670.4 734.6,670.3 735.0,670.0 735.5,670.3 735.9,669.3 736.4,668.5 736.8,668.4 737.3,668.8 737.7,670.1 738.2,670.5 738.6,669.7 739.1,669.0 739.5,669.0 740.0,669.2 740.4,669.2 740.9,669.8 741.3,670.2 741.8,670.3 742.2,670.5 742.7,670.7 743.1,670.3 743.6,670.2 744.0,664.6 744.5,664.2 744.9,666.1 745.4,670.5 745.8,670.3 746.3,670.3 746.7,670.2 747.2,670.1 747.6,670.0 748.1,669.8 748.5,670.2 749.0,670.5 749.4,670.7 749.9,670.5 750.3,669.9 750.8,669.8 751.2,669.7 751.7,669.9 752.1,669.9 752.6,670.5 753.0,670.0 753.5,669.2 753.9,668.7 754.4,669.3 754.8,669.7 755.3,669.7 755.7,669.8 756.2,669.9 756.6,669.9 757.1,670.2 757.5,670.3 758.0,669.8 758.4,669.5 758.9,669.5 759.3,669.7 759.8,669.6 760.2,670.1 760.7,669.6 761.1,669.7 761.6,668.7 762.0,669.4 762.5,669.2 762.9,669.3 763.4,669.5 763.8,669.8 764.3,670.2 764.7,670.5 765.2,670.5 765.6,670.0 766.1,669.7 766.5,669.7 767.0,670.0 767.4,670.4 767.9,670.5 768.3,670.1 768.8,669.6 769.2,669.5 769.7,669.7 770.1,670.2 770.6,671.0 771.0,670.9 771.5,670.3 771.9,669.7 772.4,669.5 772.8,669.5 773.3,670.4 773.7,670.6 774.2,670.9 774.6,670.7 775.1,670.4 775.5,669.5 776.0,669.5 776.4,670.1 776.9,670.6 777.3,670.2 777.8,669.8 778.2,669.9 778.7,670.2 779.1,670.2 779.6,670.3 780.0,670.6 780.5,670.9 780.9,670.3 781.4,670.2 781.8,669.4 782.3,669.6 782.7,670.1 783.2,670.5 783.6,669.6 784.1,669.4 784.5,669.6 785.0,670.0 785.4,670.1 785.9,670.5 786.3,669.8 786.8,669.5 787.2,669.5 787.7,670.4 788.1,670.7 788.6,670.7 789.0,670.6 789.5,670.9 789.9,671.3 790.4,671.0" stroke="#ff6200" stroke-width="2.2" />
<polyline points="768.8,670.1 769.2,670.9 769.7,670.6 770.2,670.5 770.6,670.2 771.1,670.0 771.5,670.0 772.0,670.3 772.4,670.6 772.9,670.4 773.3,670.2 773.8,669.8 774.2,670.1 774.7,670.1 775.1,670.2 775.6,670.1 776.0,669.8 776.5,669.5 776.9,669.7 777.4,670.1 777.8,670.5 778.3,670.8 778.7,671.0 779.2,670.4 779.6,669.8 780.1,670.0 780.5,670.2 781.0,670.0 781.4,669.7 781.9,669.8 782.3,669.8 782.8,669.8 783.2,669.8 783.7,669.4 784.1,669.3 784.6,669.4 785.0,669.6 785.5,669.6 785.9,669.5 786.4,669.9 786.8,670.5 787.3,670.7 787.7,664.1 788.2,663.9 788.6,667.7 789.1,670.7 789.5,670.4 790.0,669.8 790.4,669.6 790.9,669.5 791.3,669.8 791.8,670.1 792.2,670.0 792.7,669.9 793.1,670.6 793.6,671.0 794.0,671.0 794.5,670.7 794.9,670.4 795.4,670.0 795.8,670.2 796.3,670.2 796.7,670.0 797.2,669.3 797.6,669.8 798.1,669.9 798.5,670.5 799.0,670.6 799.4,670.7 799.9,669.8 800.3,669.4 800.8,669.4 801.2,670.0 801.7,670.6 802.1,670.8 802.6,670.4 803.0,669.9 803.5,670.0 803.9,670.4 804.4,670.5 804.8,670.1 805.3,669.8 805.7,669.8 806.2,670.0 806.6,670.0 807.1,669.9 807.5,670.2 808.0,670.3 808.4,670.3 808.9,669.9 809.3,669.4 809.8,669.4 810.2,668.9 810.7,669.9 811.1,670.3 811.6,670.1 812.0,669.8 812.5,670.0 812.9,670.7 813.4,670.6 813.8,670.6 814.3,670.2 814.7,669.9 815.2,669.5 815.6,669.6 816.1,669.6 816.5,669.6 817.0,669.9 817.4,670.1 817.9,670.3 818.3,670.2 818.8,670.0 819.2,670.0 819.7,670.0 820.1,669.9 820.6,669.4 821.0,669.2 821.5,670.0 821.9,670.3 822.4,670.1 822.8,669.9 823.3,670.3 823.7,670.6 824.2,671.5 824.6,670.8 825.1,670.2 825.5,669.8 826.0,669.5 826.4,669.7 826.9,669.9 827.3,670.0 827.8,670.4 828.2,670.3 828.7,670.3 829.1,670.0 829.6,669.7 830.0,668.6 830.5,668.7 830.9,669.5 831.4,669.1 831.8,669.4 832.3,669.5 832.7,669.7 833.2,669.3 833.6,669.4 834.1,670.1 834.5,670.2 835.0,670.0 835.4,669.8 835.9,669.9 836.3,669.9 836.8,669.4 837.2,669.3 837.7,669.5 838.1,670.1 838.6,670.2 839.0,670.2 839.5,670.0 839.9,669.4 840.4,669.6 840.8,670.0 841.3,670.4 841.7,670.4 842.2,670.0 842.6,670.0 843.1,669.8 843.5,669.7 844.0,669.5 844.4,669.8 844.9,670.5 845.3,670.6 845.8,669.9 846.2,669.4 846.7,669.3 847.1,669.8 847.6,670.3 848.0,670.2 848.5,670.2 848.9,670.2 849.4,670.2 849.8,669.6 850.3,669.5 850.7,669.1 851.2,669.8 851.6,670.0 852.1,669.9 852.5,669.6 853.0,669.4 853.4,669.4 853.9,669.6 854.3,669.7 854.8,670.0 855.2,670.0 855.7,669.6 856.1,669.6 856.6,669.8 857.0,670.3 857.5,670.5 857.9,670.5 858.4,670.3 858.8,670.3 859.3,670.5 859.7,670.4 860.2,670.0 860.6,669.3 861.1,668.5 861.5,667.9 862.0,667.6 862.4,667.5 862.9,667.1 863.3,666.6 863.8,666.4 864.2,665.5 864.7,664.8 865.1,664.4 865.6,665.4 866.0,666.3 866.5,667.3 866.9,668.9 867.4,671.3 867.8,673.8 868.3,671.9 868.7,670.9 869.2,669.5 869.6,668.5 870.1,668.4 870.5,668.4 871.0,668.5 871.4,668.4 871.9,668.2 872.3,667.9 872.8,668.2 873.2,668.3 873.7,668.3 874.1,668.1 874.6,668.3 875.0,668.5 875.5,668.7 875.9,668.9 876.4,668.7 876.8,668.5 877.3,667.7 877.7,667.4 878.2,667.2 878.6,667.6 879.1,667.7 879.5,668.0 880.0,667.8 880.4,667.1 880.9,667.2 881.3,667.3 881.8,671.0" stroke="#ff4300" stroke-width="2.2" />
<polyline points="417.0,669.8 417.4,669.5 417.9,668.9 418.3,667.7 418.8,669.0 419.2,668.9 419.7,668.8 420.1,669.7 420.6,669.6 421.0,669.2 421.5,668.8 421.9,668.9 422.4,668.8 422.8,668.7 423.3,669.2 423.7,670.3 424.2,670.8 424.6,670.4 425.1,669.9 425.5,670.3 426.0,670.2 426.4,669.8 426.9,669.1 427.3,669.3 427.8,669.8 428.2,669.7 428.7,669.8 429.1,670.0 429.6,670.0 430.0,669.5 430.5,669.2 430.9,669.4 431.4,669.5 431.8,669.3 432.3,669.1 432.7,669.2 433.2,669.3 433.6,669.1 434.1,668.7 434.5,668.9 435.0,669.3 435.4,669.5 435.9,669.3 436.3,669.4 436.8,670.0 437.2,670.4 437.7,670.4 438.1,669.7 438.6,669.3 439.0,669.1 439.5,669.2 439.9,669.4 440.4,669.4 440.8,669.1 441.3,668.9 441.7,669.0 442.2,669.4 442.6,668.8 443.1,669.3 443.5,669.7 444.0,670.2 444.4,669.9 444.9,669.5 445.3,669.7 445.8,669.8 446.2,669.6 446.7,669.1 447.1,669.4 447.6,669.9 448.0,669.6 448.5,669.4 448.9,669.4 449.4,670.0 449.8,669.6 450.3,669.5 450.7,669.8 451.2,670.1 451.6,669.5 452.1,668.7 452.5,668.5 453.0,668.5 453.4,669.3 453.9,669.6 454.3,669.7 454.8,669.1 455.2,669.5 455.7,669.8 456.1,669.3 456.6,668.8 457.0,668.5 457.5,668.4 457.9,669.2 458.4,670.0 458.8,670.5 459.3,670.6 459.7,670.6 460.2,669.8 460.6,669.1 461.1,669.0 461.5,669.0 462.0,668.9 462.4,668.3 462.9,669.1 463.3,670.0 463.8,670.1 464.2,669.4 464.7,669.6 465.1,669.8 465.6,669.6 466.0,669.5 466.5,670.2 466.9,670.5 467.4,670.2 467.8,669.7 468.3,669.5 468.7,670.1 469.2,670.3 469.6,670.1 470.1,670.1 470.5,670.0 471.0,670.1 471.4,669.9 471.9,670.0 472.3,669.4 472.8,669.4 473.2,669.6 473.7,670.0 474.1,669.7 474.6,669.8 475.0,669.6 475.5,669.4 475.9,669.4 476.4,669.1 476.8,669.1 477.3,669.7 477.7,670.5 478.2,670.2 478.6,669.4 479.1,668.7 479.5,668.7 480.0,668.8 480.4,669.0 480.9,668.4 481.3,668.4 481.8,668.9 482.2,670.2 482.7,669.9 483.1,669.4 483.6,669.0 484.0,669.8 484.5,669.5 484.9,668.9 485.4,668.3 485.8,668.4 486.3,668.8 486.7,669.3 487.2,668.9 487.6,669.1 488.1,669.3 488.5,669.9 489.0,669.6 489.4,670.0 489.9,669.6 490.3,669.6 490.8,669.2 491.2,669.2 491.7,669.7 492.1,669.9 492.6,669.7 493.0,669.8 493.5,670.3 493.9,670.5 494.4,670.1 494.8,670.2 495.3,670.2 495.7,669.9 496.2,669.7 496.6,669.9 497.1,669.6 497.5,669.7 498.0,669.1 498.4,669.2 498.9,668.9 499.3,668.7 499.8,668.4 500.2,669.1 500.7,670.6 501.1,670.1 501.6,668.1 502.0,668.2 502.5,668.6 502.9,668.9 503.4,669.0 503.8,669.3 504.3,669.5 504.7,669.3 505.2,669.3" stroke="#ff2500" stroke-width="2.5" />
<polyline points="707.0,670.2 707.5,669.6 707.9,669.4 708.4,669.7 708.8,669.9 709.3,670.2 709.7,670.3 710.2,670.1 710.6,669.2 711.1,669.4 711.5,669.9 712.0,670.4 712.4,670.8 712.9,670.5 713.3,670.2 713.8,669.6 714.2,669.7 714.7,669.4 715.1,669.5 715.6,669.4 716.0,669.5 716.5,669.5 716.9,669.8 717.4,669.6 717.8,669.6 718.3,669.6 718.7,669.5 719.2,669.6 719.6,669.6 720.1,669.7 720.5,669.4 721.0,669.2 721.4,669.5 721.9,669.4 722.3,669.3 722.8,668.8 723.2,669.5 723.7,669.8 724.1,669.8 724.6,669.6 725.0,669.8 725.5,669.9 725.9,669.9 726.4,669.8 726.8,669.5 727.3,669.0 727.7,665.8 728.2,665.5 728.6,665.8 729.1,668.9 729.5,669.4 730.0,669.6 730.4,669.6 730.9,670.0 731.3,669.6 731.8,669.3 732.2,668.2 732.7,668.3 733.1,668.4 733.6,669.9 734.0,670.2 734.5,669.6 734.9,668.6 735.4,669.2 735.8,669.4 736.3,669.9 736.7,669.8 737.2,669.7 737.6,669.1 738.1,669.2 738.5,668.8 739.0,668.5 739.4,668.3 739.9,668.8 740.3,669.1 740.8,669.3" stroke="#f00600" stroke-width="2.3" />
<polyline points="339.4,671.0 339.8,671.3 340.3,670.9 340.7,670.9 341.2,670.5 341.6,670.6 342.1,670.0 342.5,671.0 343.0,670.5 343.4,669.7 343.9,668.0 344.3,669.4 344.8,669.6 345.2,670.1 345.7,669.9 346.1,669.3 346.6,669.3 347.0,670.2 347.5,671.1 347.9,671.3 348.4,670.9 348.8,669.7 349.3,669.3 349.7,669.4 350.2,669.6 350.6,669.6 351.1,669.6 351.5,669.4 352.0,669.1 352.4,669.5 352.9,670.2 353.3,671.1 353.8,671.0 354.2,671.5 354.7,670.9 355.1,670.6 355.6,669.7 356.0,669.8 356.5,669.6 356.9,670.1 357.4,670.4 357.8,670.4 358.3,669.6 358.7,669.5 359.2,669.8 359.6,669.8 360.1,669.5 360.5,669.6 361.0,669.7 361.4,669.2 361.9,668.8 362.3,669.3 362.8,669.6 363.2,669.2 363.7,669.0 364.1,669.0 364.6,669.3 365.0,669.8 365.5,670.8 365.9,669.8 366.4,669.3 366.8,668.4 367.3,669.6 367.7,669.9 368.2,670.6 368.6,670.7 369.1,670.5 369.5,670.3 370.0,669.6 370.4,669.1 370.9,669.6 371.3,670.8 371.8,670.5 372.2,669.2 372.7,668.4 373.1,669.3 373.6,670.3 374.0,670.8 374.5,670.5 374.9,670.1 375.4,670.2 375.8,669.7 376.3,669.3 376.7,668.1 377.2,668.7 377.6,668.7 378.1,668.2 378.5,668.5 379.0,668.4 379.4,669.8 379.9,669.9 380.3,669.6 380.8,669.7 381.2,670.2 381.7,670.1 382.1,669.8 382.6,669.4 383.0,669.3 383.5,669.5 383.9,669.7 384.4,669.8 384.8,669.7 385.3,670.1 385.7,670.5 386.2,670.1 386.6,670.1 387.1,669.6 387.5,669.2 388.0,669.1 388.4,669.3 388.9,669.5 389.3,669.4 389.8,669.1 390.2,669.0 390.7,668.9 391.1,669.4 391.6,669.8 392.0,669.6 392.5,669.0 392.9,669.2 393.4,669.7 393.8,669.6 394.3,669.4 394.7,669.3 395.2,670.1 395.6,669.8 396.1,669.7 396.5,668.1 397.0,669.4 397.4,669.1 397.9,670.0 398.3,669.9 398.8,669.4 399.2,669.0 399.7,669.7 400.1,669.8 400.6,669.1 401.0,668.6 401.5,669.9 401.9,670.6 402.4,670.7 402.8,669.6 403.3,668.6 403.7,668.2 404.2,669.6 404.6,669.7 405.1,669.6 405.5,670.2 406.0,670.2 406.4,669.9 406.9,666.7 407.3,665.0 407.8,670.2 408.2,669.9 408.7,670.3 409.1,670.1 409.6,670.2 410.0,669.8 410.5,670.0 410.9,669.3 411.4,669.4 411.8,669.7 412.3,670.1 412.7,670.0 413.2,670.0 413.6,669.2 414.1,668.5 414.5,668.4 415.0,669.4 415.4,669.7 415.9,670.0 416.3,670.3 416.8,670.7 417.2,670.5 417.7,669.6 418.1,668.9 418.6,668.8 419.0,669.7 419.5,670.1 419.9,670.4 420.4,670.7 420.8,670.8 421.3,670.4 421.7,669.8 422.2,670.6 422.6,670.7 423.1,670.2 423.5,669.5 424.0,669.3 424.4,670.0 424.9,670.7 425.3,671.3 425.8,670.9 426.2,670.0 426.7,669.4 427.1,669.4 427.6,669.8 428.0,670.3 428.5,670.0 428.9,670.0 429.4,669.9 429.8,669.8 430.3,669.5 430.7,669.7 431.2,669.8 431.6,669.9 432.1,669.5 432.5,670.6 433.0,670.7 433.4,670.8 433.9,672.1 434.3,671.0 434.8,670.3 435.2,669.5 435.7,669.4 436.1,669.7 436.6,669.4 437.0,669.4 437.5,669.1 437.9,669.3 438.4,668.7 438.8,668.4 439.3,669.0 439.7,670.2 440.2,670.2 440.6,669.2 441.1,668.7 441.5,669.5 442.0,669.9 442.4,669.9 442.9,669.7" stroke="#ca0000" stroke-width="2.8" />
<polyline points="223.6,668.0 224.3,661.0 224.8,657.7 225.4,663.0 226.2,668.5" stroke="#a50000" stroke-width="2.3" />
<polyline points="238.6,667.0 239.8,664.5 241.0,666.5 242.0,668.5" stroke="#a50000" stroke-width="2.3" />
<polyline points="814.4,669.8 815.2,667.0 816.4,666.6 817.2,668.4 817.8,671.0" stroke="#a50000" stroke-width="2.4" />
<polyline points="99.0,666.8 99.5,666.8 99.9,666.5 100.4,666.2 100.8,664.4 101.3,658.4 101.7,658.7 102.2,664.2 102.6,663.7 103.1,663.9 103.5,664.6 104.0,664.8 104.4,664.5 104.9,664.5 105.3,664.6 105.8,664.8 106.2,664.8 106.7,664.7 107.1,665.0 107.6,665.3 108.0,665.9 108.5,666.1 108.9,665.8 109.4,666.0 109.8,666.2 110.3,666.5 110.7,666.5 111.2,666.7 111.6,666.5 112.1,665.8 112.5,666.3 113.0,666.9 113.4,667.0 113.9,667.1 114.3,667.4 114.8,667.7 115.2,667.5 115.7,667.1 116.1,667.2 116.6,667.2 117.0,667.4 117.5,667.6 117.9,668.3 118.4,668.1 118.8,667.9 119.3,667.8 119.7,668.2 120.2,668.1 120.6,667.3 121.1,667.3 121.5,667.5 122.0,667.6 122.4,667.7 122.9,668.2 123.3,668.1 123.8,667.8 124.2,667.6 124.7,668.1 125.1,668.2 125.6,668.2 126.0,668.1 126.5,668.2 126.9,668.3 127.4,668.8 127.8,668.4 128.3,667.7 128.7,666.7 129.2,667.1 129.6,667.7 130.1,668.4 130.5,668.2 131.0,667.1 131.4,666.6 131.9,665.8 132.3,665.2 132.8,664.4 133.2,664.1 133.7,664.1 134.1,664.6 134.6,664.5 135.0,665.5 135.5,667.1 135.9,667.5 136.4,667.3 136.8,667.5 137.3,667.7 137.7,668.2 138.2,668.7 138.6,668.9 139.1,668.6 139.5,668.6 140.0,668.3 140.4,668.0 140.9,667.4 141.3,668.1 141.8,669.0 142.2,670.0 142.7,669.1 143.1,668.7 143.6,668.2 144.0,667.9 144.5,668.0 144.9,668.5 145.4,668.5 145.8,669.0 146.3,668.8 146.7,668.6 147.2,668.5 147.6,668.9 148.1,668.9 148.5,668.6 149.0,668.4 149.4,668.6 149.9,668.7 150.3,668.9 150.8,669.0 151.2,668.6 151.7,668.6 152.1,668.4 152.6,668.1 153.0,668.1 153.5,668.4 153.9,668.4 154.4,668.0 154.8,667.9 155.3,667.8 155.7,667.9 156.2,668.3 156.6,668.8 157.1,669.1 157.5,669.1 158.0,668.8 158.4,668.4 158.9,668.8 159.3,669.2 159.8,669.2 160.2,669.4 160.7,669.1 161.1,668.8 161.6,668.2 162.0,668.4 162.5,668.4 162.9,668.7 163.4,668.8 163.8,668.9 164.3,668.7 164.7,668.6 165.2,668.4 165.6,668.4 166.1,668.3 166.5,668.3 167.0,668.3 167.4,668.8 167.9,669.1 168.3,668.8 168.8,668.3 169.2,668.2 169.7,667.9 170.1,668.6 170.6,668.3 171.0,668.0 171.5,667.2 171.9,667.1 172.4,667.0 172.8,667.5 173.3,667.6 173.7,667.7 174.2,668.3 174.6,669.2 175.1,669.3 175.5,669.1 176.0,668.5 176.4,668.1 176.9,667.3 177.3,667.4 177.8,668.0 178.2,667.9 178.7,668.4 179.1,668.5 179.6,668.7 180.0,668.7 180.5,668.9 180.9,668.6 181.4,668.2 181.8,668.5 182.3,669.0 182.7,669.5 183.2,669.3 183.6,669.0 184.1,668.5 184.5,668.7 185.0,668.7 185.4,668.3 185.9,668.4 186.3,668.7 186.8,669.2 187.2,668.8 187.7,668.2 188.1,668.2 188.6,668.7 189.0,669.1 189.5,669.0 189.9,669.0 190.4,668.6 190.8,667.4 191.3,666.2 191.7,665.6 192.2,665.4 192.6,665.5 193.1,664.9 193.5,664.5 194.0,664.0 194.4,663.2 194.9,662.9 195.3,662.9 195.8,662.8 196.2,662.5 196.7,662.1 197.1,662.2 197.6,662.8 198.0,663.0 198.5,663.2 198.9,663.6 199.4,664.0 199.8,664.9 200.3,664.9 200.7,664.5 201.2,663.8 201.6,664.1 202.1,664.2 202.5,663.7 203.0,663.3 203.4,664.1 203.9,665.5" stroke="#800000" stroke-width="2.8" />
<polyline points="614.2,670.8 614.7,671.0 615.1,669.9 615.6,668.9 616.0,668.9 616.5,669.8 616.9,670.4 617.4,670.1 617.8,669.8 618.3,669.4 618.7,668.7 619.2,669.2 619.6,670.6 620.1,670.8 620.5,670.8 621.0,670.2 621.4,670.4 621.9,670.7 622.3,671.9 622.8,671.0 623.2,670.3 623.7,669.5 624.1,669.4 624.6,670.1 625.0,670.1 625.5,669.5 625.9,669.9 626.4,670.2 626.8,669.9 627.3,669.6 627.7,669.8 628.2,669.9 628.6,670.6 629.1,669.9 629.5,669.2 630.0,668.1 630.4,668.7 630.9,669.3 631.3,670.1 631.8,670.2 632.2,670.2 632.7,670.3 633.1,669.9 633.6,669.6 634.0,669.4 634.5,669.9 634.9,670.1 635.4,670.2 635.8,669.7 636.3,669.7 636.7,669.9 637.2,671.9 637.6,670.8 638.1,670.8 638.5,670.7 639.0,671.3 639.4,670.1 639.9,670.2 640.3,669.6 640.8,668.6 641.2,669.0 641.7,669.4 642.1,669.3 642.6,669.1 643.0,669.8 643.5,669.5 643.9,669.1 644.4,669.8 644.8,670.2 645.3,669.6 645.7,669.3 646.2,669.5 646.6,669.0 647.1,669.1 647.5,669.4 648.0,670.5 648.4,670.4 648.9,670.8 649.3,671.0 649.8,671.0 650.2,670.3 650.7,669.2 651.1,669.9 651.6,670.0 652.0,670.0 652.5,668.8 652.9,668.6 653.4,669.2 653.8,670.1 654.3,670.1 654.7,669.6 655.2,669.0 655.6,669.2 656.1,669.8 656.5,670.6 657.0,670.0 657.4,670.3 657.9,670.5 658.3,671.5 658.8,670.2 659.2,669.3 659.7,668.6 660.1,669.3 660.6,670.0 661.0,670.8 661.5,670.0 661.9,668.4 662.4,668.3 662.8,667.9 663.3,666.9 663.7,669.4 664.2,670.1 664.6,670.4 665.1,670.1 665.5,670.4 666.0,670.0 666.4,670.5 666.9,670.7 667.3,669.4 667.8,668.8 668.2,669.2 668.7,670.8 669.1,670.9 669.6,671.0 670.0,670.9 670.5,669.6 670.9,668.8 671.4,668.6 671.8,669.1 672.3,669.8 672.7,669.5 673.2,669.2 673.6,669.6 674.1,667.2 674.5,667.4 675.0,671.2 675.4,670.5 675.9,669.9 676.3,669.7 676.8,669.6 677.2,670.0 677.7,670.2 678.1,670.1 678.6,670.1 679.0,670.4 679.5,671.0 679.9,670.4 680.4,670.1 680.8,669.1 681.3,670.0 681.7,670.1 682.2,670.4 682.6,669.9 683.1,669.2 683.5,669.4 684.0,669.7 684.4,671.0 684.9,670.5 685.3,670.7 685.8,670.1 686.2,669.9 686.7,670.0 687.1,669.6 687.6,669.3 688.0,669.5 688.5,669.8 688.9,669.6 689.4,670.2 689.8,670.5 690.3,670.2 690.7,669.9 691.2,668.8 691.6,668.1 692.1,668.3 692.5,669.7 693.0,671.1 693.4,670.9 693.9,670.5 694.3,669.7 694.8,670.2 695.2,670.6 695.7,671.0 696.1,670.4 696.6,670.5 697.0,669.6 697.5,669.1 697.9,669.2 698.4,669.5 698.8,669.1 699.3,668.7 699.7,668.9 700.2,669.2 700.6,669.5 701.1,670.0 701.5,670.2 702.0,670.1 702.4,670.4 702.9,670.7 703.3,670.4 703.8,669.4 704.2,668.8 704.7,668.8 705.1,669.3 705.6,669.6 706.0,670.1 706.5,670.2" stroke="#a50000" stroke-width="3.1" />
</g>
<g fill="none" stroke-width="1.1">
<line x1="98.5" y1="506.5" x2="207.0" y2="506.5" stroke="#800000"/>
<line x1="207.0" y1="506.5" x2="222.0" y2="506.5" stroke="#ffbd00"/>
<line x1="222.0" y1="506.5" x2="226.0" y2="506.5" stroke="#a50000"/>
<line x1="226.0" y1="506.5" x2="236.0" y2="506.5" stroke="#ffbd00"/>
<line x1="236.0" y1="506.5" x2="240.0" y2="506.5" stroke="#a50000"/>
<line x1="240.0" y1="506.5" x2="310.5" y2="506.5" stroke="#ffbd00"/>
<line x1="310.5" y1="506.5" x2="338.7" y2="506.5" stroke="#beff39"/>
<line x1="338.7" y1="506.5" x2="443.0" y2="506.5" stroke="#ca0000"/>
<line x1="443.0" y1="506.5" x2="505.6" y2="506.5" stroke="#ff2500"/>
<line x1="505.6" y1="506.5" x2="580.5" y2="506.5" stroke="#ff9f00"/>
<line x1="580.5" y1="506.5" x2="613.8" y2="506.5" stroke="#ff8000"/>
<line x1="613.8" y1="506.5" x2="707.0" y2="506.5" stroke="#a50000"/>
<line x1="707.0" y1="506.5" x2="740.0" y2="506.5" stroke="#f00600"/>
<line x1="740.0" y1="506.5" x2="790.0" y2="506.5" stroke="#ff6200"/>
<line x1="790.0" y1="506.5" x2="881.8" y2="506.5" stroke="#ff4300"/>
<line x1="881.8" y1="506.5" x2="896.0" y2="506.5" stroke="#ffdc00"/>
<line x1="896.0" y1="506.5" x2="907.6" y2="506.5" stroke="#00a9ff"/>
</g>
<g stroke="#000" fill="none">
<rect x="98.5" y="34.5" width="810.0" height="139.0" stroke-width="1.15"/>
<line x1="98.5" y1="173.5" x2="98.5" y2="168.3" stroke-width="1.4"/>
<line x1="132.5" y1="173.5" x2="132.5" y2="168.3" stroke-width="1.4"/>
<line x1="166.5" y1="173.5" x2="166.5" y2="168.3" stroke-width="1.4"/>
<line x1="199.5" y1="173.5" x2="199.5" y2="168.3" stroke-width="1.4"/>
<line x1="233.5" y1="173.5" x2="233.5" y2="168.3" stroke-width="1.4"/>
<line x1="267.5" y1="173.5" x2="267.5" y2="168.3" stroke-width="1.4"/>
<line x1="301.5" y1="173.5" x2="301.5" y2="168.3" stroke-width="1.4"/>
<line x1="334.5" y1="173.5" x2="334.5" y2="168.3" stroke-width="1.4"/>
<line x1="368.5" y1="173.5" x2="368.5" y2="168.3" stroke-width="1.4"/>
<line x1="402.5" y1="173.5" x2="402.5" y2="168.3" stroke-width="1.4"/>
<line x1="436.5" y1="173.5" x2="436.5" y2="168.3" stroke-width="1.4"/>
<line x1="469.5" y1="173.5" x2="469.5" y2="168.3" stroke-width="1.4"/>
<line x1="503.5" y1="173.5" x2="503.5" y2="168.3" stroke-width="1.4"/>
<line x1="537.5" y1="173.5" x2="537.5" y2="168.3" stroke-width="1.4"/>
<line x1="571.5" y1="173.5" x2="571.5" y2="168.3" stroke-width="1.4"/>
<line x1="604.5" y1="173.5" x2="604.5" y2="168.3" stroke-width="1.4"/>
<line x1="638.5" y1="173.5" x2="638.5" y2="168.3" stroke-width="1.4"/>
<line x1="672.5" y1="173.5" x2="672.5" y2="168.3" stroke-width="1.4"/>
<line x1="706.5" y1="173.5" x2="706.5" y2="168.3" stroke-width="1.4"/>
<line x1="739.5" y1="173.5" x2="739.5" y2="168.3" stroke-width="1.4"/>
<line x1="773.5" y1="173.5" x2="773.5" y2="168.3" stroke-width="1.4"/>
<line x1="807.5" y1="173.5" x2="807.5" y2="168.3" stroke-width="1.4"/>
<line x1="841.5" y1="173.5" x2="841.5" y2="168.3" stroke-width="1.4"/>
<line x1="874.5" y1="173.5" x2="874.5" y2="168.3" stroke-width="1.4"/>
<line x1="908.5" y1="173.5" x2="908.5" y2="168.3" stroke-width="1.4"/>
<line x1="98.5" y1="56.5" x2="103.7" y2="56.5" stroke-width="1.4"/>
<line x1="98.5" y1="110.5" x2="103.7" y2="110.5" stroke-width="1.4"/>
<line x1="98.5" y1="164.5" x2="103.7" y2="164.5" stroke-width="1.4"/>
<rect x="98.5" y="201.5" width="810.0" height="139.0" stroke-width="1.15"/>
<line x1="98.5" y1="340.5" x2="98.5" y2="335.3" stroke-width="1.4"/>
<line x1="132.5" y1="340.5" x2="132.5" y2="335.3" stroke-width="1.4"/>
<line x1="166.5" y1="340.5" x2="166.5" y2="335.3" stroke-width="1.4"/>
<line x1="199.5" y1="340.5" x2="199.5" y2="335.3" stroke-width="1.4"/>
<line x1="233.5" y1="340.5" x2="233.5" y2="335.3" stroke-width="1.4"/>
<line x1="267.5" y1="340.5" x2="267.5" y2="335.3" stroke-width="1.4"/>
<line x1="301.5" y1="340.5" x2="301.5" y2="335.3" stroke-width="1.4"/>
<line x1="334.5" y1="340.5" x2="334.5" y2="335.3" stroke-width="1.4"/>
<line x1="368.5" y1="340.5" x2="368.5" y2="335.3" stroke-width="1.4"/>
<line x1="402.5" y1="340.5" x2="402.5" y2="335.3" stroke-width="1.4"/>
<line x1="436.5" y1="340.5" x2="436.5" y2="335.3" stroke-width="1.4"/>
<line x1="469.5" y1="340.5" x2="469.5" y2="335.3" stroke-width="1.4"/>
<line x1="503.5" y1="340.5" x2="503.5" y2="335.3" stroke-width="1.4"/>
<line x1="537.5" y1="340.5" x2="537.5" y2="335.3" stroke-width="1.4"/>
<line x1="571.5" y1="340.5" x2="571.5" y2="335.3" stroke-width="1.4"/>
<line x1="604.5" y1="340.5" x2="604.5" y2="335.3" stroke-width="1.4"/>
<line x1="638.5" y1="340.5" x2="638.5" y2="335.3" stroke-width="1.4"/>
<line x1="672.5" y1="340.5" x2="672.5" y2="335.3" stroke-width="1.4"/>
<line x1="706.5" y1="340.5" x2="706.5" y2="335.3" stroke-width="1.4"/>
<line x1="739.5" y1="340.5" x2="739.5" y2="335.3" stroke-width="1.4"/>
<line x1="773.5" y1="340.5" x2="773.5" y2="335.3" stroke-width="1.4"/>
<line x1="807.5" y1="340.5" x2="807.5" y2="335.3" stroke-width="1.4"/>
<line x1="841.5" y1="340.5" x2="841.5" y2="335.3" stroke-width="1.4"/>
<line x1="874.5" y1="340.5" x2="874.5" y2="335.3" stroke-width="1.4"/>
<line x1="908.5" y1="340.5" x2="908.5" y2="335.3" stroke-width="1.4"/>
<line x1="98.5" y1="227.5" x2="103.7" y2="227.5" stroke-width="1.4"/>
<line x1="98.5" y1="270.5" x2="103.7" y2="270.5" stroke-width="1.4"/>
<line x1="98.5" y1="314.5" x2="103.7" y2="314.5" stroke-width="1.4"/>
<rect x="98.5" y="368.5" width="810.0" height="139.0" stroke-width="1.15"/>
<line x1="98.5" y1="507.5" x2="98.5" y2="502.3" stroke-width="1.4"/>
<line x1="132.5" y1="507.5" x2="132.5" y2="502.3" stroke-width="1.4"/>
<line x1="166.5" y1="507.5" x2="166.5" y2="502.3" stroke-width="1.4"/>
<line x1="199.5" y1="507.5" x2="199.5" y2="502.3" stroke-width="1.4"/>
<line x1="233.5" y1="507.5" x2="233.5" y2="502.3" stroke-width="1.4"/>
<line x1="267.5" y1="507.5" x2="267.5" y2="502.3" stroke-width="1.4"/>
<line x1="301.5" y1="507.5" x2="301.5" y2="502.3" stroke-width="1.4"/>
<line x1="334.5" y1="507.5" x2="334.5" y2="502.3" stroke-width="1.4"/>
<line x1="368.5" y1="507.5" x2="368.5" y2="502.3" stroke-width="1.4"/>
<line x1="402.5" y1="507.5" x2="402.5" y2="502.3" stroke-width="1.4"/>
<line x1="436.5" y1="507.5" x2="436.5" y2="502.3" stroke-width="1.4"/>
<line x1="469.5" y1="507.5" x2="469.5" y2="502.3" stroke-width="1.4"/>
<line x1="503.5" y1="507.5" x2="503.5" y2="502.3" stroke-width="1.4"/>
<line x1="537.5" y1="507.5" x2="537.5" y2="502.3" stroke-width="1.4"/>
<line x1="571.5" y1="507.5" x2="571.5" y2="502.3" stroke-width="1.4"/>
<line x1="604.5" y1="507.5" x2="604.5" y2="502.3" stroke-width="1.4"/>
<line x1="638.5" y1="507.5" x2="638.5" y2="502.3" stroke-width="1.4"/>
<line x1="672.5" y1="507.5" x2="672.5" y2="502.3" stroke-width="1.4"/>
<line x1="706.5" y1="507.5" x2="706.5" y2="502.3" stroke-width="1.4"/>
<line x1="739.5" y1="507.5" x2="739.5" y2="502.3" stroke-width="1.4"/>
<line x1="773.5" y1="507.5" x2="773.5" y2="502.3" stroke-width="1.4"/>
<line x1="807.5" y1="507.5" x2="807.5" y2="502.3" stroke-width="1.4"/>
<line x1="841.5" y1="507.5" x2="841.5" y2="502.3" stroke-width="1.4"/>
<line x1="874.5" y1="507.5" x2="874.5" y2="502.3" stroke-width="1.4"/>
<line x1="908.5" y1="507.5" x2="908.5" y2="502.3" stroke-width="1.4"/>
<line x1="98.5" y1="507.5" x2="103.7" y2="507.5" stroke-width="1.4"/>
<line x1="98.5" y1="493.5" x2="103.7" y2="493.5" stroke-width="1.4"/>
<line x1="98.5" y1="479.5" x2="103.7" y2="479.5" stroke-width="1.4"/>
<line x1="98.5" y1="465.5" x2="103.7" y2="465.5" stroke-width="1.4"/>
<line x1="98.5" y1="452.5" x2="103.7" y2="452.5" stroke-width="1.4"/>
<line x1="98.5" y1="438.5" x2="103.7" y2="438.5" stroke-width="1.4"/>
<line x1="98.5" y1="424.5" x2="103.7" y2="424.5" stroke-width="1.4"/>
<line x1="98.5" y1="410.5" x2="103.7" y2="410.5" stroke-width="1.4"/>
<line x1="98.5" y1="396.5" x2="103.7" y2="396.5" stroke-width="1.4"/>
<line x1="98.5" y1="382.5" x2="103.7" y2="382.5" stroke-width="1.4"/>
<rect x="98.5" y="535.5" width="810.0" height="139.0" stroke-width="1.15"/>
<line x1="98.5" y1="674.5" x2="98.5" y2="669.3" stroke-width="1.4"/>
<line x1="132.5" y1="674.5" x2="132.5" y2="669.3" stroke-width="1.4"/>
<line x1="166.5" y1="674.5" x2="166.5" y2="669.3" stroke-width="1.4"/>
<line x1="199.5" y1="674.5" x2="199.5" y2="669.3" stroke-width="1.4"/>
<line x1="233.5" y1="674.5" x2="233.5" y2="669.3" stroke-width="1.4"/>
<line x1="267.5" y1="674.5" x2="267.5" y2="669.3" stroke-width="1.4"/>
<line x1="301.5" y1="674.5" x2="301.5" y2="669.3" stroke-width="1.4"/>
<line x1="334.5" y1="674.5" x2="334.5" y2="669.3" stroke-width="1.4"/>
<line x1="368.5" y1="674.5" x2="368.5" y2="669.3" stroke-width="1.4"/>
<line x1="402.5" y1="674.5" x2="402.5" y2="669.3" stroke-width="1.4"/>
<line x1="436.5" y1="674.5" x2="436.5" y2="669.3" stroke-width="1.4"/>
<line x1="469.5" y1="674.5" x2="469.5" y2="669.3" stroke-width="1.4"/>
<line x1="503.5" y1="674.5" x2="503.5" y2="669.3" stroke-width="1.4"/>
<line x1="537.5" y1="674.5" x2="537.5" y2="669.3" stroke-width="1.4"/>
<line x1="571.5" y1="674.5" x2="571.5" y2="669.3" stroke-width="1.4"/>
<line x1="604.5" y1="674.5" x2="604.5" y2="669.3" stroke-width="1.4"/>
<line x1="638.5" y1="674.5" x2="638.5" y2="669.3" stroke-width="1.4"/>
<line x1="672.5" y1="674.5" x2="672.5" y2="669.3" stroke-width="1.4"/>
<line x1="706.5" y1="674.5" x2="706.5" y2="669.3" stroke-width="1.4"/>
<line x1="739.5" y1="674.5" x2="739.5" y2="669.3" stroke-width="1.4"/>
<line x1="773.5" y1="674.5" x2="773.5" y2="669.3" stroke-width="1.4"/>
<line x1="807.5" y1="674.5" x2="807.5" y2="669.3" stroke-width="1.4"/>
<line x1="841.5" y1="674.5" x2="841.5" y2="669.3" stroke-width="1.4"/>
<line x1="874.5" y1="674.5" x2="874.5" y2="669.3" stroke-width="1.4"/>
<line x1="908.5" y1="674.5" x2="908.5" y2="669.3" stroke-width="1.4"/>
<line x1="98.5" y1="674.5" x2="103.7" y2="674.5" stroke-width="1.4"/>
<line x1="98.5" y1="660.5" x2="103.7" y2="660.5" stroke-width="1.4"/>
<line x1="98.5" y1="646.5" x2="103.7" y2="646.5" stroke-width="1.4"/>
<line x1="98.5" y1="632.5" x2="103.7" y2="632.5" stroke-width="1.4"/>
<line x1="98.5" y1="619.5" x2="103.7" y2="619.5" stroke-width="1.4"/>
<line x1="98.5" y1="605.5" x2="103.7" y2="605.5" stroke-width="1.4"/>
<line x1="98.5" y1="591.5" x2="103.7" y2="591.5" stroke-width="1.4"/>
<line x1="98.5" y1="577.5" x2="103.7" y2="577.5" stroke-width="1.4"/>
<line x1="98.5" y1="563.5" x2="103.7" y2="563.5" stroke-width="1.4"/>
<line x1="98.5" y1="549.5" x2="103.7" y2="549.5" stroke-width="1.4"/>
</g>
<g font-family="'DejaVu Sans','Liberation Sans',sans-serif" font-weight="bold" fill="#000" opacity="0.999">
<text transform="translate(98.4,194.2) scale(1,0.972)" font-size="22.3" text-anchor="middle" letter-spacing="-0.3">0</text>
<text transform="translate(132.2,194.2) scale(1,0.972)" font-size="22.3" text-anchor="middle" letter-spacing="-0.3">1</text>
<text transform="translate(165.9,194.2) scale(1,0.972)" font-size="22.3" text-anchor="middle" letter-spacing="-0.3">2</text>
<text transform="translate(199.7,194.2) scale(1,0.972)" font-size="22.3" text-anchor="middle" letter-spacing="-0.3">3</text>
<text transform="translate(233.4,194.2) scale(1,0.972)" font-size="22.3" text-anchor="middle" letter-spacing="-0.3">4</text>
<text transform="translate(267.1,194.2) scale(1,0.972)" font-size="22.3" text-anchor="middle" letter-spacing="-0.3">5</text>
<text transform="translate(300.9,194.2) scale(1,0.972)" font-size="22.3" text-anchor="middle" letter-spacing="-0.3">6</text>
<text transform="translate(334.6,194.2) scale(1,0.972)" font-size="22.3" text-anchor="middle" letter-spacing="-0.3">7</text>
<text transform="translate(368.4,194.2) scale(1,0.972)" font-size="22.3" text-anchor="middle" letter-spacing="-0.3">8</text>
<text transform="translate(402.1,194.2) scale(1,0.972)" font-size="22.3" text-anchor="middle" letter-spacing="-0.3">9</text>
<text transform="translate(435.8,194.2) scale(1,0.972)" font-size="22.3" text-anchor="middle" letter-spacing="-0.3">10</text>
<text transform="translate(469.6,194.2) scale(1,0.972)" font-size="22.3" text-anchor="middle" letter-spacing="-0.3">11</text>
<text transform="translate(503.3,194.2) scale(1,0.972)" font-size="22.3" text-anchor="middle" letter-spacing="-0.3">12</text>
<text transform="translate(537.0,194.2) scale(1,0.972)" font-size="22.3" text-anchor="middle" letter-spacing="-0.3">13</text>
<text transform="translate(570.8,194.2) scale(1,0.972)" font-size="22.3" text-anchor="middle" letter-spacing="-0.3">14</text>
<text transform="translate(604.5,194.2) scale(1,0.972)" font-size="22.3" text-anchor="middle" letter-spacing="-0.3">15</text>
<text transform="translate(638.3,194.2) scale(1,0.972)" font-size="22.3" text-anchor="middle" letter-spacing="-0.3">16</text>
<text transform="translate(672.0,194.2) scale(1,0.972)" font-size="22.3" text-anchor="middle" letter-spacing="-0.3">17</text>
<text transform="translate(705.8,194.2) scale(1,0.972)" font-size="22.3" text-anchor="middle" letter-spacing="-0.3">18</text>
<text transform="translate(739.5,194.2) scale(1,0.972)" font-size="22.3" text-anchor="middle" letter-spacing="-0.3">19</text>
<text transform="translate(773.3,194.2) scale(1,0.972)" font-size="22.3" text-anchor="middle" letter-spacing="-0.3">20</text>
<text transform="translate(807.0,194.2) scale(1,0.972)" font-size="22.3" text-anchor="middle" letter-spacing="-0.3">21</text>
<text transform="translate(840.8,194.2) scale(1,0.972)" font-size="22.3" text-anchor="middle" letter-spacing="-0.3">22</text>
<text transform="translate(874.5,194.2) scale(1,0.972)" font-size="22.3" text-anchor="middle" letter-spacing="-0.3">23</text>
<text transform="translate(908.3,194.2) scale(1,0.972)" font-size="22.3" text-anchor="middle" letter-spacing="-0.3">24</text>
<text transform="translate(98.4,361.2) scale(1,0.972)" font-size="22.3" text-anchor="middle" letter-spacing="-0.3">0</text>
<text transform="translate(132.2,361.2) scale(1,0.972)" font-size="22.3" text-anchor="middle" letter-spacing="-0.3">1</text>
<text transform="translate(165.9,361.2) scale(1,0.972)" font-size="22.3" text-anchor="middle" letter-spacing="-0.3">2</text>
<text transform="translate(199.7,361.2) scale(1,0.972)" font-size="22.3" text-anchor="middle" letter-spacing="-0.3">3</text>
<text transform="translate(233.4,361.2) scale(1,0.972)" font-size="22.3" text-anchor="middle" letter-spacing="-0.3">4</text>
<text transform="translate(267.1,361.2) scale(1,0.972)" font-size="22.3" text-anchor="middle" letter-spacing="-0.3">5</text>
<text transform="translate(300.9,361.2) scale(1,0.972)" font-size="22.3" text-anchor="middle" letter-spacing="-0.3">6</text>
<text transform="translate(334.6,361.2) scale(1,0.972)" font-size="22.3" text-anchor="middle" letter-spacing="-0.3">7</text>
<text transform="translate(368.4,361.2) scale(1,0.972)" font-size="22.3" text-anchor="middle" letter-spacing="-0.3">8</text>
<text transform="translate(402.1,361.2) scale(1,0.972)" font-size="22.3" text-anchor="middle" letter-spacing="-0.3">9</text>
<text transform="translate(435.8,361.2) scale(1,0.972)" font-size="22.3" text-anchor="middle" letter-spacing="-0.3">10</text>
<text transform="translate(469.6,361.2) scale(1,0.972)" font-size="22.3" text-anchor="middle" letter-spacing="-0.3">11</text>
<text transform="translate(503.3,361.2) scale(1,0.972)" font-size="22.3" text-anchor="middle" letter-spacing="-0.3">12</text>
<text transform="translate(537.0,361.2) scale(1,0.972)" font-size="22.3" text-anchor="middle" letter-spacing="-0.3">13</text>
<text transform="translate(570.8,361.2) scale(1,0.972)" font-size="22.3" text-anchor="middle" letter-spacing="-0.3">14</text>
<text transform="translate(604.5,361.2) scale(1,0.972)" font-size="22.3" text-anchor="middle" letter-spacing="-0.3">15</text>
<text transform="translate(638.3,361.2) scale(1,0.972)" font-size="22.3" text-anchor="middle" letter-spacing="-0.3">16</text>
<text transform="translate(672.0,361.2) scale(1,0.972)" font-size="22.3" text-anchor="middle" letter-spacing="-0.3">17</text>
<text transform="translate(705.8,361.2) scale(1,0.972)" font-size="22.3" text-anchor="middle" letter-spacing="-0.3">18</text>
<text transform="translate(739.5,361.2) scale(1,0.972)" font-size="22.3" text-anchor="middle" letter-spacing="-0.3">19</text>
<text transform="translate(773.3,361.2) scale(1,0.972)" font-size="22.3" text-anchor="middle" letter-spacing="-0.3">20</text>
<text transform="translate(807.0,361.2) scale(1,0.972)" font-size="22.3" text-anchor="middle" letter-spacing="-0.3">21</text>
<text transform="translate(840.8,361.2) scale(1,0.972)" font-size="22.3" text-anchor="middle" letter-spacing="-0.3">22</text>
<text transform="translate(874.5,361.2) scale(1,0.972)" font-size="22.3" text-anchor="middle" letter-spacing="-0.3">23</text>
<text transform="translate(908.3,361.2) scale(1,0.972)" font-size="22.3" text-anchor="middle" letter-spacing="-0.3">24</text>
<text transform="translate(98.4,528.2) scale(1,0.972)" font-size="22.3" text-anchor="middle" letter-spacing="-0.3">0</text>
<text transform="translate(132.2,528.2) scale(1,0.972)" font-size="22.3" text-anchor="middle" letter-spacing="-0.3">1</text>
<text transform="translate(165.9,528.2) scale(1,0.972)" font-size="22.3" text-anchor="middle" letter-spacing="-0.3">2</text>
<text transform="translate(199.7,528.2) scale(1,0.972)" font-size="22.3" text-anchor="middle" letter-spacing="-0.3">3</text>
<text transform="translate(233.4,528.2) scale(1,0.972)" font-size="22.3" text-anchor="middle" letter-spacing="-0.3">4</text>
<text transform="translate(267.1,528.2) scale(1,0.972)" font-size="22.3" text-anchor="middle" letter-spacing="-0.3">5</text>
<text transform="translate(300.9,528.2) scale(1,0.972)" font-size="22.3" text-anchor="middle" letter-spacing="-0.3">6</text>
<text transform="translate(334.6,528.2) scale(1,0.972)" font-size="22.3" text-anchor="middle" letter-spacing="-0.3">7</text>
<text transform="translate(368.4,528.2) scale(1,0.972)" font-size="22.3" text-anchor="middle" letter-spacing="-0.3">8</text>
<text transform="translate(402.1,528.2) scale(1,0.972)" font-size="22.3" text-anchor="middle" letter-spacing="-0.3">9</text>
<text transform="translate(435.8,528.2) scale(1,0.972)" font-size="22.3" text-anchor="middle" letter-spacing="-0.3">10</text>
<text transform="translate(469.6,528.2) scale(1,0.972)" font-size="22.3" text-anchor="middle" letter-spacing="-0.3">11</text>
<text transform="translate(503.3,528.2) scale(1,0.972)" font-size="22.3" text-anchor="middle" letter-spacing="-0.3">12</text>
<text transform="translate(537.0,528.2) scale(1,0.972)" font-size="22.3" text-anchor="middle" letter-spacing="-0.3">13</text>
<text transform="translate(570.8,528.2) scale(1,0.972)" font-size="22.3" text-anchor="middle" letter-spacing="-0.3">14</text>
<text transform="translate(604.5,528.2) scale(1,0.972)" font-size="22.3" text-anchor="middle" letter-spacing="-0.3">15</text>
<text transform="translate(638.3,528.2) scale(1,0.972)" font-size="22.3" text-anchor="middle" letter-spacing="-0.3">16</text>
<text transform="translate(672.0,528.2) scale(1,0.972)" font-size="22.3" text-anchor="middle" letter-spacing="-0.3">17</text>
<text transform="translate(705.8,528.2) scale(1,0.972)" font-size="22.3" text-anchor="middle" letter-spacing="-0.3">18</text>
<text transform="translate(739.5,528.2) scale(1,0.972)" font-size="22.3" text-anchor="middle" letter-spacing="-0.3">19</text>
<text transform="translate(773.3,528.2) scale(1,0.972)" font-size="22.3" text-anchor="middle" letter-spacing="-0.3">20</text>
<text transform="translate(807.0,528.2) scale(1,0.972)" font-size="22.3" text-anchor="middle" letter-spacing="-0.3">21</text>
<text transform="translate(840.8,528.2) scale(1,0.972)" font-size="22.3" text-anchor="middle" letter-spacing="-0.3">22</text>
<text transform="translate(874.5,528.2) scale(1,0.972)" font-size="22.3" text-anchor="middle" letter-spacing="-0.3">23</text>
<text transform="translate(908.3,528.2) scale(1,0.972)" font-size="22.3" text-anchor="middle" letter-spacing="-0.3">24</text>
<text transform="translate(98.4,695.2) scale(1,0.972)" font-size="22.3" text-anchor="middle" letter-spacing="-0.3">0</text>
<text transform="translate(132.2,695.2) scale(1,0.972)" font-size="22.3" text-anchor="middle" letter-spacing="-0.3">1</text>
<text transform="translate(165.9,695.2) scale(1,0.972)" font-size="22.3" text-anchor="middle" letter-spacing="-0.3">2</text>
<text transform="translate(199.7,695.2) scale(1,0.972)" font-size="22.3" text-anchor="middle" letter-spacing="-0.3">3</text>
<text transform="translate(233.4,695.2) scale(1,0.972)" font-size="22.3" text-anchor="middle" letter-spacing="-0.3">4</text>
<text transform="translate(267.1,695.2) scale(1,0.972)" font-size="22.3" text-anchor="middle" letter-spacing="-0.3">5</text>
<text transform="translate(300.9,695.2) scale(1,0.972)" font-size="22.3" text-anchor="middle" letter-spacing="-0.3">6</text>
<text transform="translate(334.6,695.2) scale(1,0.972)" font-size="22.3" text-anchor="middle" letter-spacing="-0.3">7</text>
<text transform="translate(368.4,695.2) scale(1,0.972)" font-size="22.3" text-anchor="middle" letter-spacing="-0.3">8</text>
<text transform="translate(402.1,695.2) scale(1,0.972)" font-size="22.3" text-anchor="middle" letter-spacing="-0.3">9</text>
<text transform="translate(435.8,695.2) scale(1,0.972)" font-size="22.3" text-anchor="middle" letter-spacing="-0.3">10</text>
<text transform="translate(469.6,695.2) scale(1,0.972)" font-size="22.3" text-anchor="middle" letter-spacing="-0.3">11</text>
<text transform="translate(503.3,695.2) scale(1,0.972)" font-size="22.3" text-anchor="middle" letter-spacing="-0.3">12</text>
<text transform="translate(537.0,695.2) scale(1,0.972)" font-size="22.3" text-anchor="middle" letter-spacing="-0.3">13</text>
<text transform="translate(570.8,695.2) scale(1,0.972)" font-size="22.3" text-anchor="middle" letter-spacing="-0.3">14</text>
<text transform="translate(604.5,695.2) scale(1,0.972)" font-size="22.3" text-anchor="middle" letter-spacing="-0.3">15</text>
<text transform="translate(638.3,695.2) scale(1,0.972)" font-size="22.3" text-anchor="middle" letter-spacing="-0.3">16</text>
<text transform="translate(672.0,695.2) scale(1,0.972)" font-size="22.3" text-anchor="middle" letter-spacing="-0.3">17</text>
<text transform="translate(705.8,695.2) scale(1,0.972)" font-size="22.3" text-anchor="middle" letter-spacing="-0.3">18</text>
<text transform="translate(739.5,695.2) scale(1,0.972)" font-size="22.3" text-anchor="middle" letter-spacing="-0.3">19</text>
<text transform="translate(773.3,695.2) scale(1,0.972)" font-size="22.3" text-anchor="middle" letter-spacing="-0.3">20</text>
<text transform="translate(807.0,695.2) scale(1,0.972)" font-size="22.3" text-anchor="middle" letter-spacing="-0.3">21</text>
<text transform="translate(840.8,695.2) scale(1,0.972)" font-size="22.3" text-anchor="middle" letter-spacing="-0.3">22</text>
<text transform="translate(874.5,695.2) scale(1,0.972)" font-size="22.3" text-anchor="middle" letter-spacing="-0.3">23</text>
<text transform="translate(908.3,695.2) scale(1,0.972)" font-size="22.3" text-anchor="middle" letter-spacing="-0.3">24</text>
<text transform="translate(92.3,64.0) scale(1,0.972)" font-size="22.3" text-anchor="end" letter-spacing="-0.3">100</text>
<text transform="translate(92.3,118.0) scale(1,0.972)" font-size="22.3" text-anchor="end" letter-spacing="-0.3">50</text>
<text transform="translate(92.3,172.0) scale(1,0.972)" font-size="22.3" text-anchor="end" letter-spacing="-0.3">0</text>
<text transform="translate(92.3,235.0) scale(1,0.972)" font-size="22.3" text-anchor="end" letter-spacing="-0.3">2.5</text>
<text transform="translate(92.3,278.0) scale(1,0.972)" font-size="22.3" text-anchor="end" letter-spacing="-0.3">0.0</text>
<text transform="translate(92.3,322.0) scale(1,0.972)" font-size="22.3" text-anchor="end" letter-spacing="-0.3">−2.5</text>
<text transform="translate(92.3,515.0) scale(1,0.972)" font-size="22.3" text-anchor="end" letter-spacing="-0.3">0.0</text>
<text transform="translate(92.3,501.1) scale(1,0.972)" font-size="22.3" text-anchor="end" letter-spacing="-0.3">0.1</text>
<text transform="translate(92.3,487.3) scale(1,0.972)" font-size="22.3" text-anchor="end" letter-spacing="-0.3">0.2</text>
<text transform="translate(92.3,473.4) scale(1,0.972)" font-size="22.3" text-anchor="end" letter-spacing="-0.3">0.3</text>
<text transform="translate(92.3,459.5) scale(1,0.972)" font-size="22.3" text-anchor="end" letter-spacing="-0.3">0.4</text>
<text transform="translate(92.3,445.6) scale(1,0.972)" font-size="22.3" text-anchor="end" letter-spacing="-0.3">0.5</text>
<text transform="translate(92.3,431.8) scale(1,0.972)" font-size="22.3" text-anchor="end" letter-spacing="-0.3">0.6</text>
<text transform="translate(92.3,417.9) scale(1,0.972)" font-size="22.3" text-anchor="end" letter-spacing="-0.3">0.7</text>
<text transform="translate(92.3,404.0) scale(1,0.972)" font-size="22.3" text-anchor="end" letter-spacing="-0.3">0.8</text>
<text transform="translate(92.3,390.2) scale(1,0.972)" font-size="22.3" text-anchor="end" letter-spacing="-0.3">0.9</text>
<text transform="translate(92.3,682.0) scale(1,0.972)" font-size="22.3" text-anchor="end" letter-spacing="-0.3">0.0</text>
<text transform="translate(92.3,668.1) scale(1,0.972)" font-size="22.3" text-anchor="end" letter-spacing="-0.3">0.1</text>
<text transform="translate(92.3,654.3) scale(1,0.972)" font-size="22.3" text-anchor="end" letter-spacing="-0.3">0.2</text>
<text transform="translate(92.3,640.4) scale(1,0.972)" font-size="22.3" text-anchor="end" letter-spacing="-0.3">0.3</text>
<text transform="translate(92.3,626.5) scale(1,0.972)" font-size="22.3" text-anchor="end" letter-spacing="-0.3">0.4</text>
<text transform="translate(92.3,612.6) scale(1,0.972)" font-size="22.3" text-anchor="end" letter-spacing="-0.3">0.5</text>
<text transform="translate(92.3,598.8) scale(1,0.972)" font-size="22.3" text-anchor="end" letter-spacing="-0.3">0.6</text>
<text transform="translate(92.3,584.9) scale(1,0.972)" font-size="22.3" text-anchor="end" letter-spacing="-0.3">0.7</text>
<text transform="translate(92.3,571.0) scale(1,0.972)" font-size="22.3" text-anchor="end" letter-spacing="-0.3">0.8</text>
<text transform="translate(92.3,557.2) scale(1,0.972)" font-size="22.3" text-anchor="end" letter-spacing="-0.3">0.9</text>
<text transform="translate(503.3,25.9) scale(1,0.972)" font-size="22.3" text-anchor="middle">20150503 Site=1011 JAN2</text>
<text transform="translate(36.2,104.8) rotate(-90) scale(1,0.972)" font-size="22.3" text-anchor="middle">TEC</text>
<text transform="translate(27.1,273.2) rotate(-90) scale(1,0.972)" font-size="22.3" text-anchor="middle">ROT</text>
<text transform="translate(44.2,440.0) rotate(-90) scale(1,0.972)" font-size="22.3" text-anchor="middle">S4_L1</text>
<text transform="translate(38.1,605.8) rotate(-90) scale(1,0.972)" font-size="22.3" text-anchor="middle"><tspan font-style="italic">σ</tspan><tspan font-style="italic" font-size="15.5" dy="3.2" dx="0.2">ϕ</tspan><tspan font-style="italic" dy="-3.2" dx="0.5">L</tspan><tspan dx="0.1">1</tspan></text>
<rect x="998.5" y="34.2" width="12.1" height="640.0" fill="url(#jet)" stroke="#000" stroke-width="1.15"/>
<g stroke="#000" stroke-width="2.6">
<line x1="1011.1" y1="653.6" x2="1004.6" y2="653.6"/>
<line x1="1011.1" y1="612.3" x2="1004.6" y2="612.3"/>
<line x1="1011.1" y1="571.0" x2="1004.6" y2="571.0"/>
<line x1="1011.1" y1="529.7" x2="1004.6" y2="529.7"/>
<line x1="1011.1" y1="488.4" x2="1004.6" y2="488.4"/>
<line x1="1011.1" y1="447.1" x2="1004.6" y2="447.1"/>
<line x1="1011.1" y1="405.8" x2="1004.6" y2="405.8"/>
<line x1="1011.1" y1="364.5" x2="1004.6" y2="364.5"/>
<line x1="1011.1" y1="323.2" x2="1004.6" y2="323.2"/>
<line x1="1011.1" y1="281.9" x2="1004.6" y2="281.9"/>
<line x1="1011.1" y1="240.7" x2="1004.6" y2="240.7"/>
<line x1="1011.1" y1="199.4" x2="1004.6" y2="199.4"/>
<line x1="1011.1" y1="158.1" x2="1004.6" y2="158.1"/>
<line x1="1011.1" y1="116.8" x2="1004.6" y2="116.8"/>
<line x1="1011.1" y1="75.5" x2="1004.6" y2="75.5"/>
<line x1="1011.1" y1="34.2" x2="1004.6" y2="34.2"/>
</g>
<text transform="translate(1015.6,661.1) scale(1,0.972)" font-size="19" text-anchor="start">2</text>
<text transform="translate(1015.6,619.8) scale(1,0.972)" font-size="19" text-anchor="start">4</text>
<text transform="translate(1015.6,578.5) scale(1,0.972)" font-size="19" text-anchor="start">6</text>
<text transform="translate(1015.6,537.2) scale(1,0.972)" font-size="19" text-anchor="start">8</text>
<text transform="translate(1014.8,495.9) scale(1,0.972)" font-size="19" text-anchor="start">10</text>
<text transform="translate(1014.8,454.6) scale(1,0.972)" font-size="19" text-anchor="start">12</text>
<text transform="translate(1014.8,413.3) scale(1,0.972)" font-size="19" text-anchor="start">14</text>
<text transform="translate(1014.8,372.0) scale(1,0.972)" font-size="19" text-anchor="start">16</text>
<text transform="translate(1014.8,330.7) scale(1,0.972)" font-size="19" text-anchor="start">18</text>
<text transform="translate(1014.8,289.4) scale(1,0.972)" font-size="19" text-anchor="start">20</text>
<text transform="translate(1014.8,248.2) scale(1,0.972)" font-size="19" text-anchor="start">22</text>
<text transform="translate(1014.8,206.9) scale(1,0.972)" font-size="19" text-anchor="start">24</text>
<text transform="translate(1014.8,165.6) scale(1,0.972)" font-size="19" text-anchor="start">26</text>
<text transform="translate(1014.8,124.3) scale(1,0.972)" font-size="19" text-anchor="start">28</text>
<text transform="translate(1014.8,83.0) scale(1,0.972)" font-size="19" text-anchor="start">30</text>
<text transform="translate(1014.8,41.7) scale(1,0.972)" font-size="19" text-anchor="start">32</text>
<text transform="translate(1064.9,357.7) rotate(-90) scale(1,0.972)" font-size="22.3" text-anchor="middle">PRN#</text>
</g>
</svg>
</body></html>
